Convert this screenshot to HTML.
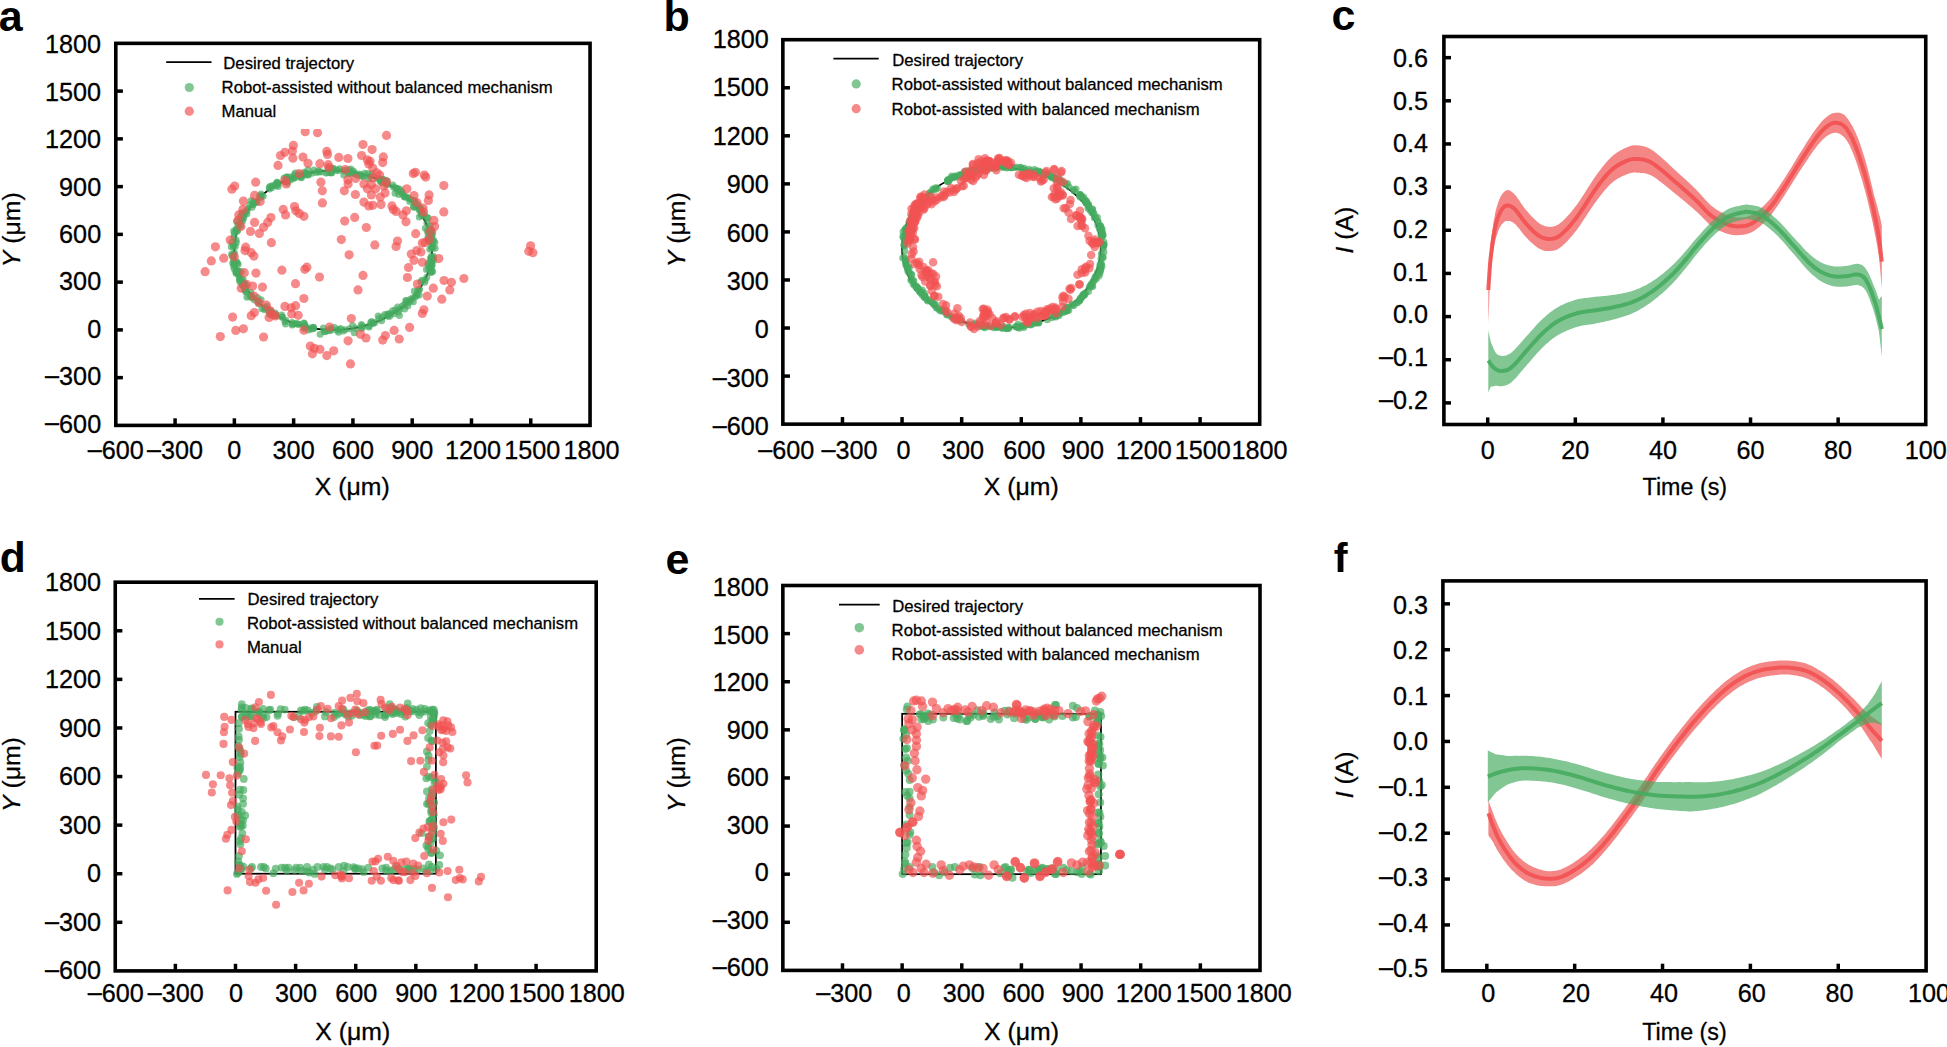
<!DOCTYPE html>
<html lang="en"><head><meta charset="utf-8"><title>Figure</title>
<style>html,body{margin:0;padding:0;background:#fff}svg{display:block}text{stroke:#000;stroke-width:0.3px;stroke-linejoin:round}text[font-weight=bold]{stroke:none}</style></head>
<body>
<svg width="1947" height="1047" viewBox="0 0 1947 1047" font-family='"Liberation Sans", sans-serif' fill="#000">
<rect width="1947" height="1047" fill="#fff"/>
<clipPath id="cpa"><rect x="115.8" y="129.0" width="474.24999999999994" height="296.4"/></clipPath>
<g clip-path="url(#cpa)">
<ellipse cx="333.16" cy="250.29" rx="98.80" ry="79.59" fill="none" stroke="#000" stroke-width="1.75"/>
<g fill="rgb(70,171,96)" fill-opacity="0.68">
<circle cx="400.1" cy="189.3" r="3.5"/><circle cx="330.1" cy="172.8" r="3.5"/><circle cx="240.7" cy="225.9" r="3.5"/><circle cx="413.5" cy="207.2" r="3.5"/><circle cx="431.6" cy="236.0" r="3.5"/><circle cx="340.7" cy="328.4" r="3.5"/><circle cx="429.7" cy="249.3" r="3.5"/><circle cx="346.5" cy="170.2" r="3.5"/><circle cx="426.8" cy="277.3" r="3.5"/><circle cx="430.8" cy="237.6" r="3.5"/><circle cx="235.9" cy="271.2" r="3.5"/><circle cx="353.7" cy="172.8" r="3.5"/><circle cx="244.6" cy="212.2" r="3.5"/><circle cx="241.3" cy="219.8" r="3.5"/><circle cx="343.7" cy="170.7" r="3.5"/><circle cx="236.1" cy="229.9" r="3.5"/><circle cx="307.9" cy="169.8" r="3.5"/><circle cx="239.8" cy="278.2" r="3.5"/><circle cx="269.8" cy="314.2" r="3.5"/><circle cx="399.4" cy="315.6" r="3.5"/><circle cx="404.0" cy="196.2" r="3.5"/><circle cx="308.7" cy="330.1" r="3.5"/><circle cx="421.9" cy="280.3" r="3.5"/><circle cx="284.9" cy="321.7" r="3.5"/><circle cx="301.5" cy="177.7" r="3.5"/><circle cx="388.4" cy="314.5" r="3.5"/><circle cx="234.5" cy="252.9" r="3.5"/><circle cx="337.7" cy="170.7" r="3.5"/><circle cx="362.0" cy="325.8" r="3.5"/><circle cx="238.2" cy="274.6" r="3.5"/><circle cx="304.6" cy="326.0" r="3.5"/><circle cx="242.6" cy="220.9" r="3.5"/><circle cx="233.8" cy="254.5" r="3.5"/><circle cx="257.1" cy="201.9" r="3.5"/><circle cx="233.8" cy="245.1" r="3.5"/><circle cx="304.5" cy="326.9" r="3.5"/><circle cx="430.3" cy="258.6" r="3.5"/><circle cx="380.3" cy="181.0" r="3.5"/><circle cx="431.9" cy="259.3" r="3.5"/><circle cx="395.1" cy="310.1" r="3.5"/><circle cx="343.8" cy="175.1" r="3.5"/><circle cx="246.0" cy="287.6" r="3.5"/><circle cx="237.6" cy="230.1" r="3.5"/><circle cx="430.7" cy="272.1" r="3.5"/><circle cx="432.9" cy="247.4" r="3.5"/><circle cx="405.7" cy="300.7" r="3.5"/><circle cx="327.2" cy="330.8" r="3.5"/><circle cx="243.1" cy="279.6" r="3.5"/><circle cx="241.7" cy="213.1" r="3.5"/><circle cx="242.4" cy="284.8" r="3.5"/><circle cx="363.3" cy="176.2" r="3.5"/><circle cx="271.6" cy="187.8" r="3.5"/><circle cx="278.2" cy="186.4" r="3.5"/><circle cx="258.2" cy="301.8" r="3.5"/><circle cx="236.3" cy="229.2" r="3.5"/><circle cx="377.0" cy="178.4" r="3.5"/><circle cx="246.0" cy="291.7" r="3.5"/><circle cx="361.4" cy="324.5" r="3.5"/><circle cx="373.3" cy="323.2" r="3.5"/><circle cx="285.6" cy="323.9" r="3.5"/><circle cx="419.3" cy="210.2" r="3.5"/><circle cx="336.6" cy="330.2" r="3.5"/><circle cx="333.4" cy="168.6" r="3.5"/><circle cx="276.9" cy="182.8" r="3.5"/><circle cx="424.0" cy="216.0" r="3.5"/><circle cx="382.8" cy="179.2" r="3.5"/><circle cx="319.0" cy="171.7" r="3.5"/><circle cx="290.6" cy="180.1" r="3.5"/><circle cx="233.8" cy="236.9" r="3.5"/><circle cx="245.8" cy="212.1" r="3.5"/><circle cx="371.9" cy="173.8" r="3.5"/><circle cx="232.0" cy="255.5" r="3.5"/><circle cx="357.7" cy="175.4" r="3.5"/><circle cx="429.5" cy="240.1" r="3.5"/><circle cx="433.3" cy="241.2" r="3.5"/><circle cx="387.3" cy="181.0" r="3.5"/><circle cx="305.5" cy="326.1" r="3.5"/><circle cx="351.0" cy="173.6" r="3.5"/><circle cx="431.7" cy="262.6" r="3.5"/><circle cx="349.4" cy="173.5" r="3.5"/><circle cx="275.2" cy="313.1" r="3.5"/><circle cx="289.7" cy="177.0" r="3.5"/><circle cx="264.8" cy="309.8" r="3.5"/><circle cx="430.8" cy="266.4" r="3.5"/><circle cx="402.6" cy="305.8" r="3.5"/><circle cx="295.3" cy="173.1" r="3.5"/><circle cx="425.1" cy="280.0" r="3.5"/><circle cx="331.7" cy="172.2" r="3.5"/><circle cx="432.5" cy="246.0" r="3.5"/><circle cx="374.9" cy="322.4" r="3.5"/><circle cx="428.6" cy="268.9" r="3.5"/><circle cx="399.7" cy="309.0" r="3.5"/><circle cx="430.4" cy="263.3" r="3.5"/><circle cx="263.2" cy="196.2" r="3.5"/><circle cx="276.1" cy="184.2" r="3.5"/><circle cx="240.5" cy="216.6" r="3.5"/><circle cx="367.9" cy="173.4" r="3.5"/><circle cx="304.4" cy="172.3" r="3.5"/><circle cx="286.8" cy="176.9" r="3.5"/><circle cx="429.0" cy="241.5" r="3.5"/><circle cx="362.6" cy="176.4" r="3.5"/><circle cx="354.3" cy="332.8" r="3.5"/><circle cx="355.6" cy="174.0" r="3.5"/><circle cx="420.8" cy="282.1" r="3.5"/><circle cx="277.0" cy="182.3" r="3.5"/><circle cx="236.3" cy="242.7" r="3.5"/><circle cx="432.1" cy="257.6" r="3.5"/><circle cx="420.9" cy="208.4" r="3.5"/><circle cx="381.6" cy="179.5" r="3.5"/><circle cx="338.8" cy="329.4" r="3.5"/><circle cx="252.4" cy="297.9" r="3.5"/><circle cx="308.1" cy="174.4" r="3.5"/><circle cx="397.6" cy="306.9" r="3.5"/><circle cx="406.5" cy="300.6" r="3.5"/><circle cx="398.0" cy="190.8" r="3.5"/><circle cx="429.0" cy="230.9" r="3.5"/><circle cx="423.8" cy="213.9" r="3.5"/><circle cx="379.0" cy="318.7" r="3.5"/><circle cx="258.7" cy="303.4" r="3.5"/><circle cx="245.2" cy="284.0" r="3.5"/><circle cx="349.6" cy="170.3" r="3.5"/><circle cx="410.3" cy="301.3" r="3.5"/><circle cx="240.5" cy="282.4" r="3.5"/><circle cx="316.5" cy="172.4" r="3.5"/><circle cx="356.0" cy="328.2" r="3.5"/><circle cx="285.8" cy="320.2" r="3.5"/><circle cx="418.5" cy="205.3" r="3.5"/><circle cx="431.4" cy="229.8" r="3.5"/><circle cx="339.7" cy="168.8" r="3.5"/><circle cx="407.2" cy="197.3" r="3.5"/><circle cx="382.4" cy="180.8" r="3.5"/><circle cx="414.5" cy="200.5" r="3.5"/><circle cx="414.3" cy="291.0" r="3.5"/><circle cx="419.2" cy="295.1" r="3.5"/><circle cx="306.1" cy="173.5" r="3.5"/><circle cx="414.9" cy="202.1" r="3.5"/><circle cx="275.8" cy="315.7" r="3.5"/><circle cx="431.7" cy="259.0" r="3.5"/><circle cx="305.6" cy="175.1" r="3.5"/><circle cx="295.2" cy="177.6" r="3.5"/><circle cx="428.2" cy="218.0" r="3.5"/><circle cx="428.2" cy="264.9" r="3.5"/><circle cx="409.4" cy="198.5" r="3.5"/><circle cx="433.8" cy="260.6" r="3.5"/><circle cx="238.6" cy="271.3" r="3.5"/><circle cx="327.6" cy="172.8" r="3.5"/><circle cx="237.9" cy="270.8" r="3.5"/><circle cx="420.6" cy="210.6" r="3.5"/><circle cx="313.8" cy="170.1" r="3.5"/><circle cx="276.0" cy="315.4" r="3.5"/><circle cx="270.7" cy="314.2" r="3.5"/><circle cx="298.8" cy="176.0" r="3.5"/><circle cx="287.6" cy="180.8" r="3.5"/><circle cx="413.3" cy="301.7" r="3.5"/><circle cx="301.2" cy="175.8" r="3.5"/><circle cx="244.4" cy="289.2" r="3.5"/><circle cx="251.5" cy="295.6" r="3.5"/><circle cx="337.1" cy="170.1" r="3.5"/><circle cx="421.7" cy="215.5" r="3.5"/><circle cx="421.2" cy="214.1" r="3.5"/><circle cx="268.3" cy="309.8" r="3.5"/><circle cx="231.2" cy="246.8" r="3.5"/><circle cx="398.3" cy="311.9" r="3.5"/><circle cx="361.3" cy="328.6" r="3.5"/><circle cx="421.7" cy="212.6" r="3.5"/><circle cx="349.4" cy="328.8" r="3.5"/><circle cx="432.5" cy="257.9" r="3.5"/><circle cx="409.7" cy="201.4" r="3.5"/><circle cx="233.2" cy="257.6" r="3.5"/><circle cx="410.5" cy="299.3" r="3.5"/><circle cx="395.8" cy="187.9" r="3.5"/><circle cx="293.3" cy="177.4" r="3.5"/><circle cx="415.5" cy="296.7" r="3.5"/><circle cx="384.8" cy="314.6" r="3.5"/><circle cx="330.8" cy="329.8" r="3.5"/><circle cx="243.7" cy="217.9" r="3.5"/><circle cx="387.1" cy="183.9" r="3.5"/><circle cx="331.6" cy="172.9" r="3.5"/><circle cx="427.0" cy="217.6" r="3.5"/><circle cx="239.4" cy="274.4" r="3.5"/><circle cx="236.3" cy="271.1" r="3.5"/><circle cx="255.8" cy="202.5" r="3.5"/><circle cx="328.1" cy="168.1" r="3.5"/><circle cx="247.0" cy="210.2" r="3.5"/><circle cx="242.3" cy="285.2" r="3.5"/><circle cx="397.5" cy="188.8" r="3.5"/><circle cx="403.1" cy="193.9" r="3.5"/><circle cx="251.2" cy="200.5" r="3.5"/><circle cx="253.4" cy="204.3" r="3.5"/><circle cx="431.4" cy="246.6" r="3.5"/><circle cx="238.1" cy="264.2" r="3.5"/><circle cx="241.4" cy="220.1" r="3.5"/><circle cx="294.7" cy="323.8" r="3.5"/><circle cx="236.2" cy="239.9" r="3.5"/><circle cx="348.3" cy="173.2" r="3.5"/><circle cx="416.8" cy="295.0" r="3.5"/><circle cx="419.0" cy="289.6" r="3.5"/><circle cx="430.1" cy="225.7" r="3.5"/><circle cx="419.3" cy="217.1" r="3.5"/><circle cx="386.4" cy="183.2" r="3.5"/><circle cx="343.2" cy="330.9" r="3.5"/><circle cx="298.5" cy="324.1" r="3.5"/><circle cx="389.8" cy="313.7" r="3.5"/><circle cx="324.6" cy="331.8" r="3.5"/><circle cx="249.2" cy="296.3" r="3.5"/><circle cx="426.4" cy="269.4" r="3.5"/><circle cx="243.3" cy="285.1" r="3.5"/><circle cx="353.4" cy="170.9" r="3.5"/><circle cx="243.3" cy="284.1" r="3.5"/><circle cx="292.1" cy="322.4" r="3.5"/><circle cx="313.1" cy="327.3" r="3.5"/><circle cx="384.6" cy="180.1" r="3.5"/><circle cx="320.1" cy="334.2" r="3.5"/><circle cx="368.9" cy="326.1" r="3.5"/><circle cx="264.9" cy="307.7" r="3.5"/><circle cx="432.7" cy="271.4" r="3.5"/><circle cx="397.1" cy="188.6" r="3.5"/><circle cx="281.6" cy="315.0" r="3.5"/><circle cx="303.9" cy="322.9" r="3.5"/><circle cx="431.9" cy="264.9" r="3.5"/><circle cx="259.5" cy="196.1" r="3.5"/><circle cx="382.9" cy="183.1" r="3.5"/><circle cx="286.7" cy="176.9" r="3.5"/><circle cx="431.6" cy="271.1" r="3.5"/><circle cx="404.7" cy="196.9" r="3.5"/><circle cx="405.5" cy="197.0" r="3.5"/><circle cx="305.2" cy="173.6" r="3.5"/><circle cx="435.1" cy="248.2" r="3.5"/><circle cx="369.6" cy="176.3" r="3.5"/><circle cx="264.1" cy="307.8" r="3.5"/><circle cx="254.6" cy="299.9" r="3.5"/><circle cx="311.9" cy="173.3" r="3.5"/><circle cx="237.9" cy="271.2" r="3.5"/><circle cx="332.6" cy="168.2" r="3.5"/><circle cx="292.6" cy="324.0" r="3.5"/><circle cx="428.0" cy="263.0" r="3.5"/><circle cx="241.3" cy="271.8" r="3.5"/><circle cx="345.0" cy="329.8" r="3.5"/><circle cx="244.6" cy="284.1" r="3.5"/><circle cx="411.0" cy="199.5" r="3.5"/><circle cx="369.0" cy="327.0" r="3.5"/><circle cx="236.2" cy="273.3" r="3.5"/><circle cx="430.2" cy="267.8" r="3.5"/><circle cx="395.0" cy="193.3" r="3.5"/><circle cx="244.9" cy="285.1" r="3.5"/><circle cx="270.4" cy="186.3" r="3.5"/><circle cx="233.8" cy="264.8" r="3.5"/><circle cx="239.0" cy="225.4" r="3.5"/><circle cx="300.5" cy="177.3" r="3.5"/><circle cx="292.2" cy="324.9" r="3.5"/><circle cx="235.2" cy="246.5" r="3.5"/><circle cx="361.1" cy="175.0" r="3.5"/><circle cx="431.8" cy="248.4" r="3.5"/><circle cx="407.8" cy="305.9" r="3.5"/><circle cx="378.2" cy="316.1" r="3.5"/><circle cx="237.3" cy="231.3" r="3.5"/><circle cx="382.2" cy="317.1" r="3.5"/><circle cx="433.5" cy="256.6" r="3.5"/><circle cx="299.0" cy="174.1" r="3.5"/><circle cx="233.9" cy="266.1" r="3.5"/><circle cx="269.2" cy="187.2" r="3.5"/><circle cx="244.6" cy="214.4" r="3.5"/><circle cx="249.9" cy="204.7" r="3.5"/><circle cx="323.3" cy="328.1" r="3.5"/><circle cx="412.6" cy="298.1" r="3.5"/><circle cx="330.6" cy="328.2" r="3.5"/><circle cx="271.1" cy="310.9" r="3.5"/><circle cx="252.1" cy="207.3" r="3.5"/><circle cx="266.8" cy="306.3" r="3.5"/><circle cx="352.6" cy="325.6" r="3.5"/><circle cx="389.7" cy="316.3" r="3.5"/><circle cx="257.5" cy="297.5" r="3.5"/><circle cx="275.3" cy="185.7" r="3.5"/><circle cx="404.6" cy="309.1" r="3.5"/><circle cx="236.1" cy="272.7" r="3.5"/><circle cx="231.9" cy="242.3" r="3.5"/><circle cx="234.3" cy="233.5" r="3.5"/><circle cx="329.9" cy="330.7" r="3.5"/><circle cx="246.9" cy="213.7" r="3.5"/><circle cx="433.5" cy="240.2" r="3.5"/><circle cx="231.7" cy="254.0" r="3.5"/><circle cx="253.0" cy="204.6" r="3.5"/><circle cx="296.4" cy="323.5" r="3.5"/><circle cx="359.0" cy="173.9" r="3.5"/><circle cx="407.9" cy="302.7" r="3.5"/><circle cx="381.6" cy="320.7" r="3.5"/><circle cx="236.5" cy="261.7" r="3.5"/><circle cx="324.8" cy="331.4" r="3.5"/><circle cx="380.9" cy="182.0" r="3.5"/><circle cx="371.6" cy="321.6" r="3.5"/><circle cx="321.0" cy="172.0" r="3.5"/><circle cx="242.0" cy="279.9" r="3.5"/><circle cx="380.0" cy="179.0" r="3.5"/><circle cx="287.2" cy="183.1" r="3.5"/><circle cx="350.8" cy="169.1" r="3.5"/><circle cx="387.9" cy="316.2" r="3.5"/><circle cx="432.3" cy="234.7" r="3.5"/><circle cx="293.5" cy="178.6" r="3.5"/><circle cx="242.8" cy="217.0" r="3.5"/><circle cx="368.6" cy="178.8" r="3.5"/><circle cx="261.9" cy="308.7" r="3.5"/><circle cx="236.5" cy="221.2" r="3.5"/><circle cx="417.6" cy="291.6" r="3.5"/><circle cx="325.9" cy="172.9" r="3.5"/><circle cx="234.9" cy="263.7" r="3.5"/><circle cx="311.9" cy="329.0" r="3.5"/><circle cx="269.5" cy="189.1" r="3.5"/><circle cx="313.7" cy="327.4" r="3.5"/><circle cx="313.7" cy="328.4" r="3.5"/><circle cx="253.5" cy="201.7" r="3.5"/><circle cx="233.3" cy="246.4" r="3.5"/><circle cx="426.9" cy="222.8" r="3.5"/><circle cx="251.3" cy="296.8" r="3.5"/><circle cx="429.2" cy="233.2" r="3.5"/><circle cx="304.4" cy="328.5" r="3.5"/><circle cx="261.1" cy="299.8" r="3.5"/><circle cx="278.5" cy="183.1" r="3.5"/><circle cx="298.5" cy="324.4" r="3.5"/><circle cx="413.7" cy="206.2" r="3.5"/><circle cx="261.0" cy="194.0" r="3.5"/><circle cx="381.8" cy="180.3" r="3.5"/><circle cx="233.7" cy="231.0" r="3.5"/><circle cx="245.7" cy="289.1" r="3.5"/><circle cx="284.1" cy="178.0" r="3.5"/><circle cx="246.9" cy="297.2" r="3.5"/><circle cx="425.3" cy="228.3" r="3.5"/><circle cx="362.5" cy="327.6" r="3.5"/><circle cx="260.5" cy="197.5" r="3.5"/><circle cx="245.1" cy="289.6" r="3.5"/><circle cx="404.8" cy="304.4" r="3.5"/><circle cx="338.6" cy="332.2" r="3.5"/><circle cx="434.9" cy="242.4" r="3.5"/><circle cx="393.6" cy="187.3" r="3.5"/><circle cx="261.5" cy="195.8" r="3.5"/><circle cx="398.8" cy="194.4" r="3.5"/><circle cx="416.1" cy="295.2" r="3.5"/><circle cx="432.8" cy="232.0" r="3.5"/><circle cx="429.9" cy="228.7" r="3.5"/><circle cx="318.4" cy="170.7" r="3.5"/><circle cx="431.3" cy="236.4" r="3.5"/><circle cx="268.9" cy="311.0" r="3.5"/><circle cx="387.7" cy="314.1" r="3.5"/><circle cx="282.6" cy="317.0" r="3.5"/><circle cx="432.0" cy="265.8" r="3.5"/><circle cx="270.8" cy="312.4" r="3.5"/><circle cx="424.7" cy="282.2" r="3.5"/><circle cx="250.8" cy="292.6" r="3.5"/><circle cx="239.3" cy="280.5" r="3.5"/><circle cx="233.6" cy="261.6" r="3.5"/><circle cx="248.1" cy="208.3" r="3.5"/><circle cx="364.6" cy="173.2" r="3.5"/><circle cx="282.0" cy="317.3" r="3.5"/><circle cx="310.7" cy="328.0" r="3.5"/><circle cx="334.5" cy="327.5" r="3.5"/><circle cx="332.2" cy="169.4" r="3.5"/><circle cx="419.5" cy="289.3" r="3.5"/><circle cx="393.9" cy="313.8" r="3.5"/><circle cx="416.1" cy="207.2" r="3.5"/><circle cx="370.8" cy="322.5" r="3.5"/><circle cx="432.1" cy="258.0" r="3.5"/><circle cx="427.4" cy="230.8" r="3.5"/><circle cx="401.6" cy="192.9" r="3.5"/><circle cx="255.5" cy="202.0" r="3.5"/><circle cx="427.7" cy="238.5" r="3.5"/><circle cx="232.7" cy="262.9" r="3.5"/><circle cx="419.6" cy="208.4" r="3.5"/><circle cx="428.0" cy="233.7" r="3.5"/><circle cx="294.1" cy="174.9" r="3.5"/><circle cx="401.6" cy="191.4" r="3.5"/><circle cx="392.5" cy="310.8" r="3.5"/><circle cx="300.7" cy="176.0" r="3.5"/><circle cx="239.8" cy="278.6" r="3.5"/><circle cx="286.1" cy="181.7" r="3.5"/><circle cx="431.0" cy="272.6" r="3.5"/><circle cx="245.9" cy="291.6" r="3.5"/><circle cx="237.8" cy="224.5" r="3.5"/><circle cx="431.4" cy="256.3" r="3.5"/><circle cx="304.3" cy="323.5" r="3.5"/><circle cx="234.0" cy="268.6" r="3.5"/><circle cx="308.2" cy="175.0" r="3.5"/><circle cx="387.0" cy="184.8" r="3.5"/><circle cx="415.5" cy="203.5" r="3.5"/><circle cx="277.5" cy="184.7" r="3.5"/><circle cx="372.4" cy="323.4" r="3.5"/><circle cx="275.8" cy="314.8" r="3.5"/><circle cx="272.8" cy="185.4" r="3.5"/><circle cx="288.0" cy="179.2" r="3.5"/><circle cx="237.4" cy="263.0" r="3.5"/><circle cx="392.8" cy="185.0" r="3.5"/><circle cx="287.1" cy="180.4" r="3.5"/>
</g>
<g fill="rgb(241,82,82)" fill-opacity="0.68">
<circle cx="305.2" cy="131.7" r="4.6"/><circle cx="317.5" cy="132.7" r="4.6"/><circle cx="293.4" cy="145.4" r="4.6"/><circle cx="292.4" cy="150.9" r="4.6"/><circle cx="284.9" cy="152.3" r="4.6"/><circle cx="280.5" cy="155.5" r="4.6"/><circle cx="292.9" cy="158.2" r="4.6"/><circle cx="303.0" cy="157.1" r="4.6"/><circle cx="308.0" cy="163.3" r="4.6"/><circle cx="278.0" cy="165.4" r="4.6"/><circle cx="326.8" cy="151.4" r="4.6"/><circle cx="327.5" cy="154.4" r="4.6"/><circle cx="319.9" cy="163.7" r="4.6"/><circle cx="328.2" cy="164.7" r="4.6"/><circle cx="328.9" cy="167.4" r="4.6"/><circle cx="338.8" cy="157.4" r="4.6"/><circle cx="347.9" cy="158.5" r="4.6"/><circle cx="363.0" cy="144.5" r="4.6"/><circle cx="361.6" cy="155.5" r="4.6"/><circle cx="367.4" cy="159.9" r="4.6"/><circle cx="368.8" cy="164.0" r="4.6"/><circle cx="299.3" cy="173.6" r="4.6"/><circle cx="284.9" cy="180.5" r="4.6"/><circle cx="286.3" cy="183.9" r="4.6"/><circle cx="255.7" cy="182.2" r="4.6"/><circle cx="234.7" cy="186.0" r="4.6"/><circle cx="231.9" cy="189.2" r="4.6"/><circle cx="254.6" cy="195.4" r="4.6"/><circle cx="243.4" cy="201.1" r="4.6"/><circle cx="260.1" cy="201.5" r="4.6"/><circle cx="242.9" cy="209.4" r="4.6"/><circle cx="238.8" cy="214.9" r="4.6"/><circle cx="238.1" cy="220.4" r="4.6"/><circle cx="240.9" cy="226.6" r="4.6"/><circle cx="320.9" cy="182.2" r="4.6"/><circle cx="322.3" cy="190.8" r="4.6"/><circle cx="322.4" cy="202.9" r="4.6"/><circle cx="345.4" cy="169.5" r="4.6"/><circle cx="347.9" cy="179.8" r="4.6"/><circle cx="348.1" cy="183.9" r="4.6"/><circle cx="355.7" cy="178.4" r="4.6"/><circle cx="344.3" cy="190.8" r="4.6"/><circle cx="355.4" cy="194.5" r="4.6"/><circle cx="363.9" cy="183.9" r="4.6"/><circle cx="367.4" cy="188.8" r="4.6"/><circle cx="363.9" cy="202.1" r="4.6"/><circle cx="368.8" cy="205.9" r="4.6"/><circle cx="283.2" cy="209.4" r="4.6"/><circle cx="294.5" cy="206.6" r="4.6"/><circle cx="285.6" cy="214.9" r="4.6"/><circle cx="295.9" cy="210.8" r="4.6"/><circle cx="299.3" cy="213.5" r="4.6"/><circle cx="303.9" cy="216.3" r="4.6"/><circle cx="270.9" cy="217.6" r="4.6"/><circle cx="254.6" cy="222.4" r="4.6"/><circle cx="267.7" cy="222.4" r="4.6"/><circle cx="263.6" cy="227.3" r="4.6"/><circle cx="250.5" cy="231.4" r="4.6"/><circle cx="259.4" cy="233.4" r="4.6"/><circle cx="354.7" cy="217.4" r="4.6"/><circle cx="344.7" cy="221.1" r="4.6"/><circle cx="366.3" cy="227.5" r="4.6"/><circle cx="230.2" cy="240.0" r="4.6"/><circle cx="215.4" cy="246.8" r="4.6"/><circle cx="271.4" cy="242.7" r="4.6"/><circle cx="341.3" cy="239.6" r="4.6"/><circle cx="349.1" cy="254.8" r="4.6"/><circle cx="245.7" cy="247.2" r="4.6"/><circle cx="245.0" cy="250.6" r="4.6"/><circle cx="251.2" cy="252.7" r="4.6"/><circle cx="253.9" cy="256.1" r="4.6"/><circle cx="223.7" cy="258.2" r="4.6"/><circle cx="211.3" cy="260.9" r="4.6"/><circle cx="234.3" cy="256.8" r="4.6"/><circle cx="386.5" cy="135.4" r="4.6"/><circle cx="372.1" cy="149.6" r="4.6"/><circle cx="383.3" cy="156.9" r="4.6"/><circle cx="382.7" cy="162.6" r="4.6"/><circle cx="370.0" cy="161.3" r="4.6"/><circle cx="372.8" cy="168.1" r="4.6"/><circle cx="376.9" cy="172.9" r="4.6"/><circle cx="379.6" cy="175.0" r="4.6"/><circle cx="372.8" cy="177.8" r="4.6"/><circle cx="371.4" cy="184.6" r="4.6"/><circle cx="375.5" cy="188.8" r="4.6"/><circle cx="383.8" cy="186.0" r="4.6"/><circle cx="386.5" cy="181.9" r="4.6"/><circle cx="385.1" cy="192.9" r="4.6"/><circle cx="371.4" cy="194.9" r="4.6"/><circle cx="380.3" cy="197.0" r="4.6"/><circle cx="372.8" cy="205.3" r="4.6"/><circle cx="381.0" cy="204.6" r="4.6"/><circle cx="413.3" cy="173.6" r="4.6"/><circle cx="415.4" cy="172.3" r="4.6"/><circle cx="424.3" cy="175.0" r="4.6"/><circle cx="425.7" cy="177.1" r="4.6"/><circle cx="443.8" cy="185.6" r="4.6"/><circle cx="429.1" cy="194.9" r="4.6"/><circle cx="428.4" cy="200.4" r="4.6"/><circle cx="406.9" cy="188.8" r="4.6"/><circle cx="414.0" cy="195.6" r="4.6"/><circle cx="416.8" cy="202.5" r="4.6"/><circle cx="422.9" cy="208.0" r="4.6"/><circle cx="423.6" cy="212.1" r="4.6"/><circle cx="443.8" cy="211.9" r="4.6"/><circle cx="392.0" cy="205.9" r="4.6"/><circle cx="393.4" cy="209.4" r="4.6"/><circle cx="396.1" cy="211.4" r="4.6"/><circle cx="406.4" cy="210.8" r="4.6"/><circle cx="403.0" cy="214.9" r="4.6"/><circle cx="406.0" cy="221.8" r="4.6"/><circle cx="433.9" cy="220.4" r="4.6"/><circle cx="434.6" cy="226.6" r="4.6"/><circle cx="430.5" cy="231.4" r="4.6"/><circle cx="415.7" cy="233.7" r="4.6"/><circle cx="429.1" cy="239.6" r="4.6"/><circle cx="397.5" cy="241.0" r="4.6"/><circle cx="396.1" cy="246.5" r="4.6"/><circle cx="374.8" cy="244.9" r="4.6"/><circle cx="422.3" cy="243.1" r="4.6"/><circle cx="425.0" cy="242.4" r="4.6"/><circle cx="416.8" cy="250.6" r="4.6"/><circle cx="411.3" cy="254.1" r="4.6"/><circle cx="420.9" cy="252.0" r="4.6"/><circle cx="414.0" cy="260.3" r="4.6"/><circle cx="422.3" cy="262.3" r="4.6"/><circle cx="438.8" cy="258.6" r="4.6"/><circle cx="530.6" cy="245.8" r="4.6"/><circle cx="528.8" cy="251.3" r="4.6"/><circle cx="532.9" cy="252.7" r="4.6"/><circle cx="205.1" cy="271.7" r="4.6"/><circle cx="244.3" cy="272.7" r="4.6"/><circle cx="256.0" cy="273.1" r="4.6"/><circle cx="281.9" cy="270.2" r="4.6"/><circle cx="306.9" cy="267.2" r="4.6"/><circle cx="304.8" cy="269.3" r="4.6"/><circle cx="319.5" cy="277.1" r="4.6"/><circle cx="363.0" cy="275.4" r="4.6"/><circle cx="358.0" cy="289.9" r="4.6"/><circle cx="295.5" cy="283.7" r="4.6"/><circle cx="303.9" cy="298.5" r="4.6"/><circle cx="241.2" cy="288.2" r="4.6"/><circle cx="246.4" cy="284.4" r="4.6"/><circle cx="252.6" cy="286.0" r="4.6"/><circle cx="262.5" cy="287.1" r="4.6"/><circle cx="253.9" cy="296.1" r="4.6"/><circle cx="258.8" cy="302.3" r="4.6"/><circle cx="266.3" cy="305.0" r="4.6"/><circle cx="269.8" cy="310.5" r="4.6"/><circle cx="272.5" cy="314.6" r="4.6"/><circle cx="269.1" cy="317.4" r="4.6"/><circle cx="275.3" cy="316.0" r="4.6"/><circle cx="284.9" cy="306.4" r="4.6"/><circle cx="291.1" cy="307.8" r="4.6"/><circle cx="295.6" cy="305.7" r="4.6"/><circle cx="291.8" cy="313.9" r="4.6"/><circle cx="298.2" cy="315.3" r="4.6"/><circle cx="232.6" cy="317.1" r="4.6"/><circle cx="251.2" cy="315.7" r="4.6"/><circle cx="254.4" cy="312.6" r="4.6"/><circle cx="235.8" cy="330.4" r="4.6"/><circle cx="243.4" cy="328.8" r="4.6"/><circle cx="220.3" cy="336.6" r="4.6"/><circle cx="263.6" cy="337.0" r="4.6"/><circle cx="303.9" cy="330.2" r="4.6"/><circle cx="329.6" cy="327.0" r="4.6"/><circle cx="351.3" cy="318.5" r="4.6"/><circle cx="348.1" cy="340.8" r="4.6"/><circle cx="360.5" cy="334.3" r="4.6"/><circle cx="366.0" cy="338.0" r="4.6"/><circle cx="310.3" cy="346.0" r="4.6"/><circle cx="314.4" cy="348.3" r="4.6"/><circle cx="319.9" cy="349.3" r="4.6"/><circle cx="312.4" cy="353.8" r="4.6"/><circle cx="326.8" cy="355.6" r="4.6"/><circle cx="333.7" cy="350.8" r="4.6"/><circle cx="350.5" cy="363.9" r="4.6"/><circle cx="408.5" cy="267.5" r="4.6"/><circle cx="407.4" cy="277.5" r="4.6"/><circle cx="417.4" cy="284.0" r="4.6"/><circle cx="444.0" cy="280.5" r="4.6"/><circle cx="451.4" cy="282.3" r="4.6"/><circle cx="463.9" cy="278.5" r="4.6"/><circle cx="433.3" cy="288.2" r="4.6"/><circle cx="449.8" cy="289.9" r="4.6"/><circle cx="427.3" cy="296.1" r="4.6"/><circle cx="441.8" cy="299.2" r="4.6"/><circle cx="423.9" cy="309.8" r="4.6"/><circle cx="422.3" cy="313.5" r="4.6"/><circle cx="409.6" cy="327.4" r="4.6"/><circle cx="394.1" cy="330.4" r="4.6"/><circle cx="385.4" cy="335.5" r="4.6"/><circle cx="382.7" cy="340.1" r="4.6"/><circle cx="399.2" cy="339.0" r="4.6"/>
</g>
</g>
<rect x="115.80" y="43.35" width="474.25" height="382.05" fill="none" stroke="#000" stroke-width="3.6"/>
<text x="115.80" y="458.70" font-size="25.2" text-anchor="middle"><tspan dy="-1.2">–</tspan><tspan dy="1.2">600</tspan></text>
<line x1="175.08" y1="425.40" x2="175.08" y2="418.30" stroke="#000" stroke-width="3.5"/>
<text x="175.08" y="458.70" font-size="25.2" text-anchor="middle"><tspan dy="-1.2">–</tspan><tspan dy="1.2">300</tspan></text>
<line x1="234.36" y1="425.40" x2="234.36" y2="418.30" stroke="#000" stroke-width="3.5"/>
<text x="234.36" y="458.70" font-size="25.2" text-anchor="middle">0</text>
<line x1="293.64" y1="425.40" x2="293.64" y2="418.30" stroke="#000" stroke-width="3.5"/>
<text x="293.64" y="458.70" font-size="25.2" text-anchor="middle">300</text>
<line x1="352.92" y1="425.40" x2="352.92" y2="418.30" stroke="#000" stroke-width="3.5"/>
<text x="352.92" y="458.70" font-size="25.2" text-anchor="middle">600</text>
<line x1="412.21" y1="425.40" x2="412.21" y2="418.30" stroke="#000" stroke-width="3.5"/>
<text x="412.21" y="458.70" font-size="25.2" text-anchor="middle">900</text>
<line x1="471.49" y1="425.40" x2="471.49" y2="418.30" stroke="#000" stroke-width="3.5"/>
<text x="472.99" y="458.70" font-size="25.2" text-anchor="middle">1200</text>
<line x1="530.77" y1="425.40" x2="530.77" y2="418.30" stroke="#000" stroke-width="3.5"/>
<text x="532.27" y="458.70" font-size="25.2" text-anchor="middle">1500</text>
<text x="591.45" y="458.70" font-size="25.2" text-anchor="middle">1800</text>
<text x="101.15" y="432.55" font-size="25.2" text-anchor="end"><tspan dy="-1.2">–</tspan><tspan dy="1.2">600</tspan></text>
<line x1="115.80" y1="377.64" x2="122.90" y2="377.64" stroke="#000" stroke-width="3.5"/>
<text x="101.15" y="385.15" font-size="25.2" text-anchor="end"><tspan dy="-1.2">–</tspan><tspan dy="1.2">300</tspan></text>
<line x1="115.80" y1="329.89" x2="122.90" y2="329.89" stroke="#000" stroke-width="3.5"/>
<text x="101.15" y="337.75" font-size="25.2" text-anchor="end">0</text>
<line x1="115.80" y1="282.13" x2="122.90" y2="282.13" stroke="#000" stroke-width="3.5"/>
<text x="101.15" y="290.36" font-size="25.2" text-anchor="end">300</text>
<line x1="115.80" y1="234.38" x2="122.90" y2="234.38" stroke="#000" stroke-width="3.5"/>
<text x="101.15" y="242.96" font-size="25.2" text-anchor="end">600</text>
<line x1="115.80" y1="186.62" x2="122.90" y2="186.62" stroke="#000" stroke-width="3.5"/>
<text x="101.15" y="195.56" font-size="25.2" text-anchor="end">900</text>
<line x1="115.80" y1="138.86" x2="122.90" y2="138.86" stroke="#000" stroke-width="3.5"/>
<text x="101.15" y="148.16" font-size="25.2" text-anchor="end">1200</text>
<line x1="115.80" y1="91.11" x2="122.90" y2="91.11" stroke="#000" stroke-width="3.5"/>
<text x="101.15" y="100.77" font-size="25.2" text-anchor="end">1500</text>
<text x="101.15" y="53.37" font-size="25.2" text-anchor="end">1800</text>
<text x="352.32" y="494.70" font-size="24.8" text-anchor="middle">X (μm)</text>
<text transform="translate(19.70,229.70) rotate(-90)" font-size="24.8" text-anchor="middle"><tspan font-style="italic">Y</tspan> (μm)</text>
<line x1="166.2" y1="62.2" x2="211.5" y2="62.2" stroke="#000" stroke-width="1.75"/>
<circle cx="189.3" cy="87.5" r="4.6" fill="rgb(70,171,96)" fill-opacity="0.68"/>
<circle cx="189.3" cy="111.2" r="4.6" fill="rgb(241,82,82)" fill-opacity="0.68"/>
<text x="223.30" y="68.7" font-size="16.7">Desired trajectory</text>
<text x="221.6" y="92.8" font-size="16.7">Robot-assisted without balanced mechanism</text>
<text x="221.6" y="116.8" font-size="16.7">Manual</text>
<text x="-1.3" y="30.9" font-size="43" font-weight="bold">a</text>
<clipPath id="cpb"><rect x="782.85" y="39.7" width="476.85" height="384.45"/></clipPath>
<g clip-path="url(#cpb)">
<ellipse cx="1001.41" cy="247.94" rx="99.34" ry="80.09" fill="none" stroke="#000" stroke-width="1.75"/>
<g fill="rgb(70,171,96)" fill-opacity="0.68">
<circle cx="1011.3" cy="167.8" r="3.5"/><circle cx="924.8" cy="295.8" r="3.5"/><circle cx="933.6" cy="304.3" r="3.5"/><circle cx="1055.9" cy="315.7" r="3.5"/><circle cx="997.9" cy="166.6" r="3.5"/><circle cx="903.0" cy="231.7" r="3.5"/><circle cx="1054.7" cy="314.9" r="3.5"/><circle cx="1062.2" cy="181.8" r="3.5"/><circle cx="937.4" cy="308.0" r="3.5"/><circle cx="998.4" cy="326.6" r="3.5"/><circle cx="955.9" cy="319.2" r="3.5"/><circle cx="919.5" cy="291.0" r="3.5"/><circle cx="971.7" cy="169.2" r="3.5"/><circle cx="905.3" cy="233.4" r="3.5"/><circle cx="984.2" cy="327.0" r="3.5"/><circle cx="1090.6" cy="284.9" r="3.5"/><circle cx="924.8" cy="197.7" r="3.5"/><circle cx="1094.5" cy="278.4" r="3.5"/><circle cx="1076.2" cy="302.9" r="3.5"/><circle cx="1024.4" cy="168.2" r="3.5"/><circle cx="1100.0" cy="264.2" r="3.5"/><circle cx="972.2" cy="170.4" r="3.5"/><circle cx="904.9" cy="250.8" r="3.5"/><circle cx="917.6" cy="288.4" r="3.5"/><circle cx="916.8" cy="288.3" r="3.5"/><circle cx="1093.0" cy="281.5" r="3.5"/><circle cx="1066.4" cy="311.3" r="3.5"/><circle cx="1055.5" cy="178.5" r="3.5"/><circle cx="1068.8" cy="310.3" r="3.5"/><circle cx="913.8" cy="280.8" r="3.5"/><circle cx="981.3" cy="325.9" r="3.5"/><circle cx="913.1" cy="283.7" r="3.5"/><circle cx="981.7" cy="167.1" r="3.5"/><circle cx="1103.9" cy="252.3" r="3.5"/><circle cx="1088.7" cy="204.5" r="3.5"/><circle cx="1061.5" cy="182.6" r="3.5"/><circle cx="976.6" cy="169.6" r="3.5"/><circle cx="1097.9" cy="225.6" r="3.5"/><circle cx="927.8" cy="301.0" r="3.5"/><circle cx="955.1" cy="176.6" r="3.5"/><circle cx="1077.6" cy="302.6" r="3.5"/><circle cx="1103.3" cy="247.9" r="3.5"/><circle cx="966.9" cy="171.3" r="3.5"/><circle cx="1102.1" cy="231.3" r="3.5"/><circle cx="1035.8" cy="172.1" r="3.5"/><circle cx="1059.6" cy="179.8" r="3.5"/><circle cx="1100.4" cy="225.8" r="3.5"/><circle cx="1099.5" cy="267.6" r="3.5"/><circle cx="1082.6" cy="295.3" r="3.5"/><circle cx="904.3" cy="257.3" r="3.5"/><circle cx="942.8" cy="309.6" r="3.5"/><circle cx="931.7" cy="301.8" r="3.5"/><circle cx="1095.7" cy="276.1" r="3.5"/><circle cx="985.3" cy="326.1" r="3.5"/><circle cx="1011.5" cy="167.8" r="3.5"/><circle cx="902.7" cy="258.1" r="3.5"/><circle cx="907.9" cy="271.5" r="3.5"/><circle cx="916.4" cy="285.9" r="3.5"/><circle cx="1101.7" cy="237.2" r="3.5"/><circle cx="1095.6" cy="217.8" r="3.5"/><circle cx="935.3" cy="303.9" r="3.5"/><circle cx="977.1" cy="324.9" r="3.5"/><circle cx="996.3" cy="327.6" r="3.5"/><circle cx="959.1" cy="319.0" r="3.5"/><circle cx="1100.8" cy="265.5" r="3.5"/><circle cx="919.8" cy="291.9" r="3.5"/><circle cx="961.6" cy="174.9" r="3.5"/><circle cx="935.6" cy="187.8" r="3.5"/><circle cx="921.8" cy="292.4" r="3.5"/><circle cx="1017.8" cy="327.6" r="3.5"/><circle cx="1100.7" cy="233.8" r="3.5"/><circle cx="967.3" cy="173.0" r="3.5"/><circle cx="1021.0" cy="167.7" r="3.5"/><circle cx="1041.8" cy="173.5" r="3.5"/><circle cx="912.4" cy="215.4" r="3.5"/><circle cx="960.4" cy="175.2" r="3.5"/><circle cx="953.5" cy="177.2" r="3.5"/><circle cx="1064.6" cy="309.8" r="3.5"/><circle cx="1051.9" cy="177.5" r="3.5"/><circle cx="1079.3" cy="301.1" r="3.5"/><circle cx="908.8" cy="222.8" r="3.5"/><circle cx="905.4" cy="262.1" r="3.5"/><circle cx="1040.2" cy="171.7" r="3.5"/><circle cx="1043.5" cy="175.1" r="3.5"/><circle cx="985.9" cy="167.6" r="3.5"/><circle cx="1037.9" cy="321.4" r="3.5"/><circle cx="947.4" cy="180.3" r="3.5"/><circle cx="1031.1" cy="325.0" r="3.5"/><circle cx="990.7" cy="168.0" r="3.5"/><circle cx="915.9" cy="207.9" r="3.5"/><circle cx="919.4" cy="203.6" r="3.5"/><circle cx="1103.2" cy="244.8" r="3.5"/><circle cx="1099.0" cy="275.9" r="3.5"/><circle cx="914.2" cy="215.6" r="3.5"/><circle cx="1099.1" cy="272.1" r="3.5"/><circle cx="1001.0" cy="327.2" r="3.5"/><circle cx="1055.1" cy="315.4" r="3.5"/><circle cx="979.8" cy="170.1" r="3.5"/><circle cx="949.8" cy="179.5" r="3.5"/><circle cx="918.9" cy="289.8" r="3.5"/><circle cx="980.8" cy="168.8" r="3.5"/><circle cx="1085.5" cy="292.8" r="3.5"/><circle cx="968.7" cy="324.2" r="3.5"/><circle cx="1083.6" cy="294.0" r="3.5"/><circle cx="914.3" cy="285.2" r="3.5"/><circle cx="1050.9" cy="176.1" r="3.5"/><circle cx="973.3" cy="171.2" r="3.5"/><circle cx="919.2" cy="206.2" r="3.5"/><circle cx="1095.6" cy="277.0" r="3.5"/><circle cx="1002.3" cy="167.3" r="3.5"/><circle cx="1067.1" cy="307.4" r="3.5"/><circle cx="1036.3" cy="170.9" r="3.5"/><circle cx="906.3" cy="264.6" r="3.5"/><circle cx="1029.5" cy="324.3" r="3.5"/><circle cx="1092.2" cy="285.4" r="3.5"/><circle cx="1101.8" cy="243.4" r="3.5"/><circle cx="934.8" cy="305.4" r="3.5"/><circle cx="990.5" cy="167.7" r="3.5"/><circle cx="992.3" cy="168.2" r="3.5"/><circle cx="905.8" cy="233.5" r="3.5"/><circle cx="1020.4" cy="326.7" r="3.5"/><circle cx="1073.4" cy="189.6" r="3.5"/><circle cx="1076.0" cy="188.9" r="3.5"/><circle cx="1065.2" cy="311.6" r="3.5"/><circle cx="1088.5" cy="206.1" r="3.5"/><circle cx="964.5" cy="173.3" r="3.5"/><circle cx="944.1" cy="310.7" r="3.5"/><circle cx="1039.7" cy="172.6" r="3.5"/><circle cx="956.1" cy="175.7" r="3.5"/><circle cx="982.5" cy="326.5" r="3.5"/><circle cx="930.7" cy="191.9" r="3.5"/><circle cx="933.9" cy="189.5" r="3.5"/><circle cx="924.7" cy="296.3" r="3.5"/><circle cx="1035.0" cy="322.6" r="3.5"/><circle cx="933.0" cy="302.7" r="3.5"/><circle cx="903.8" cy="245.2" r="3.5"/><circle cx="975.1" cy="322.9" r="3.5"/><circle cx="906.5" cy="227.4" r="3.5"/><circle cx="1006.8" cy="168.1" r="3.5"/><circle cx="1093.3" cy="212.3" r="3.5"/><circle cx="916.5" cy="211.3" r="3.5"/><circle cx="1096.4" cy="278.7" r="3.5"/><circle cx="932.8" cy="189.1" r="3.5"/><circle cx="996.3" cy="167.9" r="3.5"/><circle cx="905.5" cy="228.9" r="3.5"/><circle cx="951.0" cy="316.6" r="3.5"/><circle cx="1079.8" cy="299.6" r="3.5"/><circle cx="993.8" cy="325.8" r="3.5"/><circle cx="911.2" cy="278.9" r="3.5"/><circle cx="1104.1" cy="244.6" r="3.5"/><circle cx="1065.6" cy="184.0" r="3.5"/><circle cx="1087.1" cy="203.4" r="3.5"/><circle cx="1085.0" cy="199.9" r="3.5"/><circle cx="1102.0" cy="235.4" r="3.5"/><circle cx="1058.7" cy="315.7" r="3.5"/><circle cx="957.2" cy="319.5" r="3.5"/><circle cx="1055.7" cy="317.0" r="3.5"/><circle cx="1033.7" cy="323.5" r="3.5"/><circle cx="1101.0" cy="229.0" r="3.5"/><circle cx="982.4" cy="324.6" r="3.5"/><circle cx="1081.9" cy="197.2" r="3.5"/><circle cx="1094.2" cy="217.8" r="3.5"/><circle cx="959.7" cy="176.7" r="3.5"/><circle cx="1008.7" cy="167.5" r="3.5"/><circle cx="1046.4" cy="174.5" r="3.5"/><circle cx="1006.1" cy="328.8" r="3.5"/><circle cx="926.0" cy="197.7" r="3.5"/><circle cx="916.4" cy="207.3" r="3.5"/><circle cx="1088.0" cy="208.2" r="3.5"/><circle cx="918.7" cy="205.3" r="3.5"/><circle cx="1002.2" cy="328.3" r="3.5"/><circle cx="1007.7" cy="328.6" r="3.5"/><circle cx="958.4" cy="317.6" r="3.5"/><circle cx="941.8" cy="309.9" r="3.5"/><circle cx="1083.6" cy="295.6" r="3.5"/><circle cx="1002.6" cy="327.9" r="3.5"/><circle cx="1089.2" cy="286.9" r="3.5"/><circle cx="984.5" cy="325.9" r="3.5"/><circle cx="1042.7" cy="173.2" r="3.5"/><circle cx="917.7" cy="288.6" r="3.5"/><circle cx="964.3" cy="173.2" r="3.5"/><circle cx="1100.5" cy="270.7" r="3.5"/><circle cx="975.6" cy="170.3" r="3.5"/><circle cx="1063.7" cy="310.4" r="3.5"/><circle cx="918.0" cy="287.9" r="3.5"/><circle cx="1103.0" cy="235.4" r="3.5"/><circle cx="905.4" cy="236.9" r="3.5"/><circle cx="960.1" cy="174.5" r="3.5"/><circle cx="1019.2" cy="328.3" r="3.5"/><circle cx="902.8" cy="236.6" r="3.5"/><circle cx="924.2" cy="293.0" r="3.5"/><circle cx="1047.3" cy="319.8" r="3.5"/><circle cx="911.8" cy="274.9" r="3.5"/><circle cx="1065.8" cy="310.3" r="3.5"/><circle cx="923.3" cy="200.1" r="3.5"/><circle cx="908.5" cy="231.3" r="3.5"/><circle cx="1016.6" cy="167.3" r="3.5"/><circle cx="958.1" cy="320.1" r="3.5"/><circle cx="1100.5" cy="267.9" r="3.5"/><circle cx="1040.5" cy="173.0" r="3.5"/><circle cx="998.4" cy="166.3" r="3.5"/><circle cx="1067.5" cy="310.5" r="3.5"/><circle cx="1084.3" cy="294.5" r="3.5"/><circle cx="964.4" cy="171.4" r="3.5"/><circle cx="915.6" cy="209.9" r="3.5"/><circle cx="1086.7" cy="203.2" r="3.5"/><circle cx="1053.8" cy="316.4" r="3.5"/><circle cx="915.9" cy="286.4" r="3.5"/><circle cx="958.5" cy="319.6" r="3.5"/><circle cx="912.0" cy="215.8" r="3.5"/><circle cx="904.3" cy="240.0" r="3.5"/><circle cx="1100.7" cy="269.7" r="3.5"/><circle cx="927.0" cy="196.5" r="3.5"/><circle cx="988.4" cy="167.8" r="3.5"/><circle cx="952.6" cy="317.7" r="3.5"/><circle cx="1088.5" cy="291.4" r="3.5"/><circle cx="1086.2" cy="200.7" r="3.5"/><circle cx="1017.8" cy="326.4" r="3.5"/><circle cx="1008.4" cy="327.1" r="3.5"/><circle cx="946.6" cy="314.4" r="3.5"/><circle cx="1038.1" cy="322.5" r="3.5"/><circle cx="1102.0" cy="266.8" r="3.5"/><circle cx="957.6" cy="317.9" r="3.5"/><circle cx="904.3" cy="244.1" r="3.5"/><circle cx="984.1" cy="325.4" r="3.5"/><circle cx="1044.7" cy="174.9" r="3.5"/><circle cx="943.3" cy="310.6" r="3.5"/><circle cx="1080.2" cy="298.2" r="3.5"/><circle cx="947.2" cy="315.0" r="3.5"/><circle cx="1067.6" cy="183.6" r="3.5"/><circle cx="955.1" cy="177.3" r="3.5"/><circle cx="911.2" cy="273.9" r="3.5"/><circle cx="944.4" cy="310.8" r="3.5"/><circle cx="1048.4" cy="175.0" r="3.5"/><circle cx="1094.0" cy="213.7" r="3.5"/><circle cx="909.2" cy="268.3" r="3.5"/><circle cx="997.4" cy="326.9" r="3.5"/><circle cx="929.3" cy="193.0" r="3.5"/><circle cx="1073.9" cy="305.6" r="3.5"/><circle cx="1005.6" cy="166.5" r="3.5"/><circle cx="1015.6" cy="326.5" r="3.5"/><circle cx="921.5" cy="200.9" r="3.5"/><circle cx="907.4" cy="267.9" r="3.5"/><circle cx="1060.3" cy="312.4" r="3.5"/><circle cx="1079.7" cy="195.1" r="3.5"/><circle cx="1079.8" cy="194.6" r="3.5"/><circle cx="1021.8" cy="326.1" r="3.5"/><circle cx="1040.8" cy="173.1" r="3.5"/><circle cx="917.6" cy="207.0" r="3.5"/><circle cx="1003.0" cy="325.9" r="3.5"/><circle cx="919.9" cy="291.3" r="3.5"/><circle cx="1038.6" cy="171.1" r="3.5"/><circle cx="906.2" cy="260.9" r="3.5"/><circle cx="1003.7" cy="167.0" r="3.5"/><circle cx="1023.8" cy="327.5" r="3.5"/><circle cx="1081.3" cy="298.1" r="3.5"/><circle cx="1097.6" cy="272.0" r="3.5"/><circle cx="916.8" cy="287.6" r="3.5"/><circle cx="936.4" cy="308.0" r="3.5"/><circle cx="973.4" cy="170.8" r="3.5"/><circle cx="1066.6" cy="308.1" r="3.5"/><circle cx="989.3" cy="326.8" r="3.5"/><circle cx="1103.6" cy="245.9" r="3.5"/><circle cx="905.6" cy="243.1" r="3.5"/><circle cx="905.8" cy="259.0" r="3.5"/><circle cx="905.7" cy="262.0" r="3.5"/><circle cx="1099.5" cy="228.9" r="3.5"/><circle cx="910.2" cy="219.5" r="3.5"/><circle cx="910.9" cy="280.3" r="3.5"/><circle cx="1069.1" cy="187.0" r="3.5"/><circle cx="1030.0" cy="324.5" r="3.5"/><circle cx="1014.2" cy="167.4" r="3.5"/><circle cx="1090.0" cy="210.3" r="3.5"/><circle cx="959.8" cy="175.5" r="3.5"/><circle cx="1072.1" cy="305.5" r="3.5"/><circle cx="1066.2" cy="309.3" r="3.5"/><circle cx="922.6" cy="295.6" r="3.5"/><circle cx="997.4" cy="326.7" r="3.5"/><circle cx="948.1" cy="179.6" r="3.5"/><circle cx="1066.8" cy="307.1" r="3.5"/><circle cx="911.8" cy="216.1" r="3.5"/><circle cx="1080.1" cy="196.9" r="3.5"/><circle cx="1100.4" cy="225.7" r="3.5"/><circle cx="1056.9" cy="178.8" r="3.5"/><circle cx="904.5" cy="245.7" r="3.5"/><circle cx="916.8" cy="209.9" r="3.5"/><circle cx="945.1" cy="311.7" r="3.5"/><circle cx="1008.3" cy="328.4" r="3.5"/><circle cx="922.0" cy="200.0" r="3.5"/><circle cx="984.6" cy="327.8" r="3.5"/><circle cx="937.5" cy="188.1" r="3.5"/><circle cx="921.3" cy="293.4" r="3.5"/><circle cx="1020.2" cy="167.2" r="3.5"/><circle cx="1024.4" cy="325.8" r="3.5"/><circle cx="1065.3" cy="184.5" r="3.5"/><circle cx="1029.1" cy="169.2" r="3.5"/><circle cx="1051.2" cy="176.9" r="3.5"/><circle cx="1102.3" cy="233.3" r="3.5"/><circle cx="1081.0" cy="195.5" r="3.5"/><circle cx="1097.4" cy="217.3" r="3.5"/><circle cx="1101.6" cy="236.0" r="3.5"/><circle cx="975.0" cy="324.4" r="3.5"/><circle cx="1097.7" cy="222.0" r="3.5"/><circle cx="1102.6" cy="233.7" r="3.5"/><circle cx="1101.2" cy="264.4" r="3.5"/><circle cx="905.0" cy="234.3" r="3.5"/><circle cx="1054.4" cy="178.5" r="3.5"/><circle cx="1074.3" cy="191.1" r="3.5"/><circle cx="1098.1" cy="221.4" r="3.5"/><circle cx="1027.1" cy="324.6" r="3.5"/><circle cx="905.8" cy="229.7" r="3.5"/><circle cx="1003.8" cy="167.1" r="3.5"/><circle cx="993.9" cy="166.6" r="3.5"/><circle cx="948.6" cy="181.5" r="3.5"/><circle cx="1085.9" cy="203.0" r="3.5"/><circle cx="922.3" cy="290.0" r="3.5"/><circle cx="1103.8" cy="245.3" r="3.5"/><circle cx="1051.7" cy="176.5" r="3.5"/><circle cx="1102.0" cy="228.5" r="3.5"/><circle cx="1084.9" cy="294.5" r="3.5"/><circle cx="1034.5" cy="169.6" r="3.5"/><circle cx="1036.7" cy="322.9" r="3.5"/><circle cx="1090.5" cy="287.1" r="3.5"/><circle cx="970.2" cy="171.5" r="3.5"/><circle cx="925.5" cy="297.4" r="3.5"/><circle cx="977.0" cy="169.8" r="3.5"/><circle cx="1062.7" cy="312.8" r="3.5"/><circle cx="953.2" cy="177.2" r="3.5"/><circle cx="961.2" cy="320.4" r="3.5"/><circle cx="997.4" cy="327.1" r="3.5"/><circle cx="993.7" cy="327.7" r="3.5"/><circle cx="1091.3" cy="283.9" r="3.5"/><circle cx="918.0" cy="206.0" r="3.5"/><circle cx="903.4" cy="237.2" r="3.5"/><circle cx="991.6" cy="166.7" r="3.5"/><circle cx="924.4" cy="297.5" r="3.5"/><circle cx="979.6" cy="324.3" r="3.5"/><circle cx="1060.8" cy="180.4" r="3.5"/><circle cx="979.2" cy="326.1" r="3.5"/><circle cx="1009.1" cy="327.6" r="3.5"/><circle cx="959.6" cy="319.8" r="3.5"/><circle cx="1059.3" cy="314.3" r="3.5"/><circle cx="940.6" cy="310.9" r="3.5"/><circle cx="910.3" cy="222.6" r="3.5"/><circle cx="1083.2" cy="295.6" r="3.5"/><circle cx="936.1" cy="189.2" r="3.5"/><circle cx="1091.8" cy="212.8" r="3.5"/><circle cx="1083.6" cy="197.1" r="3.5"/><circle cx="913.1" cy="281.0" r="3.5"/><circle cx="944.7" cy="312.1" r="3.5"/><circle cx="1009.7" cy="166.4" r="3.5"/><circle cx="942.4" cy="310.7" r="3.5"/><circle cx="917.7" cy="288.6" r="3.5"/><circle cx="1101.4" cy="263.6" r="3.5"/><circle cx="1022.3" cy="169.0" r="3.5"/><circle cx="1023.1" cy="325.7" r="3.5"/><circle cx="924.6" cy="296.3" r="3.5"/><circle cx="1041.1" cy="173.7" r="3.5"/><circle cx="1048.2" cy="173.6" r="3.5"/><circle cx="1080.2" cy="194.4" r="3.5"/><circle cx="1102.9" cy="235.0" r="3.5"/><circle cx="1081.8" cy="297.0" r="3.5"/><circle cx="1088.8" cy="206.2" r="3.5"/><circle cx="1051.6" cy="317.8" r="3.5"/><circle cx="930.0" cy="299.8" r="3.5"/><circle cx="1072.0" cy="304.3" r="3.5"/><circle cx="947.7" cy="181.6" r="3.5"/><circle cx="1079.8" cy="195.9" r="3.5"/><circle cx="1054.0" cy="315.1" r="3.5"/><circle cx="1030.8" cy="170.7" r="3.5"/><circle cx="908.5" cy="266.4" r="3.5"/><circle cx="1092.2" cy="209.5" r="3.5"/><circle cx="947.4" cy="181.3" r="3.5"/><circle cx="909.5" cy="273.3" r="3.5"/><circle cx="994.7" cy="326.0" r="3.5"/><circle cx="924.9" cy="297.1" r="3.5"/><circle cx="1025.7" cy="170.5" r="3.5"/><circle cx="951.7" cy="175.9" r="3.5"/><circle cx="912.9" cy="213.1" r="3.5"/><circle cx="1054.5" cy="177.6" r="3.5"/><circle cx="1094.0" cy="280.8" r="3.5"/><circle cx="1101.3" cy="253.8" r="3.5"/><circle cx="927.1" cy="299.9" r="3.5"/><circle cx="917.3" cy="208.1" r="3.5"/><circle cx="1099.9" cy="273.5" r="3.5"/><circle cx="905.9" cy="239.3" r="3.5"/><circle cx="1018.1" cy="324.1" r="3.5"/><circle cx="1092.7" cy="286.6" r="3.5"/><circle cx="977.7" cy="169.0" r="3.5"/><circle cx="1085.7" cy="201.7" r="3.5"/><circle cx="986.6" cy="326.0" r="3.5"/><circle cx="939.3" cy="309.7" r="3.5"/><circle cx="1100.2" cy="226.9" r="3.5"/><circle cx="913.7" cy="214.3" r="3.5"/><circle cx="947.9" cy="180.7" r="3.5"/><circle cx="981.0" cy="170.4" r="3.5"/><circle cx="1082.9" cy="198.7" r="3.5"/><circle cx="1092.6" cy="209.1" r="3.5"/><circle cx="1060.8" cy="181.1" r="3.5"/><circle cx="1101.0" cy="258.8" r="3.5"/><circle cx="1103.3" cy="257.5" r="3.5"/><circle cx="1056.2" cy="179.4" r="3.5"/><circle cx="966.4" cy="173.8" r="3.5"/><circle cx="907.4" cy="268.2" r="3.5"/><circle cx="1063.6" cy="311.2" r="3.5"/><circle cx="1080.0" cy="300.3" r="3.5"/><circle cx="1038.7" cy="322.2" r="3.5"/><circle cx="1038.8" cy="323.1" r="3.5"/><circle cx="1104.0" cy="242.0" r="3.5"/><circle cx="905.9" cy="265.3" r="3.5"/><circle cx="1054.4" cy="177.3" r="3.5"/><circle cx="1016.3" cy="327.1" r="3.5"/><circle cx="904.9" cy="229.6" r="3.5"/><circle cx="1102.4" cy="257.6" r="3.5"/><circle cx="1101.1" cy="229.5" r="3.5"/><circle cx="912.9" cy="213.9" r="3.5"/><circle cx="950.8" cy="177.9" r="3.5"/><circle cx="1086.9" cy="202.3" r="3.5"/><circle cx="966.2" cy="172.7" r="3.5"/><circle cx="915.6" cy="206.8" r="3.5"/>
</g>
<g fill="rgb(241,82,82)" fill-opacity="0.68">
<circle cx="973.1" cy="165.1" r="4.25"/><circle cx="977.9" cy="163.1" r="4.25"/><circle cx="972.8" cy="164.1" r="4.25"/><circle cx="976.8" cy="166.7" r="4.25"/><circle cx="978.6" cy="159.3" r="4.25"/><circle cx="982.8" cy="163.2" r="4.25"/><circle cx="984.6" cy="164.4" r="4.25"/><circle cx="981.0" cy="161.6" r="4.25"/><circle cx="986.9" cy="161.6" r="4.25"/><circle cx="985.0" cy="158.3" r="4.25"/><circle cx="987.0" cy="161.1" r="4.25"/><circle cx="986.0" cy="160.7" r="4.25"/><circle cx="987.4" cy="162.3" r="4.25"/><circle cx="989.2" cy="161.3" r="4.25"/><circle cx="988.3" cy="163.0" r="4.25"/><circle cx="989.1" cy="161.1" r="4.25"/><circle cx="989.0" cy="161.5" r="4.25"/><circle cx="990.5" cy="162.0" r="4.25"/><circle cx="999.5" cy="161.4" r="4.25"/><circle cx="999.6" cy="157.9" r="4.25"/><circle cx="997.1" cy="162.3" r="4.25"/><circle cx="997.6" cy="161.6" r="4.25"/><circle cx="998.0" cy="158.6" r="4.25"/><circle cx="999.0" cy="159.0" r="4.25"/><circle cx="1007.4" cy="160.4" r="4.25"/><circle cx="1004.8" cy="161.5" r="4.25"/><circle cx="1005.4" cy="160.2" r="4.25"/><circle cx="1005.5" cy="161.2" r="4.25"/><circle cx="1006.0" cy="162.9" r="4.25"/><circle cx="1007.7" cy="161.8" r="4.25"/><circle cx="1009.1" cy="164.6" r="4.25"/><circle cx="1011.0" cy="162.7" r="4.25"/><circle cx="1008.6" cy="164.7" r="4.25"/><circle cx="995.6" cy="167.5" r="4.25"/><circle cx="995.4" cy="165.7" r="4.25"/><circle cx="992.8" cy="166.1" r="4.25"/><circle cx="996.3" cy="170.3" r="4.25"/><circle cx="986.2" cy="170.7" r="4.25"/><circle cx="985.7" cy="169.9" r="4.25"/><circle cx="984.4" cy="170.1" r="4.25"/><circle cx="987.9" cy="167.7" r="4.25"/><circle cx="977.0" cy="175.4" r="4.25"/><circle cx="979.0" cy="173.3" r="4.25"/><circle cx="980.4" cy="168.6" r="4.25"/><circle cx="983.9" cy="175.0" r="4.25"/><circle cx="970.6" cy="174.2" r="4.25"/><circle cx="970.5" cy="170.6" r="4.25"/><circle cx="970.0" cy="173.3" r="4.25"/><circle cx="972.7" cy="174.1" r="4.25"/><circle cx="973.1" cy="181.0" r="4.25"/><circle cx="971.3" cy="179.7" r="4.25"/><circle cx="975.5" cy="177.4" r="4.25"/><circle cx="969.1" cy="176.0" r="4.25"/><circle cx="966.7" cy="177.8" r="4.25"/><circle cx="969.5" cy="174.4" r="4.25"/><circle cx="966.1" cy="178.1" r="4.25"/><circle cx="965.8" cy="171.4" r="4.25"/><circle cx="963.8" cy="185.8" r="4.25"/><circle cx="964.2" cy="178.7" r="4.25"/><circle cx="961.1" cy="181.2" r="4.25"/><circle cx="962.0" cy="186.2" r="4.25"/><circle cx="956.8" cy="188.3" r="4.25"/><circle cx="956.3" cy="189.0" r="4.25"/><circle cx="950.9" cy="188.0" r="4.25"/><circle cx="954.0" cy="192.1" r="4.25"/><circle cx="953.8" cy="189.7" r="4.25"/><circle cx="944.2" cy="191.6" r="4.25"/><circle cx="946.9" cy="192.0" r="4.25"/><circle cx="949.5" cy="192.4" r="4.25"/><circle cx="944.5" cy="195.4" r="4.25"/><circle cx="942.0" cy="195.5" r="4.25"/><circle cx="943.7" cy="197.1" r="4.25"/><circle cx="936.2" cy="197.4" r="4.25"/><circle cx="934.3" cy="201.5" r="4.25"/><circle cx="940.4" cy="197.5" r="4.25"/><circle cx="930.7" cy="196.6" r="4.25"/><circle cx="932.1" cy="199.8" r="4.25"/><circle cx="936.6" cy="199.9" r="4.25"/><circle cx="924.5" cy="194.6" r="4.25"/><circle cx="929.4" cy="200.4" r="4.25"/><circle cx="922.7" cy="200.4" r="4.25"/><circle cx="922.7" cy="207.7" r="4.25"/><circle cx="923.2" cy="202.6" r="4.25"/><circle cx="920.4" cy="196.7" r="4.25"/><circle cx="920.5" cy="198.0" r="4.25"/><circle cx="922.1" cy="196.7" r="4.25"/><circle cx="918.8" cy="204.1" r="4.25"/><circle cx="924.4" cy="198.8" r="4.25"/><circle cx="913.9" cy="208.1" r="4.25"/><circle cx="919.2" cy="204.0" r="4.25"/><circle cx="915.8" cy="204.7" r="4.25"/><circle cx="914.7" cy="204.7" r="4.25"/><circle cx="920.1" cy="207.7" r="4.25"/><circle cx="921.8" cy="206.0" r="4.25"/><circle cx="917.0" cy="204.0" r="4.25"/><circle cx="917.0" cy="203.3" r="4.25"/><circle cx="911.3" cy="213.9" r="4.25"/><circle cx="918.4" cy="214.2" r="4.25"/><circle cx="918.2" cy="212.9" r="4.25"/><circle cx="913.7" cy="212.6" r="4.25"/><circle cx="914.4" cy="209.9" r="4.25"/><circle cx="911.5" cy="209.1" r="4.25"/><circle cx="915.2" cy="212.7" r="4.25"/><circle cx="914.2" cy="215.5" r="4.25"/><circle cx="915.0" cy="220.5" r="4.25"/><circle cx="917.2" cy="217.5" r="4.25"/><circle cx="910.2" cy="220.9" r="4.25"/><circle cx="913.0" cy="222.1" r="4.25"/><circle cx="915.3" cy="221.5" r="4.25"/><circle cx="916.2" cy="214.7" r="4.25"/><circle cx="916.1" cy="217.8" r="4.25"/><circle cx="910.8" cy="225.2" r="4.25"/><circle cx="914.2" cy="228.1" r="4.25"/><circle cx="914.7" cy="222.5" r="4.25"/><circle cx="911.2" cy="220.9" r="4.25"/><circle cx="912.3" cy="227.5" r="4.25"/><circle cx="910.8" cy="226.7" r="4.25"/><circle cx="913.0" cy="228.3" r="4.25"/><circle cx="908.6" cy="231.2" r="4.25"/><circle cx="908.8" cy="236.9" r="4.25"/><circle cx="912.8" cy="232.7" r="4.25"/><circle cx="910.9" cy="233.3" r="4.25"/><circle cx="910.9" cy="232.5" r="4.25"/><circle cx="909.7" cy="230.2" r="4.25"/><circle cx="907.7" cy="243.5" r="4.25"/><circle cx="910.2" cy="240.0" r="4.25"/><circle cx="908.6" cy="240.0" r="4.25"/><circle cx="909.8" cy="238.5" r="4.25"/><circle cx="909.5" cy="240.4" r="4.25"/><circle cx="915.0" cy="239.5" r="4.25"/><circle cx="914.4" cy="238.9" r="4.25"/><circle cx="926.8" cy="204.4" r="4.25"/><circle cx="924.3" cy="208.3" r="4.25"/><circle cx="923.5" cy="209.8" r="4.25"/><circle cx="931.5" cy="204.3" r="4.25"/><circle cx="928.7" cy="202.8" r="4.25"/><circle cx="913.6" cy="251.5" r="4.25"/><circle cx="913.0" cy="247.0" r="4.25"/><circle cx="911.8" cy="253.9" r="4.25"/><circle cx="911.5" cy="258.8" r="4.25"/><circle cx="916.7" cy="262.7" r="4.25"/><circle cx="919.2" cy="261.8" r="4.25"/><circle cx="919.7" cy="269.1" r="4.25"/><circle cx="914.6" cy="264.0" r="4.25"/><circle cx="921.5" cy="274.9" r="4.25"/><circle cx="926.4" cy="270.2" r="4.25"/><circle cx="925.8" cy="272.0" r="4.25"/><circle cx="928.1" cy="273.0" r="4.25"/><circle cx="928.3" cy="270.3" r="4.25"/><circle cx="926.8" cy="271.5" r="4.25"/><circle cx="930.1" cy="278.9" r="4.25"/><circle cx="933.1" cy="262.2" r="4.25"/><circle cx="935.0" cy="281.8" r="4.25"/><circle cx="925.2" cy="281.6" r="4.25"/><circle cx="931.7" cy="291.0" r="4.25"/><circle cx="935.1" cy="285.0" r="4.25"/><circle cx="1024.6" cy="177.1" r="4.25"/><circle cx="1018.9" cy="174.8" r="4.25"/><circle cx="1022.0" cy="176.0" r="4.25"/><circle cx="1022.8" cy="175.2" r="4.25"/><circle cx="1029.1" cy="173.3" r="4.25"/><circle cx="1026.7" cy="177.9" r="4.25"/><circle cx="1029.5" cy="175.5" r="4.25"/><circle cx="1025.2" cy="174.2" r="4.25"/><circle cx="1033.9" cy="174.5" r="4.25"/><circle cx="1034.6" cy="176.5" r="4.25"/><circle cx="1033.0" cy="177.0" r="4.25"/><circle cx="1042.2" cy="180.6" r="4.25"/><circle cx="1040.9" cy="181.4" r="4.25"/><circle cx="1045.9" cy="172.5" r="4.25"/><circle cx="1054.1" cy="169.8" r="4.25"/><circle cx="1061.0" cy="172.5" r="4.25"/><circle cx="1056.9" cy="182.1" r="4.25"/><circle cx="1053.8" cy="188.3" r="4.25"/><circle cx="1057.1" cy="188.0" r="4.25"/><circle cx="1055.4" cy="199.2" r="4.25"/><circle cx="1058.9" cy="193.3" r="4.25"/><circle cx="1062.4" cy="194.5" r="4.25"/><circle cx="1063.8" cy="208.3" r="4.25"/><circle cx="1039.6" cy="178.0" r="4.25"/><circle cx="1043.8" cy="179.4" r="4.25"/><circle cx="1046.5" cy="171.1" r="4.25"/><circle cx="1054.1" cy="169.1" r="4.25"/><circle cx="1061.6" cy="171.1" r="4.25"/><circle cx="1057.5" cy="176.6" r="4.25"/><circle cx="1063.0" cy="182.1" r="4.25"/><circle cx="1057.5" cy="186.3" r="4.25"/><circle cx="1057.2" cy="198.6" r="4.25"/><circle cx="1058.8" cy="194.0" r="4.25"/><circle cx="1054.8" cy="193.9" r="4.25"/><circle cx="1057.7" cy="195.6" r="4.25"/><circle cx="1059.8" cy="195.8" r="4.25"/><circle cx="1062.9" cy="195.6" r="4.25"/><circle cx="1059.8" cy="195.4" r="4.25"/><circle cx="1060.6" cy="192.1" r="4.25"/><circle cx="1053.8" cy="196.8" r="4.25"/><circle cx="1051.9" cy="197.0" r="4.25"/><circle cx="1070.6" cy="200.0" r="4.25"/><circle cx="1069.9" cy="204.1" r="4.25"/><circle cx="1065.8" cy="208.3" r="4.25"/><circle cx="1068.5" cy="212.4" r="4.25"/><circle cx="1076.1" cy="215.2" r="4.25"/><circle cx="1071.0" cy="219.0" r="4.25"/><circle cx="1079.8" cy="216.8" r="4.25"/><circle cx="1080.0" cy="210.8" r="4.25"/><circle cx="1076.2" cy="215.4" r="4.25"/><circle cx="1079.2" cy="218.0" r="4.25"/><circle cx="1082.2" cy="218.7" r="4.25"/><circle cx="1081.2" cy="218.8" r="4.25"/><circle cx="1081.7" cy="220.7" r="4.25"/><circle cx="1080.4" cy="217.5" r="4.25"/><circle cx="1077.6" cy="226.1" r="4.25"/><circle cx="1082.3" cy="225.8" r="4.25"/><circle cx="1081.4" cy="225.5" r="4.25"/><circle cx="1085.0" cy="228.2" r="4.25"/><circle cx="1088.4" cy="235.8" r="4.25"/><circle cx="1091.9" cy="242.7" r="4.25"/><circle cx="1089.6" cy="240.8" r="4.25"/><circle cx="1094.4" cy="241.5" r="4.25"/><circle cx="1094.7" cy="239.6" r="4.25"/><circle cx="1096.9" cy="242.9" r="4.25"/><circle cx="1095.6" cy="242.2" r="4.25"/><circle cx="1099.2" cy="241.8" r="4.25"/><circle cx="1098.4" cy="243.0" r="4.25"/><circle cx="1093.0" cy="244.1" r="4.25"/><circle cx="1094.8" cy="247.0" r="4.25"/><circle cx="1091.2" cy="255.0" r="4.25"/><circle cx="1081.7" cy="269.2" r="4.25"/><circle cx="1085.2" cy="272.4" r="4.25"/><circle cx="1090.0" cy="263.9" r="4.25"/><circle cx="1089.4" cy="268.2" r="4.25"/><circle cx="1084.9" cy="269.8" r="4.25"/><circle cx="1086.1" cy="266.8" r="4.25"/><circle cx="1085.3" cy="267.7" r="4.25"/><circle cx="1077.5" cy="274.8" r="4.25"/><circle cx="1081.7" cy="273.0" r="4.25"/><circle cx="1079.5" cy="284.6" r="4.25"/><circle cx="1071.3" cy="288.0" r="4.25"/><circle cx="933.9" cy="282.0" r="4.25"/><circle cx="936.9" cy="286.2" r="4.25"/><circle cx="934.2" cy="295.9" r="4.25"/><circle cx="934.6" cy="295.9" r="4.25"/><circle cx="938.3" cy="296.8" r="4.25"/><circle cx="946.0" cy="305.3" r="4.25"/><circle cx="943.0" cy="304.1" r="4.25"/><circle cx="945.8" cy="310.6" r="4.25"/><circle cx="947.5" cy="312.5" r="4.25"/><circle cx="957.4" cy="308.2" r="4.25"/><circle cx="954.6" cy="313.4" r="4.25"/><circle cx="958.8" cy="315.9" r="4.25"/><circle cx="954.2" cy="318.9" r="4.25"/><circle cx="956.7" cy="320.2" r="4.25"/><circle cx="955.6" cy="317.8" r="4.25"/><circle cx="961.7" cy="321.9" r="4.25"/><circle cx="960.7" cy="318.1" r="4.25"/><circle cx="971.3" cy="327.1" r="4.25"/><circle cx="970.1" cy="322.6" r="4.25"/><circle cx="970.7" cy="326.1" r="4.25"/><circle cx="974.0" cy="329.0" r="4.25"/><circle cx="977.5" cy="326.5" r="4.25"/><circle cx="980.0" cy="320.7" r="4.25"/><circle cx="979.7" cy="323.3" r="4.25"/><circle cx="984.6" cy="324.7" r="4.25"/><circle cx="990.7" cy="325.8" r="4.25"/><circle cx="983.8" cy="317.3" r="4.25"/><circle cx="983.9" cy="308.7" r="4.25"/><circle cx="984.9" cy="310.4" r="4.25"/><circle cx="987.6" cy="309.8" r="4.25"/><circle cx="982.7" cy="309.0" r="4.25"/><circle cx="987.7" cy="311.9" r="4.25"/><circle cx="987.3" cy="313.3" r="4.25"/><circle cx="986.1" cy="316.2" r="4.25"/><circle cx="989.5" cy="314.3" r="4.25"/><circle cx="985.5" cy="311.8" r="4.25"/><circle cx="986.0" cy="322.2" r="4.25"/><circle cx="984.4" cy="315.2" r="4.25"/><circle cx="983.8" cy="314.5" r="4.25"/><circle cx="983.2" cy="316.5" r="4.25"/><circle cx="992.3" cy="318.0" r="4.25"/><circle cx="1000.9" cy="324.9" r="4.25"/><circle cx="996.6" cy="321.3" r="4.25"/><circle cx="1003.3" cy="318.0" r="4.25"/><circle cx="1009.2" cy="319.3" r="4.25"/><circle cx="1006.1" cy="317.0" r="4.25"/><circle cx="1014.9" cy="316.6" r="4.25"/><circle cx="1022.4" cy="316.8" r="4.25"/><circle cx="1023.9" cy="315.0" r="4.25"/><circle cx="1027.3" cy="318.7" r="4.25"/><circle cx="1028.0" cy="322.8" r="4.25"/><circle cx="1025.5" cy="317.2" r="4.25"/><circle cx="1030.8" cy="317.4" r="4.25"/><circle cx="1036.6" cy="317.9" r="4.25"/><circle cx="1033.8" cy="317.2" r="4.25"/><circle cx="1037.3" cy="311.7" r="4.25"/><circle cx="1045.3" cy="315.3" r="4.25"/><circle cx="1041.7" cy="316.0" r="4.25"/><circle cx="1041.6" cy="316.1" r="4.25"/><circle cx="1043.9" cy="312.0" r="4.25"/><circle cx="1046.7" cy="311.7" r="4.25"/><circle cx="1047.1" cy="309.3" r="4.25"/><circle cx="1048.8" cy="311.1" r="4.25"/><circle cx="1055.3" cy="307.4" r="4.25"/><circle cx="1056.2" cy="313.2" r="4.25"/><circle cx="1062.4" cy="307.0" r="4.25"/><circle cx="1062.4" cy="297.4" r="4.25"/><circle cx="930.3" cy="285.4" r="4.25"/><circle cx="930.4" cy="285.7" r="4.25"/><circle cx="928.3" cy="277.1" r="4.25"/><circle cx="922.6" cy="277.0" r="4.25"/><circle cx="926.2" cy="273.3" r="4.25"/><circle cx="931.5" cy="273.6" r="4.25"/><circle cx="936.0" cy="276.4" r="4.25"/><circle cx="929.5" cy="275.4" r="4.25"/><circle cx="933.4" cy="274.0" r="4.25"/><circle cx="926.6" cy="273.5" r="4.25"/><circle cx="919.0" cy="265.0" r="4.25"/><circle cx="923.4" cy="266.9" r="4.25"/><circle cx="1079.5" cy="284.3" r="4.25"/><circle cx="1070.4" cy="289.8" r="4.25"/><circle cx="1069.5" cy="288.8" r="4.25"/><circle cx="1064.6" cy="296.7" r="4.25"/><circle cx="1063.3" cy="295.8" r="4.25"/><circle cx="1068.5" cy="298.8" r="4.25"/><circle cx="1063.0" cy="301.5" r="4.25"/><circle cx="1054.4" cy="309.5" r="4.25"/><circle cx="1055.9" cy="308.9" r="4.25"/><circle cx="1050.0" cy="308.6" r="4.25"/><circle cx="1052.5" cy="307.1" r="4.25"/><circle cx="1046.4" cy="312.4" r="4.25"/><circle cx="1040.8" cy="310.9" r="4.25"/><circle cx="1044.5" cy="315.6" r="4.25"/><circle cx="1047.2" cy="310.9" r="4.25"/><circle cx="1045.4" cy="315.2" r="4.25"/><circle cx="1034.4" cy="314.0" r="4.25"/><circle cx="1032.9" cy="314.9" r="4.25"/><circle cx="1025.9" cy="313.8" r="4.25"/><circle cx="1025.9" cy="321.4" r="4.25"/><circle cx="1029.8" cy="313.0" r="4.25"/><circle cx="1029.4" cy="318.2" r="4.25"/><circle cx="1028.3" cy="320.3" r="4.25"/><circle cx="1014.9" cy="316.6" r="4.25"/><circle cx="1009.4" cy="319.4" r="4.25"/><circle cx="1003.9" cy="318.0" r="4.25"/><circle cx="996.3" cy="322.8" r="4.25"/><circle cx="996.2" cy="323.3" r="4.25"/>
</g>
</g>
<rect x="782.85" y="39.70" width="476.85" height="384.45" fill="none" stroke="#000" stroke-width="3.6"/>
<text x="786.35" y="458.70" font-size="25.2" text-anchor="middle"><tspan dy="-1.2">–</tspan><tspan dy="1.2">600</tspan></text>
<line x1="842.46" y1="424.15" x2="842.46" y2="417.05" stroke="#000" stroke-width="3.5"/>
<text x="849.46" y="458.70" font-size="25.2" text-anchor="middle"><tspan dy="-1.2">–</tspan><tspan dy="1.2">300</tspan></text>
<line x1="902.06" y1="424.15" x2="902.06" y2="417.05" stroke="#000" stroke-width="3.5"/>
<text x="903.46" y="458.70" font-size="25.2" text-anchor="middle">0</text>
<line x1="961.67" y1="424.15" x2="961.67" y2="417.05" stroke="#000" stroke-width="3.5"/>
<text x="963.07" y="458.70" font-size="25.2" text-anchor="middle">300</text>
<line x1="1021.28" y1="424.15" x2="1021.28" y2="417.05" stroke="#000" stroke-width="3.5"/>
<text x="1024.28" y="458.70" font-size="25.2" text-anchor="middle">600</text>
<line x1="1080.88" y1="424.15" x2="1080.88" y2="417.05" stroke="#000" stroke-width="3.5"/>
<text x="1082.88" y="458.70" font-size="25.2" text-anchor="middle">900</text>
<line x1="1140.49" y1="424.15" x2="1140.49" y2="417.05" stroke="#000" stroke-width="3.5"/>
<text x="1143.79" y="458.70" font-size="25.2" text-anchor="middle">1200</text>
<line x1="1200.09" y1="424.15" x2="1200.09" y2="417.05" stroke="#000" stroke-width="3.5"/>
<text x="1202.69" y="458.70" font-size="25.2" text-anchor="middle">1500</text>
<text x="1259.50" y="458.70" font-size="25.2" text-anchor="middle">1800</text>
<text x="768.80" y="435.20" font-size="25.2" text-anchor="end"><tspan dy="-1.2">–</tspan><tspan dy="1.2">600</tspan></text>
<line x1="782.85" y1="376.09" x2="789.95" y2="376.09" stroke="#000" stroke-width="3.5"/>
<text x="768.80" y="386.81" font-size="25.2" text-anchor="end"><tspan dy="-1.2">–</tspan><tspan dy="1.2">300</tspan></text>
<line x1="782.85" y1="328.04" x2="789.95" y2="328.04" stroke="#000" stroke-width="3.5"/>
<text x="768.80" y="338.41" font-size="25.2" text-anchor="end">0</text>
<line x1="782.85" y1="279.98" x2="789.95" y2="279.98" stroke="#000" stroke-width="3.5"/>
<text x="768.80" y="290.02" font-size="25.2" text-anchor="end">300</text>
<line x1="782.85" y1="231.92" x2="789.95" y2="231.92" stroke="#000" stroke-width="3.5"/>
<text x="768.80" y="241.62" font-size="25.2" text-anchor="end">600</text>
<line x1="782.85" y1="183.87" x2="789.95" y2="183.87" stroke="#000" stroke-width="3.5"/>
<text x="768.80" y="193.23" font-size="25.2" text-anchor="end">900</text>
<line x1="782.85" y1="135.81" x2="789.95" y2="135.81" stroke="#000" stroke-width="3.5"/>
<text x="768.80" y="144.84" font-size="25.2" text-anchor="end">1200</text>
<line x1="782.85" y1="87.76" x2="789.95" y2="87.76" stroke="#000" stroke-width="3.5"/>
<text x="768.80" y="96.44" font-size="25.2" text-anchor="end">1500</text>
<text x="768.80" y="48.05" font-size="25.2" text-anchor="end">1800</text>
<text x="1021.28" y="494.70" font-size="24.8" text-anchor="middle">X (μm)</text>
<text transform="translate(685.30,229.70) rotate(-90)" font-size="24.8" text-anchor="middle"><tspan font-style="italic">Y</tspan> (μm)</text>
<line x1="833.4" y1="58.6" x2="878.7" y2="58.6" stroke="#000" stroke-width="1.75"/>
<circle cx="856.2" cy="83.9" r="4.6" fill="rgb(70,171,96)" fill-opacity="0.68"/>
<circle cx="856.2" cy="108.7" r="4.6" fill="rgb(241,82,82)" fill-opacity="0.68"/>
<text x="892.25" y="65.8" font-size="16.7">Desired trajectory</text>
<text x="891.6" y="89.9" font-size="16.7">Robot-assisted without balanced mechanism</text>
<text x="891.6" y="114.7" font-size="16.7">Robot-assisted with balanced mechanism</text>
<text x="663.6" y="30.85" font-size="43" font-weight="bold">b</text>
<clipPath id="cpd"><rect x="115.25" y="582.2" width="480.95000000000005" height="388.69999999999993"/></clipPath>
<g clip-path="url(#cpd)">
<rect x="235.49" y="711.77" width="200.40" height="161.96" fill="none" stroke="#000" stroke-width="1.75"/>
<g fill="rgb(70,171,96)" fill-opacity="0.68">
<circle cx="241.8" cy="704.1" r="3.9"/><circle cx="241.8" cy="707.5" r="3.9"/><circle cx="241.5" cy="709.6" r="3.9"/><circle cx="239.0" cy="728.8" r="3.9"/><circle cx="238.7" cy="736.4" r="3.9"/><circle cx="239.0" cy="739.8" r="3.9"/><circle cx="239.7" cy="748.8" r="3.9"/><circle cx="239.7" cy="757.0" r="3.9"/><circle cx="240.4" cy="762.5" r="3.9"/><circle cx="240.1" cy="769.4" r="3.9"/><circle cx="243.8" cy="779.0" r="3.9"/><circle cx="243.4" cy="790.0" r="3.9"/><circle cx="243.1" cy="798.3" r="3.9"/><circle cx="243.1" cy="803.8" r="3.9"/><circle cx="241.8" cy="812.0" r="3.9"/><circle cx="245.2" cy="815.4" r="3.9"/><circle cx="243.1" cy="820.3" r="3.9"/><circle cx="241.8" cy="716.4" r="3.9"/><circle cx="250.0" cy="716.0" r="3.9"/><circle cx="266.5" cy="717.1" r="3.9"/><circle cx="270.4" cy="709.6" r="3.9"/><circle cx="277.5" cy="715.8" r="3.9"/><circle cx="284.7" cy="709.6" r="3.9"/><circle cx="294.0" cy="717.1" r="3.9"/><circle cx="300.9" cy="710.3" r="3.9"/><circle cx="305.0" cy="709.6" r="3.9"/><circle cx="307.8" cy="710.5" r="3.9"/><circle cx="311.9" cy="713.0" r="3.9"/><circle cx="316.0" cy="710.9" r="3.9"/><circle cx="324.9" cy="716.4" r="3.9"/><circle cx="333.9" cy="717.1" r="3.9"/><circle cx="343.5" cy="709.6" r="3.9"/><circle cx="351.8" cy="715.8" r="3.9"/><circle cx="360.0" cy="715.1" r="3.9"/><circle cx="365.5" cy="716.0" r="3.9"/><circle cx="370.3" cy="716.0" r="3.9"/><circle cx="373.8" cy="710.9" r="3.9"/><circle cx="376.8" cy="709.6" r="3.9"/><circle cx="369.9" cy="716.4" r="3.9"/><circle cx="375.4" cy="714.4" r="3.9"/><circle cx="379.5" cy="715.1" r="3.9"/><circle cx="385.0" cy="717.1" r="3.9"/><circle cx="389.8" cy="704.1" r="3.9"/><circle cx="394.6" cy="708.9" r="3.9"/><circle cx="407.7" cy="703.4" r="3.9"/><circle cx="412.5" cy="708.9" r="3.9"/><circle cx="416.6" cy="709.6" r="3.9"/><circle cx="420.8" cy="708.2" r="3.9"/><circle cx="424.9" cy="708.9" r="3.9"/><circle cx="429.0" cy="710.3" r="3.9"/><circle cx="433.8" cy="709.6" r="3.9"/><circle cx="434.5" cy="713.0" r="3.9"/><circle cx="433.8" cy="717.1" r="3.9"/><circle cx="433.1" cy="720.6" r="3.9"/><circle cx="429.7" cy="730.9" r="3.9"/><circle cx="432.4" cy="741.2" r="3.9"/><circle cx="426.9" cy="751.5" r="3.9"/><circle cx="428.3" cy="759.8" r="3.9"/><circle cx="426.9" cy="766.6" r="3.9"/><circle cx="426.3" cy="778.3" r="3.9"/><circle cx="426.9" cy="791.4" r="3.9"/><circle cx="434.5" cy="782.4" r="3.9"/><circle cx="428.3" cy="803.8" r="3.9"/><circle cx="431.8" cy="818.9" r="3.9"/><circle cx="433.1" cy="823.0" r="3.9"/><circle cx="242.4" cy="833.3" r="3.9"/><circle cx="241.1" cy="838.1" r="3.9"/><circle cx="240.4" cy="844.3" r="3.9"/><circle cx="239.0" cy="856.0" r="3.9"/><circle cx="238.3" cy="861.5" r="3.9"/><circle cx="236.9" cy="873.9" r="3.9"/><circle cx="243.1" cy="866.3" r="3.9"/><circle cx="252.1" cy="867.0" r="3.9"/><circle cx="261.0" cy="867.0" r="3.9"/><circle cx="263.8" cy="867.0" r="3.9"/><circle cx="265.8" cy="868.4" r="3.9"/><circle cx="273.4" cy="873.2" r="3.9"/><circle cx="281.6" cy="867.7" r="3.9"/><circle cx="285.1" cy="867.7" r="3.9"/><circle cx="288.5" cy="867.7" r="3.9"/><circle cx="296.1" cy="867.7" r="3.9"/><circle cx="300.2" cy="867.7" r="3.9"/><circle cx="307.1" cy="867.0" r="3.9"/><circle cx="309.1" cy="872.5" r="3.9"/><circle cx="314.6" cy="873.9" r="3.9"/><circle cx="317.4" cy="867.0" r="3.9"/><circle cx="327.0" cy="867.0" r="3.9"/><circle cx="330.4" cy="868.4" r="3.9"/><circle cx="338.7" cy="867.0" r="3.9"/><circle cx="343.5" cy="871.1" r="3.9"/><circle cx="347.6" cy="867.0" r="3.9"/><circle cx="355.2" cy="869.1" r="3.9"/><circle cx="362.1" cy="869.1" r="3.9"/><circle cx="368.3" cy="867.7" r="3.9"/><circle cx="382.3" cy="868.4" r="3.9"/><circle cx="386.4" cy="870.4" r="3.9"/><circle cx="390.5" cy="871.1" r="3.9"/><circle cx="398.8" cy="869.1" r="3.9"/><circle cx="404.9" cy="869.1" r="3.9"/><circle cx="409.8" cy="869.8" r="3.9"/><circle cx="423.5" cy="868.4" r="3.9"/><circle cx="429.0" cy="864.3" r="3.9"/><circle cx="431.8" cy="867.0" r="3.9"/><circle cx="426.3" cy="871.1" r="3.9"/><circle cx="439.3" cy="864.9" r="3.9"/><circle cx="440.0" cy="855.3" r="3.9"/><circle cx="432.4" cy="819.6" r="3.9"/><circle cx="428.3" cy="846.4" r="3.9"/><circle cx="431.1" cy="852.6" r="3.9"/><circle cx="429.0" cy="798.3" r="3.9"/><circle cx="426.9" cy="803.8" r="3.9"/><circle cx="431.1" cy="810.6" r="3.9"/><circle cx="396.7" cy="711.4" r="3.9"/><circle cx="401.3" cy="714.0" r="3.9"/><circle cx="263.0" cy="709.0" r="3.9"/><circle cx="360.0" cy="712.8" r="3.9"/><circle cx="268.9" cy="710.2" r="3.9"/><circle cx="406.9" cy="710.1" r="3.9"/><circle cx="246.0" cy="713.8" r="3.9"/><circle cx="399.5" cy="711.9" r="3.9"/><circle cx="339.7" cy="713.1" r="3.9"/><circle cx="303.3" cy="710.9" r="3.9"/><circle cx="257.5" cy="712.9" r="3.9"/><circle cx="280.6" cy="709.1" r="3.9"/><circle cx="278.0" cy="713.8" r="3.9"/><circle cx="350.0" cy="713.1" r="3.9"/><circle cx="326.1" cy="712.0" r="3.9"/><circle cx="404.6" cy="711.3" r="3.9"/><circle cx="432.5" cy="712.0" r="3.9"/><circle cx="406.6" cy="708.0" r="3.9"/><circle cx="259.1" cy="711.3" r="3.9"/><circle cx="393.3" cy="712.6" r="3.9"/><circle cx="345.7" cy="714.5" r="3.9"/><circle cx="392.4" cy="714.0" r="3.9"/><circle cx="348.4" cy="716.7" r="3.9"/><circle cx="251.5" cy="716.5" r="3.9"/><circle cx="405.3" cy="716.6" r="3.9"/><circle cx="425.4" cy="711.6" r="3.9"/><circle cx="344.3" cy="712.9" r="3.9"/><circle cx="384.8" cy="715.2" r="3.9"/><circle cx="390.7" cy="707.6" r="3.9"/><circle cx="247.4" cy="716.5" r="3.9"/><circle cx="337.4" cy="714.7" r="3.9"/><circle cx="433.9" cy="712.9" r="3.9"/><circle cx="263.5" cy="717.9" r="3.9"/><circle cx="375.1" cy="711.8" r="3.9"/><circle cx="251.4" cy="708.4" r="3.9"/><circle cx="259.1" cy="713.0" r="3.9"/><circle cx="298.8" cy="716.5" r="3.9"/><circle cx="419.4" cy="715.0" r="3.9"/><circle cx="421.1" cy="712.3" r="3.9"/><circle cx="252.7" cy="708.9" r="3.9"/><circle cx="334.6" cy="712.6" r="3.9"/><circle cx="245.7" cy="707.9" r="3.9"/><circle cx="242.1" cy="717.3" r="3.9"/><circle cx="262.7" cy="715.4" r="3.9"/><circle cx="316.8" cy="707.0" r="3.9"/><circle cx="366.4" cy="711.4" r="3.9"/><circle cx="376.6" cy="710.9" r="3.9"/><circle cx="368.7" cy="710.0" r="3.9"/><circle cx="357.5" cy="712.2" r="3.9"/><circle cx="395.9" cy="710.4" r="3.9"/><circle cx="386.0" cy="713.9" r="3.9"/><circle cx="403.9" cy="710.4" r="3.9"/><circle cx="394.9" cy="710.4" r="3.9"/><circle cx="363.8" cy="714.6" r="3.9"/><circle cx="405.6" cy="710.4" r="3.9"/><circle cx="392.0" cy="712.3" r="3.9"/><circle cx="370.7" cy="710.2" r="3.9"/><circle cx="357.0" cy="710.4" r="3.9"/><circle cx="366.9" cy="714.3" r="3.9"/><circle cx="396.6" cy="713.0" r="3.9"/><circle cx="410.1" cy="711.0" r="3.9"/><circle cx="432.1" cy="709.6" r="3.9"/><circle cx="386.4" cy="708.6" r="3.9"/><circle cx="411.5" cy="711.4" r="3.9"/><circle cx="417.4" cy="712.1" r="3.9"/><circle cx="435.7" cy="781.1" r="3.9"/><circle cx="431.5" cy="853.0" r="3.9"/><circle cx="436.3" cy="850.7" r="3.9"/><circle cx="429.1" cy="837.4" r="3.9"/><circle cx="436.3" cy="868.9" r="3.9"/><circle cx="431.8" cy="789.2" r="3.9"/><circle cx="421.6" cy="833.1" r="3.9"/><circle cx="432.1" cy="793.5" r="3.9"/><circle cx="428.6" cy="776.6" r="3.9"/><circle cx="433.1" cy="832.7" r="3.9"/><circle cx="429.8" cy="802.8" r="3.9"/><circle cx="430.9" cy="724.6" r="3.9"/><circle cx="429.5" cy="821.1" r="3.9"/><circle cx="432.9" cy="838.3" r="3.9"/><circle cx="433.3" cy="719.7" r="3.9"/><circle cx="434.2" cy="802.6" r="3.9"/><circle cx="429.8" cy="821.4" r="3.9"/><circle cx="432.0" cy="828.5" r="3.9"/><circle cx="431.7" cy="806.8" r="3.9"/><circle cx="428.6" cy="755.7" r="3.9"/><circle cx="428.1" cy="737.9" r="3.9"/><circle cx="432.3" cy="795.3" r="3.9"/><circle cx="431.3" cy="812.8" r="3.9"/><circle cx="432.5" cy="825.5" r="3.9"/><circle cx="431.2" cy="724.6" r="3.9"/><circle cx="428.3" cy="849.2" r="3.9"/><circle cx="432.5" cy="719.4" r="3.9"/><circle cx="431.5" cy="777.3" r="3.9"/><circle cx="430.1" cy="870.7" r="3.9"/><circle cx="432.1" cy="712.5" r="3.9"/><circle cx="430.7" cy="716.9" r="3.9"/><circle cx="431.6" cy="838.9" r="3.9"/><circle cx="430.8" cy="842.5" r="3.9"/><circle cx="433.8" cy="814.3" r="3.9"/><circle cx="426.4" cy="845.4" r="3.9"/><circle cx="428.1" cy="723.1" r="3.9"/><circle cx="430.6" cy="800.9" r="3.9"/><circle cx="433.9" cy="827.5" r="3.9"/><circle cx="431.4" cy="740.7" r="3.9"/><circle cx="428.5" cy="836.4" r="3.9"/><circle cx="239.2" cy="770.8" r="3.9"/><circle cx="238.0" cy="809.5" r="3.9"/><circle cx="239.2" cy="864.6" r="3.9"/><circle cx="237.2" cy="806.4" r="3.9"/><circle cx="240.5" cy="751.5" r="3.9"/><circle cx="238.6" cy="815.0" r="3.9"/><circle cx="238.0" cy="872.8" r="3.9"/><circle cx="238.2" cy="773.4" r="3.9"/><circle cx="241.2" cy="819.7" r="3.9"/><circle cx="239.7" cy="841.0" r="3.9"/><circle cx="240.8" cy="754.2" r="3.9"/><circle cx="238.3" cy="745.8" r="3.9"/><circle cx="239.9" cy="823.6" r="3.9"/><circle cx="240.0" cy="789.7" r="3.9"/><circle cx="237.3" cy="767.7" r="3.9"/><circle cx="239.3" cy="794.7" r="3.9"/><circle cx="242.8" cy="825.4" r="3.9"/><circle cx="238.8" cy="723.2" r="3.9"/><circle cx="240.0" cy="766.7" r="3.9"/><circle cx="237.3" cy="815.5" r="3.9"/><circle cx="239.9" cy="826.8" r="3.9"/><circle cx="241.1" cy="826.2" r="3.9"/><circle cx="396.9" cy="866.9" r="3.9"/><circle cx="344.1" cy="865.6" r="3.9"/><circle cx="414.7" cy="869.2" r="3.9"/><circle cx="312.9" cy="869.7" r="3.9"/><circle cx="386.2" cy="867.6" r="3.9"/><circle cx="240.3" cy="865.9" r="3.9"/><circle cx="323.4" cy="866.8" r="3.9"/><circle cx="410.1" cy="868.6" r="3.9"/><circle cx="250.8" cy="868.4" r="3.9"/><circle cx="301.8" cy="870.7" r="3.9"/><circle cx="355.3" cy="868.3" r="3.9"/><circle cx="407.9" cy="868.2" r="3.9"/><circle cx="324.9" cy="869.3" r="3.9"/><circle cx="417.6" cy="869.5" r="3.9"/><circle cx="294.5" cy="870.1" r="3.9"/><circle cx="307.1" cy="871.3" r="3.9"/><circle cx="286.8" cy="870.4" r="3.9"/><circle cx="393.7" cy="869.4" r="3.9"/><circle cx="240.4" cy="870.0" r="3.9"/><circle cx="353.5" cy="867.2" r="3.9"/><circle cx="275.7" cy="868.6" r="3.9"/><circle cx="363.5" cy="871.9" r="3.9"/><circle cx="332.3" cy="869.4" r="3.9"/><circle cx="358.0" cy="868.4" r="3.9"/><circle cx="241.5" cy="868.8" r="3.9"/>
</g>
<g fill="rgb(241,82,82)" fill-opacity="0.68">
<circle cx="270.9" cy="694.9" r="4.05"/><circle cx="258.9" cy="702.0" r="4.05"/><circle cx="255.5" cy="707.2" r="4.05"/><circle cx="224.2" cy="716.9" r="4.05"/><circle cx="231.4" cy="719.9" r="4.05"/><circle cx="245.2" cy="719.9" r="4.05"/><circle cx="224.6" cy="726.8" r="4.05"/><circle cx="223.9" cy="732.3" r="4.05"/><circle cx="223.5" cy="743.9" r="4.05"/><circle cx="239.0" cy="747.4" r="4.05"/><circle cx="244.2" cy="753.6" r="4.05"/><circle cx="232.8" cy="762.1" r="4.05"/><circle cx="206.0" cy="774.9" r="4.05"/><circle cx="220.7" cy="775.2" r="4.05"/><circle cx="229.4" cy="778.3" r="4.05"/><circle cx="236.9" cy="775.6" r="4.05"/><circle cx="212.9" cy="784.2" r="4.05"/><circle cx="230.1" cy="785.2" r="4.05"/><circle cx="211.8" cy="792.5" r="4.05"/><circle cx="232.1" cy="792.8" r="4.05"/><circle cx="232.8" cy="801.0" r="4.05"/><circle cx="231.0" cy="805.1" r="4.05"/><circle cx="234.9" cy="816.8" r="4.05"/><circle cx="236.3" cy="821.6" r="4.05"/><circle cx="258.5" cy="719.2" r="4.05"/><circle cx="260.3" cy="721.9" r="4.05"/><circle cx="261.0" cy="724.0" r="4.05"/><circle cx="253.4" cy="728.1" r="4.05"/><circle cx="255.1" cy="740.9" r="4.05"/><circle cx="271.3" cy="727.4" r="4.05"/><circle cx="273.4" cy="726.1" r="4.05"/><circle cx="277.5" cy="732.3" r="4.05"/><circle cx="282.3" cy="736.4" r="4.05"/><circle cx="280.9" cy="740.5" r="4.05"/><circle cx="289.9" cy="729.5" r="4.05"/><circle cx="291.3" cy="715.8" r="4.05"/><circle cx="293.3" cy="717.1" r="4.05"/><circle cx="300.9" cy="719.2" r="4.05"/><circle cx="305.0" cy="719.9" r="4.05"/><circle cx="309.1" cy="717.1" r="4.05"/><circle cx="304.3" cy="722.6" r="4.05"/><circle cx="313.3" cy="716.4" r="4.05"/><circle cx="317.4" cy="709.6" r="4.05"/><circle cx="320.8" cy="706.1" r="4.05"/><circle cx="327.7" cy="708.9" r="4.05"/><circle cx="304.0" cy="732.0" r="4.05"/><circle cx="319.9" cy="727.7" r="4.05"/><circle cx="319.4" cy="736.1" r="4.05"/><circle cx="330.9" cy="736.4" r="4.05"/><circle cx="338.7" cy="736.7" r="4.05"/><circle cx="331.1" cy="718.2" r="4.05"/><circle cx="338.7" cy="706.1" r="4.05"/><circle cx="342.1" cy="700.6" r="4.05"/><circle cx="342.1" cy="708.9" r="4.05"/><circle cx="350.4" cy="697.9" r="4.05"/><circle cx="356.8" cy="693.8" r="4.05"/><circle cx="357.3" cy="701.3" r="4.05"/><circle cx="363.4" cy="703.1" r="4.05"/><circle cx="355.2" cy="709.6" r="4.05"/><circle cx="347.6" cy="714.4" r="4.05"/><circle cx="353.1" cy="713.0" r="4.05"/><circle cx="358.6" cy="714.4" r="4.05"/><circle cx="364.8" cy="712.3" r="4.05"/><circle cx="349.0" cy="722.6" r="4.05"/><circle cx="341.4" cy="725.4" r="4.05"/><circle cx="355.9" cy="752.2" r="4.05"/><circle cx="374.4" cy="745.7" r="4.05"/><circle cx="380.6" cy="699.9" r="4.05"/><circle cx="381.6" cy="704.1" r="4.05"/><circle cx="385.0" cy="707.5" r="4.05"/><circle cx="389.1" cy="710.3" r="4.05"/><circle cx="391.9" cy="706.8" r="4.05"/><circle cx="400.1" cy="707.5" r="4.05"/><circle cx="404.9" cy="708.9" r="4.05"/><circle cx="407.0" cy="710.9" r="4.05"/><circle cx="407.7" cy="715.1" r="4.05"/><circle cx="381.2" cy="735.7" r="4.05"/><circle cx="377.2" cy="745.6" r="4.05"/><circle cx="392.8" cy="733.9" r="4.05"/><circle cx="400.1" cy="729.8" r="4.05"/><circle cx="407.4" cy="740.9" r="4.05"/><circle cx="413.6" cy="735.4" r="4.05"/><circle cx="422.4" cy="730.2" r="4.05"/><circle cx="432.4" cy="726.1" r="4.05"/><circle cx="438.6" cy="726.8" r="4.05"/><circle cx="441.4" cy="725.4" r="4.05"/><circle cx="444.1" cy="728.1" r="4.05"/><circle cx="448.3" cy="725.4" r="4.05"/><circle cx="451.0" cy="727.4" r="4.05"/><circle cx="446.2" cy="730.9" r="4.05"/><circle cx="452.4" cy="732.0" r="4.05"/><circle cx="441.4" cy="730.2" r="4.05"/><circle cx="437.3" cy="740.5" r="4.05"/><circle cx="442.8" cy="742.6" r="4.05"/><circle cx="446.2" cy="741.2" r="4.05"/><circle cx="447.6" cy="747.4" r="4.05"/><circle cx="450.3" cy="748.5" r="4.05"/><circle cx="442.8" cy="748.8" r="4.05"/><circle cx="439.3" cy="752.2" r="4.05"/><circle cx="443.4" cy="755.6" r="4.05"/><circle cx="429.7" cy="747.4" r="4.05"/><circle cx="411.1" cy="761.1" r="4.05"/><circle cx="420.3" cy="760.7" r="4.05"/><circle cx="431.8" cy="760.7" r="4.05"/><circle cx="443.2" cy="762.2" r="4.05"/><circle cx="423.9" cy="771.9" r="4.05"/><circle cx="434.5" cy="774.9" r="4.05"/><circle cx="441.1" cy="779.0" r="4.05"/><circle cx="440.7" cy="786.6" r="4.05"/><circle cx="438.6" cy="790.0" r="4.05"/><circle cx="433.1" cy="790.0" r="4.05"/><circle cx="431.1" cy="796.9" r="4.05"/><circle cx="430.4" cy="801.0" r="4.05"/><circle cx="432.4" cy="806.5" r="4.05"/><circle cx="433.1" cy="812.0" r="4.05"/><circle cx="466.1" cy="775.2" r="4.05"/><circle cx="467.5" cy="782.4" r="4.05"/><circle cx="443.4" cy="822.3" r="4.05"/><circle cx="451.3" cy="819.6" r="4.05"/><circle cx="231.4" cy="829.9" r="4.05"/><circle cx="227.3" cy="834.7" r="4.05"/><circle cx="225.9" cy="838.8" r="4.05"/><circle cx="245.9" cy="839.2" r="4.05"/><circle cx="241.8" cy="851.2" r="4.05"/><circle cx="239.0" cy="868.4" r="4.05"/><circle cx="249.3" cy="869.8" r="4.05"/><circle cx="248.6" cy="875.9" r="4.05"/><circle cx="250.0" cy="882.1" r="4.05"/><circle cx="255.5" cy="882.8" r="4.05"/><circle cx="258.3" cy="879.4" r="4.05"/><circle cx="263.1" cy="878.0" r="4.05"/><circle cx="227.6" cy="890.4" r="4.05"/><circle cx="266.1" cy="890.8" r="4.05"/><circle cx="276.1" cy="904.8" r="4.05"/><circle cx="292.4" cy="892.0" r="4.05"/><circle cx="299.1" cy="882.8" r="4.05"/><circle cx="303.6" cy="890.4" r="4.05"/><circle cx="308.9" cy="883.8" r="4.05"/><circle cx="321.5" cy="876.6" r="4.05"/><circle cx="335.3" cy="875.3" r="4.05"/><circle cx="349.0" cy="878.3" r="4.05"/><circle cx="372.4" cy="861.5" r="4.05"/><circle cx="373.8" cy="871.1" r="4.05"/><circle cx="371.7" cy="880.8" r="4.05"/><circle cx="415.3" cy="838.1" r="4.05"/><circle cx="419.4" cy="832.6" r="4.05"/><circle cx="423.5" cy="828.5" r="4.05"/><circle cx="427.6" cy="827.1" r="4.05"/><circle cx="433.1" cy="825.8" r="4.05"/><circle cx="431.8" cy="831.3" r="4.05"/><circle cx="429.0" cy="836.8" r="4.05"/><circle cx="428.3" cy="840.9" r="4.05"/><circle cx="440.7" cy="833.7" r="4.05"/><circle cx="442.8" cy="840.9" r="4.05"/><circle cx="433.1" cy="849.8" r="4.05"/><circle cx="424.2" cy="856.0" r="4.05"/><circle cx="378.1" cy="858.8" r="4.05"/><circle cx="375.4" cy="861.5" r="4.05"/><circle cx="387.8" cy="856.7" r="4.05"/><circle cx="393.3" cy="860.8" r="4.05"/><circle cx="401.5" cy="862.2" r="4.05"/><circle cx="406.3" cy="861.5" r="4.05"/><circle cx="413.2" cy="863.6" r="4.05"/><circle cx="418.0" cy="865.6" r="4.05"/><circle cx="398.8" cy="869.1" r="4.05"/><circle cx="412.5" cy="872.5" r="4.05"/><circle cx="415.3" cy="875.9" r="4.05"/><circle cx="410.4" cy="880.1" r="4.05"/><circle cx="398.8" cy="880.8" r="4.05"/><circle cx="393.3" cy="880.1" r="4.05"/><circle cx="391.2" cy="878.0" r="4.05"/><circle cx="380.9" cy="880.8" r="4.05"/><circle cx="376.8" cy="876.6" r="4.05"/><circle cx="426.9" cy="873.2" r="4.05"/><circle cx="439.3" cy="872.5" r="4.05"/><circle cx="447.6" cy="871.1" r="4.05"/><circle cx="459.3" cy="869.8" r="4.05"/><circle cx="455.8" cy="880.1" r="4.05"/><circle cx="459.9" cy="878.0" r="4.05"/><circle cx="462.7" cy="879.4" r="4.05"/><circle cx="481.0" cy="876.9" r="4.05"/><circle cx="478.8" cy="881.4" r="4.05"/><circle cx="432.0" cy="887.9" r="4.05"/><circle cx="448.0" cy="897.3" r="4.05"/><circle cx="443.3" cy="720.2" r="4.05"/><circle cx="443.1" cy="729.7" r="4.05"/><circle cx="447.3" cy="721.3" r="4.05"/><circle cx="438.7" cy="724.2" r="4.05"/><circle cx="440.7" cy="789.3" r="4.05"/><circle cx="437.3" cy="785.5" r="4.05"/><circle cx="439.5" cy="787.7" r="4.05"/><circle cx="443.4" cy="783.7" r="4.05"/><circle cx="398.3" cy="880.3" r="4.05"/><circle cx="404.8" cy="872.3" r="4.05"/><circle cx="402.2" cy="872.0" r="4.05"/><circle cx="396.0" cy="865.9" r="4.05"/><circle cx="342.0" cy="876.1" r="4.05"/><circle cx="340.8" cy="874.5" r="4.05"/><circle cx="341.9" cy="878.4" r="4.05"/><circle cx="341.3" cy="876.6" r="4.05"/><circle cx="253.4" cy="723.3" r="4.05"/><circle cx="248.5" cy="726.9" r="4.05"/><circle cx="256.4" cy="718.2" r="4.05"/><circle cx="247.8" cy="724.0" r="4.05"/>
</g>
</g>
<rect x="115.25" y="582.20" width="480.95" height="388.70" fill="none" stroke="#000" stroke-width="3.6"/>
<text x="115.70" y="1001.80" font-size="25.2" text-anchor="middle"><tspan dy="-1.2">–</tspan><tspan dy="1.2">600</tspan></text>
<line x1="175.37" y1="970.90" x2="175.37" y2="963.80" stroke="#000" stroke-width="3.5"/>
<text x="175.82" y="1001.80" font-size="25.2" text-anchor="middle"><tspan dy="-1.2">–</tspan><tspan dy="1.2">300</tspan></text>
<line x1="235.49" y1="970.90" x2="235.49" y2="963.80" stroke="#000" stroke-width="3.5"/>
<text x="235.94" y="1001.80" font-size="25.2" text-anchor="middle">0</text>
<line x1="295.61" y1="970.90" x2="295.61" y2="963.80" stroke="#000" stroke-width="3.5"/>
<text x="296.06" y="1001.80" font-size="25.2" text-anchor="middle">300</text>
<line x1="355.73" y1="970.90" x2="355.73" y2="963.80" stroke="#000" stroke-width="3.5"/>
<text x="356.18" y="1001.80" font-size="25.2" text-anchor="middle">600</text>
<line x1="415.84" y1="970.90" x2="415.84" y2="963.80" stroke="#000" stroke-width="3.5"/>
<text x="416.29" y="1001.80" font-size="25.2" text-anchor="middle">900</text>
<line x1="475.96" y1="970.90" x2="475.96" y2="963.80" stroke="#000" stroke-width="3.5"/>
<text x="476.41" y="1001.80" font-size="25.2" text-anchor="middle">1200</text>
<line x1="536.08" y1="970.90" x2="536.08" y2="963.80" stroke="#000" stroke-width="3.5"/>
<text x="536.53" y="1001.80" font-size="25.2" text-anchor="middle">1500</text>
<text x="596.65" y="1001.80" font-size="25.2" text-anchor="middle">1800</text>
<text x="101.10" y="979.45" font-size="25.2" text-anchor="end"><tspan dy="-1.2">–</tspan><tspan dy="1.2">600</tspan></text>
<line x1="115.25" y1="922.31" x2="122.35" y2="922.31" stroke="#000" stroke-width="3.5"/>
<text x="101.10" y="930.91" font-size="25.2" text-anchor="end"><tspan dy="-1.2">–</tspan><tspan dy="1.2">300</tspan></text>
<line x1="115.25" y1="873.73" x2="122.35" y2="873.73" stroke="#000" stroke-width="3.5"/>
<text x="101.10" y="882.37" font-size="25.2" text-anchor="end">0</text>
<line x1="115.25" y1="825.14" x2="122.35" y2="825.14" stroke="#000" stroke-width="3.5"/>
<text x="101.10" y="833.83" font-size="25.2" text-anchor="end">300</text>
<line x1="115.25" y1="776.55" x2="122.35" y2="776.55" stroke="#000" stroke-width="3.5"/>
<text x="101.10" y="785.29" font-size="25.2" text-anchor="end">600</text>
<line x1="115.25" y1="727.96" x2="122.35" y2="727.96" stroke="#000" stroke-width="3.5"/>
<text x="101.10" y="736.74" font-size="25.2" text-anchor="end">900</text>
<line x1="115.25" y1="679.38" x2="122.35" y2="679.38" stroke="#000" stroke-width="3.5"/>
<text x="101.10" y="688.20" font-size="25.2" text-anchor="end">1200</text>
<line x1="115.25" y1="630.79" x2="122.35" y2="630.79" stroke="#000" stroke-width="3.5"/>
<text x="101.10" y="639.66" font-size="25.2" text-anchor="end">1500</text>
<text x="101.10" y="591.12" font-size="25.2" text-anchor="end">1800</text>
<text x="352.82" y="1040.30" font-size="24.8" text-anchor="middle">X (μm)</text>
<text transform="translate(19.70,774.60) rotate(-90)" font-size="24.8" text-anchor="middle"><tspan font-style="italic">Y</tspan> (μm)</text>
<line x1="199.0" y1="598.9" x2="234.6" y2="598.9" stroke="#000" stroke-width="1.75"/>
<circle cx="219.5" cy="621.8" r="4.05" fill="rgb(70,171,96)" fill-opacity="0.68"/>
<circle cx="219.5" cy="644.4" r="4.05" fill="rgb(241,82,82)" fill-opacity="0.68"/>
<text x="247.55" y="605.0" font-size="16.7">Desired trajectory</text>
<text x="246.9" y="628.7" font-size="16.7">Robot-assisted without balanced mechanism</text>
<text x="246.9" y="652.8" font-size="16.7">Manual</text>
<text x="-0.35" y="571.8" font-size="42.5" font-weight="bold">d</text>
<clipPath id="cpe"><rect x="782.85" y="585.5" width="477.15" height="384.9"/></clipPath>
<g clip-path="url(#cpe)">
<rect x="902.14" y="713.80" width="198.81" height="160.38" fill="none" stroke="#000" stroke-width="1.75"/>
<g fill="rgb(70,171,96)" fill-opacity="0.68">
<circle cx="907.5" cy="706.5" r="4.0"/><circle cx="906.8" cy="709.3" r="4.0"/><circle cx="921.3" cy="719.6" r="4.0"/><circle cx="928.1" cy="720.9" r="4.0"/><circle cx="932.9" cy="719.6" r="4.0"/><circle cx="943.3" cy="717.5" r="4.0"/><circle cx="959.8" cy="719.6" r="4.0"/><circle cx="967.3" cy="720.9" r="4.0"/><circle cx="973.5" cy="714.8" r="4.0"/><circle cx="979.0" cy="716.8" r="4.0"/><circle cx="983.1" cy="716.1" r="4.0"/><circle cx="990.7" cy="718.9" r="4.0"/><circle cx="998.9" cy="719.6" r="4.0"/><circle cx="1008.6" cy="710.6" r="4.0"/><circle cx="1014.1" cy="718.2" r="4.0"/><circle cx="1024.4" cy="718.9" r="4.0"/><circle cx="1028.5" cy="717.5" r="4.0"/><circle cx="1035.4" cy="718.9" r="4.0"/><circle cx="1042.9" cy="717.5" r="4.0"/><circle cx="1049.1" cy="719.6" r="4.0"/><circle cx="1054.6" cy="714.8" r="4.0"/><circle cx="1056.0" cy="705.1" r="4.0"/><circle cx="904.1" cy="730.6" r="4.0"/><circle cx="903.4" cy="738.8" r="4.0"/><circle cx="905.4" cy="749.1" r="4.0"/><circle cx="906.1" cy="757.4" r="4.0"/><circle cx="906.1" cy="770.4" r="4.0"/><circle cx="909.6" cy="780.1" r="4.0"/><circle cx="909.6" cy="791.8" r="4.0"/><circle cx="909.6" cy="798.6" r="4.0"/><circle cx="909.6" cy="806.9" r="4.0"/><circle cx="909.6" cy="815.1" r="4.0"/><circle cx="910.3" cy="832.3" r="4.0"/><circle cx="909.6" cy="834.7" r="4.0"/><circle cx="907.5" cy="842.3" r="4.0"/><circle cx="906.8" cy="847.8" r="4.0"/><circle cx="905.4" cy="854.6" r="4.0"/><circle cx="904.8" cy="861.5" r="4.0"/><circle cx="902.7" cy="873.9" r="4.0"/><circle cx="909.6" cy="867.0" r="4.0"/><circle cx="932.3" cy="867.0" r="4.0"/><circle cx="939.1" cy="875.3" r="4.0"/><circle cx="950.1" cy="867.7" r="4.0"/><circle cx="954.9" cy="867.0" r="4.0"/><circle cx="974.9" cy="874.6" r="4.0"/><circle cx="980.4" cy="875.3" r="4.0"/><circle cx="1004.4" cy="867.7" r="4.0"/><circle cx="1010.6" cy="869.8" r="4.0"/><circle cx="1029.2" cy="869.8" r="4.0"/><circle cx="1035.4" cy="869.8" r="4.0"/><circle cx="1042.3" cy="867.7" r="4.0"/><circle cx="1047.1" cy="869.1" r="4.0"/><circle cx="1056.0" cy="873.9" r="4.0"/><circle cx="1005.5" cy="867.0" r="4.0"/><circle cx="1011.0" cy="869.8" r="4.0"/><circle cx="1028.9" cy="869.8" r="4.0"/><circle cx="1041.3" cy="868.4" r="4.0"/><circle cx="1055.0" cy="873.9" r="4.0"/><circle cx="1063.3" cy="867.7" r="4.0"/><circle cx="1071.5" cy="871.1" r="4.0"/><circle cx="1079.8" cy="871.1" r="4.0"/><circle cx="1090.8" cy="874.6" r="4.0"/><circle cx="1099.0" cy="871.1" r="4.0"/><circle cx="1105.2" cy="856.0" r="4.0"/><circle cx="1105.2" cy="865.6" r="4.0"/><circle cx="1055.0" cy="705.1" r="4.0"/><circle cx="1072.9" cy="705.8" r="4.0"/><circle cx="1077.0" cy="707.9" r="4.0"/><circle cx="1094.9" cy="710.6" r="4.0"/><circle cx="1100.4" cy="712.0" r="4.0"/><circle cx="1101.1" cy="716.1" r="4.0"/><circle cx="1102.4" cy="757.4" r="4.0"/><circle cx="1101.8" cy="784.9" r="4.0"/><circle cx="1099.0" cy="780.8" r="4.0"/><circle cx="1072.8" cy="717.4" r="4.0"/><circle cx="1054.5" cy="716.4" r="4.0"/><circle cx="997.4" cy="716.0" r="4.0"/><circle cx="923.8" cy="716.4" r="4.0"/><circle cx="1042.9" cy="714.8" r="4.0"/><circle cx="958.6" cy="715.6" r="4.0"/><circle cx="919.8" cy="714.3" r="4.0"/><circle cx="983.6" cy="714.4" r="4.0"/><circle cx="966.4" cy="721.1" r="4.0"/><circle cx="1004.6" cy="710.7" r="4.0"/><circle cx="930.2" cy="714.5" r="4.0"/><circle cx="1022.7" cy="712.4" r="4.0"/><circle cx="1090.0" cy="716.1" r="4.0"/><circle cx="969.1" cy="715.4" r="4.0"/><circle cx="1015.2" cy="713.5" r="4.0"/><circle cx="923.8" cy="718.9" r="4.0"/><circle cx="977.4" cy="710.3" r="4.0"/><circle cx="970.6" cy="717.4" r="4.0"/><circle cx="926.1" cy="716.3" r="4.0"/><circle cx="925.6" cy="717.9" r="4.0"/><circle cx="994.5" cy="712.6" r="4.0"/><circle cx="1026.4" cy="719.7" r="4.0"/><circle cx="993.5" cy="716.7" r="4.0"/><circle cx="1007.3" cy="714.4" r="4.0"/><circle cx="953.6" cy="717.9" r="4.0"/><circle cx="921.1" cy="714.6" r="4.0"/><circle cx="1041.6" cy="717.0" r="4.0"/><circle cx="1062.4" cy="715.9" r="4.0"/><circle cx="955.6" cy="713.7" r="4.0"/><circle cx="983.0" cy="712.9" r="4.0"/><circle cx="1089.2" cy="716.6" r="4.0"/><circle cx="927.8" cy="713.5" r="4.0"/><circle cx="1044.0" cy="716.7" r="4.0"/><circle cx="1075.9" cy="716.9" r="4.0"/><circle cx="1051.6" cy="713.0" r="4.0"/><circle cx="1035.0" cy="718.7" r="4.0"/><circle cx="1037.7" cy="713.4" r="4.0"/><circle cx="957.2" cy="718.4" r="4.0"/><circle cx="1098.2" cy="812.4" r="4.0"/><circle cx="1103.7" cy="846.1" r="4.0"/><circle cx="1097.9" cy="714.8" r="4.0"/><circle cx="1098.4" cy="763.9" r="4.0"/><circle cx="1100.5" cy="737.1" r="4.0"/><circle cx="1100.2" cy="802.5" r="4.0"/><circle cx="1099.7" cy="865.1" r="4.0"/><circle cx="1098.3" cy="832.9" r="4.0"/><circle cx="1099.2" cy="867.1" r="4.0"/><circle cx="1099.4" cy="826.7" r="4.0"/><circle cx="1100.4" cy="816.7" r="4.0"/><circle cx="1098.7" cy="823.1" r="4.0"/><circle cx="1102.9" cy="765.5" r="4.0"/><circle cx="1099.5" cy="754.6" r="4.0"/><circle cx="1098.2" cy="823.1" r="4.0"/><circle cx="1097.9" cy="745.9" r="4.0"/><circle cx="1098.3" cy="774.6" r="4.0"/><circle cx="1097.3" cy="864.7" r="4.0"/><circle cx="1099.4" cy="812.8" r="4.0"/><circle cx="1099.7" cy="758.8" r="4.0"/><circle cx="1100.4" cy="757.5" r="4.0"/><circle cx="1099.4" cy="744.0" r="4.0"/><circle cx="1098.9" cy="843.8" r="4.0"/><circle cx="1098.9" cy="863.7" r="4.0"/><circle cx="1098.7" cy="794.2" r="4.0"/><circle cx="1097.1" cy="720.1" r="4.0"/><circle cx="1097.4" cy="752.3" r="4.0"/><circle cx="1098.3" cy="715.0" r="4.0"/><circle cx="1098.8" cy="763.4" r="4.0"/><circle cx="1100.2" cy="786.6" r="4.0"/><circle cx="1098.1" cy="735.4" r="4.0"/><circle cx="1099.9" cy="840.8" r="4.0"/><circle cx="1097.2" cy="721.7" r="4.0"/><circle cx="1097.3" cy="743.9" r="4.0"/><circle cx="1100.2" cy="749.9" r="4.0"/><circle cx="1101.0" cy="842.5" r="4.0"/><circle cx="1096.0" cy="855.5" r="4.0"/><circle cx="1098.4" cy="716.6" r="4.0"/><circle cx="1098.7" cy="858.1" r="4.0"/><circle cx="1099.1" cy="833.6" r="4.0"/><circle cx="1098.0" cy="723.4" r="4.0"/><circle cx="1097.3" cy="844.6" r="4.0"/><circle cx="905.5" cy="792.0" r="4.0"/><circle cx="906.4" cy="843.1" r="4.0"/><circle cx="908.3" cy="773.7" r="4.0"/><circle cx="904.5" cy="765.1" r="4.0"/><circle cx="904.4" cy="729.8" r="4.0"/><circle cx="904.4" cy="729.3" r="4.0"/><circle cx="906.9" cy="748.3" r="4.0"/><circle cx="907.6" cy="760.7" r="4.0"/><circle cx="907.3" cy="795.7" r="4.0"/><circle cx="906.5" cy="824.6" r="4.0"/><circle cx="906.2" cy="735.0" r="4.0"/><circle cx="905.3" cy="863.5" r="4.0"/><circle cx="1039.5" cy="869.7" r="4.0"/><circle cx="1046.9" cy="869.3" r="4.0"/><circle cx="1066.6" cy="870.1" r="4.0"/><circle cx="944.6" cy="872.2" r="4.0"/><circle cx="1008.0" cy="870.7" r="4.0"/><circle cx="1027.1" cy="871.8" r="4.0"/><circle cx="1000.3" cy="873.3" r="4.0"/><circle cx="934.3" cy="872.6" r="4.0"/><circle cx="1082.4" cy="867.0" r="4.0"/><circle cx="1037.2" cy="871.0" r="4.0"/><circle cx="1081.7" cy="873.9" r="4.0"/><circle cx="1008.2" cy="875.1" r="4.0"/><circle cx="979.7" cy="867.0" r="4.0"/><circle cx="1089.4" cy="873.8" r="4.0"/><circle cx="904.3" cy="868.7" r="4.0"/><circle cx="972.1" cy="867.9" r="4.0"/><circle cx="1052.4" cy="868.2" r="4.0"/><circle cx="1030.8" cy="872.9" r="4.0"/><circle cx="1008.8" cy="874.5" r="4.0"/><circle cx="1077.5" cy="872.3" r="4.0"/><circle cx="1012.5" cy="877.7" r="4.0"/><circle cx="1056.4" cy="869.9" r="4.0"/>
</g>
<g fill="rgb(241,82,82)" fill-opacity="0.68">
<circle cx="913.7" cy="701.0" r="4.7"/><circle cx="916.4" cy="700.3" r="4.7"/><circle cx="921.3" cy="701.0" r="4.7"/><circle cx="922.6" cy="706.5" r="4.7"/><circle cx="932.5" cy="702.1" r="4.7"/><circle cx="910.9" cy="710.6" r="4.7"/><circle cx="936.4" cy="708.6" r="4.7"/><circle cx="948.1" cy="708.6" r="4.7"/><circle cx="951.5" cy="710.6" r="4.7"/><circle cx="943.3" cy="712.7" r="4.7"/><circle cx="957.7" cy="707.2" r="4.7"/><circle cx="965.3" cy="709.9" r="4.7"/><circle cx="972.1" cy="706.5" r="4.7"/><circle cx="968.0" cy="712.0" r="4.7"/><circle cx="981.8" cy="710.6" r="4.7"/><circle cx="986.6" cy="705.8" r="4.7"/><circle cx="993.4" cy="707.2" r="4.7"/><circle cx="1001.0" cy="712.7" r="4.7"/><circle cx="1009.3" cy="712.0" r="4.7"/><circle cx="1016.8" cy="705.1" r="4.7"/><circle cx="1018.9" cy="710.6" r="4.7"/><circle cx="1025.8" cy="709.9" r="4.7"/><circle cx="1029.9" cy="710.6" r="4.7"/><circle cx="1023.0" cy="712.7" r="4.7"/><circle cx="1039.5" cy="711.3" r="4.7"/><circle cx="1043.6" cy="710.6" r="4.7"/><circle cx="1050.5" cy="709.3" r="4.7"/><circle cx="1054.6" cy="710.6" r="4.7"/><circle cx="1058.8" cy="710.6" r="4.7"/><circle cx="908.2" cy="718.9" r="4.7"/><circle cx="912.3" cy="719.6" r="4.7"/><circle cx="908.9" cy="723.7" r="4.7"/><circle cx="917.1" cy="727.1" r="4.7"/><circle cx="912.3" cy="729.9" r="4.7"/><circle cx="916.4" cy="734.0" r="4.7"/><circle cx="906.8" cy="739.5" r="4.7"/><circle cx="916.4" cy="740.2" r="4.7"/><circle cx="916.4" cy="746.4" r="4.7"/><circle cx="914.4" cy="753.3" r="4.7"/><circle cx="915.1" cy="760.8" r="4.7"/><circle cx="904.8" cy="765.6" r="4.7"/><circle cx="916.9" cy="769.8" r="4.7"/><circle cx="912.3" cy="778.0" r="4.7"/><circle cx="925.7" cy="779.1" r="4.7"/><circle cx="917.8" cy="787.6" r="4.7"/><circle cx="922.6" cy="790.4" r="4.7"/><circle cx="921.3" cy="795.9" r="4.7"/><circle cx="910.9" cy="802.8" r="4.7"/><circle cx="908.9" cy="809.6" r="4.7"/><circle cx="919.9" cy="811.0" r="4.7"/><circle cx="918.5" cy="816.5" r="4.7"/><circle cx="912.3" cy="822.0" r="4.7"/><circle cx="906.8" cy="827.5" r="4.7"/><circle cx="899.9" cy="832.3" r="4.7"/><circle cx="913.0" cy="822.3" r="4.7"/><circle cx="907.5" cy="827.1" r="4.7"/><circle cx="899.9" cy="832.6" r="4.7"/><circle cx="904.8" cy="835.4" r="4.7"/><circle cx="916.4" cy="840.2" r="4.7"/><circle cx="917.1" cy="846.4" r="4.7"/><circle cx="920.6" cy="851.2" r="4.7"/><circle cx="917.8" cy="857.4" r="4.7"/><circle cx="916.4" cy="862.2" r="4.7"/><circle cx="926.1" cy="864.3" r="4.7"/><circle cx="921.3" cy="868.4" r="4.7"/><circle cx="908.9" cy="869.8" r="4.7"/><circle cx="913.0" cy="872.5" r="4.7"/><circle cx="924.0" cy="872.5" r="4.7"/><circle cx="932.9" cy="873.2" r="4.7"/><circle cx="941.2" cy="864.9" r="4.7"/><circle cx="943.3" cy="870.4" r="4.7"/><circle cx="949.4" cy="875.3" r="4.7"/><circle cx="959.8" cy="869.8" r="4.7"/><circle cx="963.2" cy="866.3" r="4.7"/><circle cx="969.4" cy="864.9" r="4.7"/><circle cx="973.5" cy="867.0" r="4.7"/><circle cx="977.6" cy="867.7" r="4.7"/><circle cx="983.1" cy="868.4" r="4.7"/><circle cx="988.6" cy="875.3" r="4.7"/><circle cx="994.1" cy="864.9" r="4.7"/><circle cx="998.3" cy="869.8" r="4.7"/><circle cx="1006.5" cy="875.9" r="4.7"/><circle cx="1015.4" cy="862.2" r="4.7"/><circle cx="1020.3" cy="867.7" r="4.7"/><circle cx="1024.4" cy="878.0" r="4.7"/><circle cx="1034.7" cy="863.6" r="4.7"/><circle cx="1040.2" cy="875.9" r="4.7"/><circle cx="1046.4" cy="871.8" r="4.7"/><circle cx="1051.9" cy="869.1" r="4.7"/><circle cx="1057.4" cy="862.2" r="4.7"/><circle cx="1015.1" cy="861.5" r="4.7"/><circle cx="1020.6" cy="867.7" r="4.7"/><circle cx="1006.9" cy="876.6" r="4.7"/><circle cx="1024.1" cy="878.0" r="4.7"/><circle cx="1034.4" cy="862.9" r="4.7"/><circle cx="1039.9" cy="876.6" r="4.7"/><circle cx="1045.4" cy="872.5" r="4.7"/><circle cx="1052.3" cy="869.1" r="4.7"/><circle cx="1057.8" cy="861.5" r="4.7"/><circle cx="1063.3" cy="872.5" r="4.7"/><circle cx="1071.5" cy="862.9" r="4.7"/><circle cx="1077.0" cy="864.9" r="4.7"/><circle cx="1082.5" cy="862.2" r="4.7"/><circle cx="1088.0" cy="871.1" r="4.7"/><circle cx="1093.5" cy="864.9" r="4.7"/><circle cx="1099.0" cy="865.6" r="4.7"/><circle cx="1120.0" cy="854.4" r="4.7"/><circle cx="1120.0" cy="854.4" r="4.7"/><circle cx="1120.0" cy="854.4" r="4.7"/><circle cx="1016.5" cy="704.4" r="4.7"/><circle cx="1097.6" cy="698.9" r="4.7"/><circle cx="1101.8" cy="696.2" r="4.7"/><circle cx="1099.7" cy="698.3" r="4.7"/><circle cx="1096.3" cy="701.0" r="4.7"/><circle cx="1093.5" cy="714.8" r="4.7"/><circle cx="1088.0" cy="721.6" r="4.7"/><circle cx="1096.3" cy="726.4" r="4.7"/><circle cx="1015.2" cy="710.8" r="4.7"/><circle cx="1044.1" cy="709.2" r="4.7"/><circle cx="1019.9" cy="712.8" r="4.7"/><circle cx="1047.1" cy="708.3" r="4.7"/><circle cx="1046.5" cy="711.8" r="4.7"/><circle cx="1034.1" cy="712.0" r="4.7"/><circle cx="1053.9" cy="715.0" r="4.7"/><circle cx="1021.4" cy="713.3" r="4.7"/><circle cx="1021.4" cy="718.5" r="4.7"/><circle cx="1068.0" cy="713.6" r="4.7"/><circle cx="1080.5" cy="711.4" r="4.7"/><circle cx="1030.3" cy="711.4" r="4.7"/><circle cx="1045.8" cy="715.5" r="4.7"/><circle cx="1033.9" cy="715.1" r="4.7"/><circle cx="1014.2" cy="712.2" r="4.7"/><circle cx="1085.4" cy="710.9" r="4.7"/><circle cx="954.7" cy="709.4" r="4.7"/><circle cx="957.3" cy="710.7" r="4.7"/><circle cx="932.6" cy="715.6" r="4.7"/><circle cx="1091.8" cy="757.7" r="4.7"/><circle cx="1092.2" cy="836.5" r="4.7"/><circle cx="1095.3" cy="852.9" r="4.7"/><circle cx="1091.2" cy="832.8" r="4.7"/><circle cx="1088.8" cy="829.2" r="4.7"/><circle cx="1087.9" cy="741.5" r="4.7"/><circle cx="1091.5" cy="752.8" r="4.7"/><circle cx="1092.3" cy="857.1" r="4.7"/><circle cx="1089.9" cy="776.5" r="4.7"/><circle cx="1086.8" cy="789.0" r="4.7"/><circle cx="1094.6" cy="779.6" r="4.7"/><circle cx="1093.3" cy="727.7" r="4.7"/><circle cx="1092.5" cy="867.2" r="4.7"/><circle cx="1088.9" cy="795.4" r="4.7"/><circle cx="1091.1" cy="831.8" r="4.7"/><circle cx="1089.3" cy="755.9" r="4.7"/><circle cx="1089.6" cy="813.7" r="4.7"/><circle cx="1091.8" cy="749.9" r="4.7"/><circle cx="1092.4" cy="857.7" r="4.7"/><circle cx="1089.8" cy="773.9" r="4.7"/><circle cx="1090.2" cy="738.7" r="4.7"/><circle cx="1092.1" cy="733.3" r="4.7"/><circle cx="1088.3" cy="777.9" r="4.7"/><circle cx="1089.4" cy="822.5" r="4.7"/><circle cx="1087.7" cy="862.2" r="4.7"/><circle cx="1095.3" cy="782.6" r="4.7"/><circle cx="1090.7" cy="809.1" r="4.7"/><circle cx="1089.4" cy="851.3" r="4.7"/><circle cx="1091.1" cy="759.5" r="4.7"/><circle cx="1091.3" cy="850.3" r="4.7"/><circle cx="1091.5" cy="840.1" r="4.7"/><circle cx="1087.8" cy="835.6" r="4.7"/><circle cx="1091.3" cy="731.3" r="4.7"/><circle cx="1090.6" cy="761.1" r="4.7"/><circle cx="1092.7" cy="748.4" r="4.7"/><circle cx="1089.1" cy="733.8" r="4.7"/><circle cx="1094.1" cy="865.8" r="4.7"/><circle cx="1089.7" cy="831.5" r="4.7"/><circle cx="1091.2" cy="862.3" r="4.7"/><circle cx="1090.9" cy="799.7" r="4.7"/><circle cx="1090.6" cy="754.4" r="4.7"/><circle cx="1092.0" cy="844.8" r="4.7"/><circle cx="1087.6" cy="810.6" r="4.7"/><circle cx="1088.1" cy="785.3" r="4.7"/><circle cx="1089.4" cy="768.3" r="4.7"/><circle cx="1090.5" cy="801.0" r="4.7"/><circle cx="1093.9" cy="725.3" r="4.7"/><circle cx="1091.4" cy="822.8" r="4.7"/><circle cx="1090.9" cy="809.5" r="4.7"/><circle cx="1092.3" cy="816.8" r="4.7"/><circle cx="1089.2" cy="760.9" r="4.7"/><circle cx="1094.6" cy="782.4" r="4.7"/><circle cx="1090.1" cy="743.1" r="4.7"/><circle cx="1091.3" cy="737.5" r="4.7"/><circle cx="1091.2" cy="788.3" r="4.7"/><circle cx="1092.7" cy="744.1" r="4.7"/><circle cx="1089.2" cy="742.1" r="4.7"/><circle cx="1090.1" cy="801.6" r="4.7"/><circle cx="1092.8" cy="755.5" r="4.7"/><circle cx="1091.7" cy="747.8" r="4.7"/><circle cx="1092.5" cy="826.3" r="4.7"/><circle cx="1093.6" cy="803.2" r="4.7"/>
</g>
</g>
<rect x="782.85" y="585.50" width="477.15" height="384.90" fill="none" stroke="#000" stroke-width="3.6"/>
<line x1="842.49" y1="970.40" x2="842.49" y2="963.30" stroke="#000" stroke-width="3.5"/>
<text x="844.29" y="1001.80" font-size="25.2" text-anchor="middle"><tspan dy="-1.2">–</tspan><tspan dy="1.2">300</tspan></text>
<line x1="902.14" y1="970.40" x2="902.14" y2="963.30" stroke="#000" stroke-width="3.5"/>
<text x="903.84" y="1001.80" font-size="25.2" text-anchor="middle">0</text>
<line x1="961.78" y1="970.40" x2="961.78" y2="963.30" stroke="#000" stroke-width="3.5"/>
<text x="963.68" y="1001.80" font-size="25.2" text-anchor="middle">300</text>
<line x1="1021.42" y1="970.40" x2="1021.42" y2="963.30" stroke="#000" stroke-width="3.5"/>
<text x="1023.42" y="1001.80" font-size="25.2" text-anchor="middle">600</text>
<line x1="1081.07" y1="970.40" x2="1081.07" y2="963.30" stroke="#000" stroke-width="3.5"/>
<text x="1082.77" y="1001.80" font-size="25.2" text-anchor="middle">900</text>
<line x1="1140.71" y1="970.40" x2="1140.71" y2="963.30" stroke="#000" stroke-width="3.5"/>
<text x="1143.81" y="1001.80" font-size="25.2" text-anchor="middle">1200</text>
<line x1="1200.36" y1="970.40" x2="1200.36" y2="963.30" stroke="#000" stroke-width="3.5"/>
<text x="1203.66" y="1001.80" font-size="25.2" text-anchor="middle">1500</text>
<text x="1263.70" y="1001.80" font-size="25.2" text-anchor="middle">1800</text>
<text x="768.80" y="976.38" font-size="25.2" text-anchor="end"><tspan dy="-1.2">–</tspan><tspan dy="1.2">600</tspan></text>
<line x1="782.85" y1="922.29" x2="789.95" y2="922.29" stroke="#000" stroke-width="3.5"/>
<text x="768.80" y="928.85" font-size="25.2" text-anchor="end"><tspan dy="-1.2">–</tspan><tspan dy="1.2">300</tspan></text>
<line x1="782.85" y1="874.17" x2="789.95" y2="874.17" stroke="#000" stroke-width="3.5"/>
<text x="768.80" y="881.32" font-size="25.2" text-anchor="end">0</text>
<line x1="782.85" y1="826.06" x2="789.95" y2="826.06" stroke="#000" stroke-width="3.5"/>
<text x="768.80" y="833.78" font-size="25.2" text-anchor="end">300</text>
<line x1="782.85" y1="777.95" x2="789.95" y2="777.95" stroke="#000" stroke-width="3.5"/>
<text x="768.80" y="786.25" font-size="25.2" text-anchor="end">600</text>
<line x1="782.85" y1="729.84" x2="789.95" y2="729.84" stroke="#000" stroke-width="3.5"/>
<text x="768.80" y="738.72" font-size="25.2" text-anchor="end">900</text>
<line x1="782.85" y1="681.73" x2="789.95" y2="681.73" stroke="#000" stroke-width="3.5"/>
<text x="768.80" y="691.18" font-size="25.2" text-anchor="end">1200</text>
<line x1="782.85" y1="633.61" x2="789.95" y2="633.61" stroke="#000" stroke-width="3.5"/>
<text x="768.80" y="643.65" font-size="25.2" text-anchor="end">1500</text>
<text x="768.80" y="596.12" font-size="25.2" text-anchor="end">1800</text>
<text x="1021.52" y="1040.30" font-size="24.8" text-anchor="middle">X (μm)</text>
<text transform="translate(685.30,774.60) rotate(-90)" font-size="24.8" text-anchor="middle"><tspan font-style="italic">Y</tspan> (μm)</text>
<line x1="839.0" y1="604.6" x2="879.7" y2="604.6" stroke="#000" stroke-width="1.75"/>
<circle cx="859.3" cy="627.7" r="4.8" fill="rgb(70,171,96)" fill-opacity="0.68"/>
<circle cx="859.3" cy="649.9" r="4.8" fill="rgb(241,82,82)" fill-opacity="0.68"/>
<text x="892.25" y="611.8" font-size="16.7">Desired trajectory</text>
<text x="891.6" y="635.9" font-size="16.7">Robot-assisted without balanced mechanism</text>
<text x="891.6" y="659.7" font-size="16.7">Robot-assisted with balanced mechanism</text>
<text x="665.4" y="573.9" font-size="43" font-weight="bold">e</text>
<path d="M1488.3,281.0L1488.4,278.9L1488.6,276.1L1488.8,272.8L1489.0,269.2L1489.2,265.2L1489.4,261.1L1489.7,256.9L1489.9,252.8L1490.2,249.3L1490.5,246.2L1490.8,243.3L1491.1,240.4L1491.4,237.6L1491.8,234.7L1492.1,232.0L1492.5,229.3L1492.9,226.6L1493.2,224.1L1493.6,221.7L1494.0,219.5L1494.4,217.4L1494.8,215.4L1495.1,213.5L1495.5,211.8L1495.9,210.1L1496.3,208.5L1496.7,207.1L1497.2,205.6L1497.6,204.3L1498.0,203.0L1498.4,201.7L1498.9,200.5L1499.3,199.5L1499.8,198.4L1500.2,197.5L1500.7,196.6L1501.1,195.8L1501.6,195.0L1502.1,194.3L1502.6,193.6L1503.1,193.0L1503.6,192.4L1504.1,191.9L1504.6,191.4L1505.1,191.0L1505.6,190.7L1506.1,190.4L1506.7,190.2L1507.3,190.1L1507.9,190.0L1508.5,190.1L1509.2,190.4L1509.8,190.6L1510.5,191.0L1511.2,191.4L1511.9,191.9L1512.7,192.5L1513.5,193.2L1514.3,194.0L1515.2,195.0L1516.1,196.1L1517.1,197.5L1518.2,199.0L1519.3,200.6L1520.4,202.2L1521.5,203.9L1522.7,205.6L1523.8,207.2L1525.0,208.8L1526.2,210.2L1527.4,211.6L1528.6,213.0L1529.9,214.5L1531.2,215.9L1532.5,217.3L1533.8,218.6L1535.1,219.8L1536.4,221.0L1537.6,222.0L1538.8,223.0L1540.0,223.7L1541.1,224.4L1542.2,225.0L1543.4,225.5L1544.4,225.9L1545.5,226.3L1546.6,226.5L1547.7,226.7L1548.8,226.8L1549.9,226.9L1551.0,226.8L1552.0,226.7L1553.1,226.6L1554.1,226.3L1555.1,226.0L1556.2,225.6L1557.3,225.1L1558.4,224.4L1559.6,223.6L1560.9,222.6L1562.3,221.4L1563.7,220.1L1565.2,218.6L1566.7,217.0L1568.3,215.2L1569.9,213.4L1571.6,211.4L1573.3,209.3L1575.0,207.1L1576.7,204.9L1578.5,202.4L1580.3,199.7L1582.2,196.8L1584.2,193.7L1586.2,190.6L1588.1,187.5L1590.1,184.4L1592.0,181.5L1593.8,178.7L1595.6,176.2L1597.3,173.8L1599.0,171.6L1600.6,169.4L1602.1,167.3L1603.7,165.4L1605.2,163.5L1606.8,161.7L1608.3,160.0L1609.8,158.4L1611.4,156.9L1613.0,155.5L1614.6,154.2L1616.3,153.0L1617.9,151.9L1619.5,151.0L1621.2,150.0L1622.7,149.2L1624.3,148.5L1625.7,147.8L1627.1,147.2L1628.4,146.7L1629.6,146.2L1630.7,145.9L1631.7,145.6L1632.7,145.5L1633.8,145.3L1634.8,145.3L1635.9,145.3L1637.0,145.3L1638.2,145.4L1639.5,145.6L1640.7,145.8L1642.0,146.0L1643.3,146.2L1644.6,146.6L1646.0,147.0L1647.5,147.6L1649.0,148.3L1650.7,149.2L1652.4,150.3L1654.3,151.6L1656.3,153.2L1658.4,154.9L1660.7,156.8L1663.0,158.9L1665.3,161.0L1667.6,163.1L1669.9,165.3L1672.2,167.4L1674.4,169.4L1676.6,171.4L1678.8,173.4L1681.0,175.5L1683.3,177.5L1685.5,179.5L1687.7,181.6L1689.8,183.6L1691.9,185.6L1693.9,187.5L1695.8,189.3L1697.6,191.2L1699.3,193.0L1700.9,194.8L1702.5,196.5L1704.0,198.3L1705.5,199.9L1707.0,201.6L1708.4,203.1L1710.0,204.5L1711.5,205.9L1713.1,207.1L1714.7,208.3L1716.3,209.4L1718.0,210.4L1719.6,211.4L1721.2,212.2L1722.8,213.1L1724.3,213.8L1725.8,214.5L1727.3,215.1L1728.7,215.7L1730.0,216.1L1731.3,216.5L1732.6,216.8L1733.8,217.1L1735.0,217.3L1736.2,217.4L1737.4,217.5L1738.7,217.6L1739.9,217.6L1741.1,217.5L1742.4,217.5L1743.6,217.4L1744.8,217.2L1746.0,217.0L1747.2,216.7L1748.5,216.3L1749.8,215.8L1751.1,215.2L1752.5,214.5L1754.0,213.6L1755.5,212.6L1757.0,211.4L1758.6,210.2L1760.2,208.9L1761.8,207.5L1763.5,206.0L1765.1,204.4L1766.7,202.8L1768.3,201.0L1769.9,199.2L1771.5,197.2L1773.0,195.1L1774.6,193.0L1776.2,190.7L1777.8,188.4L1779.4,186.1L1780.9,183.7L1782.5,181.3L1784.1,179.0L1785.7,176.6L1787.2,174.1L1788.8,171.6L1790.4,169.1L1792.0,166.4L1793.5,163.8L1795.1,161.2L1796.7,158.6L1798.2,156.0L1799.8,153.5L1801.4,150.9L1803.0,148.4L1804.7,145.7L1806.3,143.1L1808.0,140.5L1809.6,138.0L1811.2,135.6L1812.7,133.3L1814.2,131.2L1815.6,129.3L1816.9,127.5L1818.1,125.9L1819.3,124.4L1820.4,123.1L1821.5,121.8L1822.5,120.7L1823.6,119.6L1824.6,118.7L1825.6,117.8L1826.6,116.9L1827.6,116.1L1828.6,115.4L1829.6,114.8L1830.5,114.3L1831.4,113.8L1832.4,113.4L1833.3,113.1L1834.2,112.9L1835.2,112.8L1836.1,112.8L1837.1,112.7L1838.0,112.7L1839.0,112.8L1839.9,112.9L1840.9,113.2L1841.8,113.5L1842.8,114.0L1843.7,114.6L1844.7,115.3L1845.6,116.2L1846.5,117.3L1847.5,118.4L1848.4,119.7L1849.4,121.2L1850.3,122.7L1851.2,124.2L1852.2,125.8L1853.1,127.6L1854.1,129.4L1855.0,131.4L1856.0,133.5L1856.9,135.7L1857.9,138.1L1858.9,140.7L1859.8,143.3L1860.8,146.1L1861.8,149.0L1862.7,151.9L1863.6,154.8L1864.5,157.7L1865.4,160.6L1866.2,163.5L1867.0,166.5L1867.9,169.6L1868.6,172.6L1869.4,175.7L1870.2,178.8L1870.9,181.9L1871.7,185.0L1872.4,188.0L1873.1,191.1L1873.8,194.2L1874.5,196.8L1875.2,199.1L1875.9,201.4L1876.5,203.7L1877.1,206.1L1877.7,208.3L1878.2,210.6L1878.7,212.8L1879.2,214.6L1879.6,215.8L1880.0,217.1L1880.3,218.5L1880.6,219.9L1880.9,221.3L1881.2,222.7L1881.4,223.9L1881.6,224.9L1881.8,225.6L1881.8,288.6L1881.6,286.6L1881.4,284.2L1881.2,281.4L1880.9,278.2L1880.6,274.7L1880.3,270.9L1880.0,267.0L1879.6,262.9L1879.2,258.7L1878.7,255.3L1878.2,252.2L1877.7,249.0L1877.1,245.6L1876.5,242.2L1875.9,238.7L1875.2,235.2L1874.5,231.7L1873.8,228.2L1873.1,224.9L1872.4,221.6L1871.7,218.3L1870.9,215.0L1870.2,211.7L1869.4,208.4L1868.6,205.1L1867.9,201.8L1867.0,198.5L1866.2,195.3L1865.4,192.1L1864.5,188.9L1863.6,185.8L1862.7,182.6L1861.8,179.5L1860.8,176.3L1859.8,173.2L1858.9,170.0L1857.9,166.9L1856.9,163.9L1856.0,161.1L1855.0,158.4L1854.1,155.9L1853.1,153.5L1852.2,151.2L1851.2,149.0L1850.3,146.9L1849.4,145.0L1848.4,143.3L1847.5,141.7L1846.5,140.3L1845.6,139.0L1844.7,137.8L1843.7,136.8L1842.8,135.9L1841.8,135.2L1840.9,134.6L1839.9,134.1L1839.0,133.6L1838.0,133.3L1837.1,133.0L1836.1,132.8L1835.2,132.8L1834.2,132.8L1833.3,133.0L1832.4,133.2L1831.4,133.5L1830.5,133.9L1829.6,134.4L1828.6,134.9L1827.6,135.6L1826.6,136.3L1825.6,137.1L1824.6,137.9L1823.6,138.8L1822.5,139.8L1821.5,140.9L1820.4,142.1L1819.3,143.3L1818.1,144.7L1816.9,146.3L1815.6,147.9L1814.2,149.8L1812.7,151.8L1811.2,154.0L1809.6,156.3L1808.0,158.7L1806.3,161.2L1804.7,163.7L1803.0,166.2L1801.4,168.7L1799.8,171.1L1798.2,173.5L1796.7,176.0L1795.1,178.5L1793.5,181.0L1792.0,183.6L1790.4,186.1L1788.8,188.6L1787.2,191.1L1785.7,193.6L1784.1,196.0L1782.5,198.4L1780.9,200.8L1779.4,203.2L1777.8,205.5L1776.2,207.8L1774.6,210.1L1773.0,212.3L1771.5,214.4L1769.9,216.3L1768.3,218.2L1766.7,219.9L1765.1,221.6L1763.5,223.2L1761.8,224.7L1760.2,226.2L1758.6,227.5L1757.0,228.7L1755.5,229.8L1754.0,230.9L1752.5,231.8L1751.1,232.5L1749.8,233.1L1748.5,233.6L1747.2,234.0L1746.0,234.3L1744.8,234.6L1743.6,234.7L1742.4,234.8L1741.1,234.9L1739.9,235.0L1738.7,235.1L1737.4,235.2L1736.2,235.2L1735.0,235.2L1733.8,235.1L1732.6,234.9L1731.3,234.7L1730.0,234.4L1728.7,234.1L1727.3,233.7L1725.8,233.2L1724.3,232.7L1722.8,232.1L1721.2,231.4L1719.6,230.7L1718.0,229.9L1716.3,229.0L1714.7,228.1L1713.1,227.0L1711.5,225.9L1710.0,224.7L1708.4,223.4L1707.0,222.0L1705.5,220.6L1704.0,219.0L1702.5,217.4L1700.9,215.8L1699.3,214.2L1697.6,212.5L1695.8,210.9L1693.9,209.2L1691.9,207.4L1689.8,205.7L1687.7,203.9L1685.5,202.0L1683.3,200.2L1681.0,198.4L1678.8,196.5L1676.6,194.7L1674.4,193.0L1672.2,191.2L1669.9,189.3L1667.6,187.4L1665.3,185.5L1663.0,183.7L1660.7,181.9L1658.4,180.2L1656.3,178.6L1654.3,177.3L1652.4,176.1L1650.7,175.2L1649.0,174.5L1647.5,174.0L1646.0,173.6L1644.6,173.3L1643.3,173.1L1642.0,173.0L1640.7,172.9L1639.5,172.8L1638.2,172.8L1637.0,172.7L1635.9,172.6L1634.8,172.6L1633.8,172.6L1632.7,172.7L1631.7,172.8L1630.7,173.0L1629.6,173.3L1628.4,173.7L1627.1,174.2L1625.7,174.8L1624.3,175.4L1622.7,176.1L1621.2,176.8L1619.5,177.7L1617.9,178.6L1616.3,179.6L1614.6,180.8L1613.0,182.0L1611.4,183.3L1609.8,184.8L1608.3,186.3L1606.8,187.9L1605.2,189.7L1603.7,191.5L1602.1,193.4L1600.6,195.4L1599.0,197.5L1597.3,199.7L1595.6,202.0L1593.8,204.5L1592.0,207.2L1590.1,210.1L1588.1,213.0L1586.2,216.1L1584.2,219.1L1582.2,222.1L1580.3,224.9L1578.5,227.5L1576.7,229.9L1575.0,232.1L1573.3,234.3L1571.6,236.3L1569.9,238.2L1568.3,240.0L1566.7,241.7L1565.2,243.2L1563.7,244.6L1562.3,245.9L1560.9,247.0L1559.6,248.0L1558.4,248.8L1557.3,249.4L1556.2,249.9L1555.1,250.2L1554.1,250.5L1553.1,250.7L1552.0,250.8L1551.0,250.9L1549.9,250.9L1548.8,251.0L1547.7,251.0L1546.6,251.0L1545.5,250.9L1544.4,250.7L1543.4,250.4L1542.2,250.0L1541.1,249.6L1540.0,249.1L1538.8,248.4L1537.6,247.7L1536.4,246.8L1535.1,245.8L1533.8,244.8L1532.5,243.6L1531.2,242.4L1529.9,241.2L1528.6,239.9L1527.4,238.6L1526.2,237.4L1525.0,236.1L1523.8,234.7L1522.7,233.2L1521.5,231.7L1520.4,230.2L1519.3,228.8L1518.2,227.4L1517.1,226.2L1516.1,225.1L1515.2,224.2L1514.3,223.5L1513.5,222.8L1512.7,222.3L1511.9,221.9L1511.2,221.6L1510.5,221.3L1509.8,221.2L1509.2,221.1L1508.5,221.0L1507.9,221.0L1507.3,220.9L1506.7,220.9L1506.1,221.0L1505.6,221.1L1505.1,221.4L1504.6,221.6L1504.1,222.0L1503.6,222.4L1503.1,222.9L1502.6,223.4L1502.1,223.9L1501.6,224.5L1501.1,225.2L1500.7,225.9L1500.2,226.7L1499.8,227.5L1499.3,228.4L1498.9,229.4L1498.4,230.5L1498.0,231.6L1497.6,232.9L1497.2,234.1L1496.7,235.5L1496.3,236.9L1495.9,238.3L1495.5,239.9L1495.1,241.6L1494.8,243.4L1494.4,245.5L1494.0,247.7L1493.6,250.0L1493.2,252.5L1492.9,255.1L1492.5,257.8L1492.1,260.5L1491.8,263.4L1491.4,266.3L1491.1,269.2L1490.8,272.1L1490.5,275.1L1490.2,278.2L1489.9,282.2L1489.7,288.6L1489.4,294.8L1489.2,300.9L1489.0,306.7L1488.8,312.1L1488.6,316.8L1488.4,320.8L1488.3,324.0Z" fill="rgb(241,82,82)" fill-opacity="0.7"/>
<path d="M1488.3,290.0L1488.5,286.6L1488.8,281.9L1489.2,276.3L1489.6,270.3L1490.0,264.5L1490.5,259.3L1491.0,254.6L1491.6,249.9L1492.1,245.4L1492.7,241.1L1493.4,237.0L1494.0,233.3L1494.6,230.0L1495.3,227.0L1495.9,224.2L1496.6,221.7L1497.3,219.4L1498.0,217.3L1498.7,215.3L1499.5,213.6L1500.2,212.1L1501.0,210.7L1501.8,209.5L1502.6,208.5L1503.4,207.6L1504.2,206.8L1505.1,206.2L1506.0,205.8L1506.9,205.5L1507.9,205.5L1509.0,205.7L1510.0,206.0L1511.2,206.5L1512.4,207.2L1513.7,208.3L1515.2,209.6L1516.8,211.4L1518.5,213.7L1520.4,216.2L1522.3,218.9L1524.2,221.4L1526.2,223.8L1528.2,226.0L1530.3,228.3L1532.5,230.4L1534.7,232.5L1536.8,234.2L1538.8,235.7L1540.7,236.8L1542.6,237.7L1544.4,238.3L1546.3,238.7L1548.1,238.9L1549.9,238.9L1551.7,238.8L1553.4,238.6L1555.1,238.1L1556.9,237.4L1558.8,236.3L1560.9,234.8L1563.2,232.8L1565.7,230.4L1568.3,227.6L1571.0,224.5L1573.8,221.1L1576.7,217.4L1579.7,213.2L1582.9,208.4L1586.2,203.4L1589.4,198.2L1592.6,193.4L1595.6,189.1L1598.4,185.3L1601.1,181.7L1603.7,178.4L1606.3,175.4L1608.8,172.6L1611.4,170.1L1614.1,167.9L1616.8,166.0L1619.5,164.3L1622.2,162.9L1624.8,161.7L1627.1,160.7L1629.2,159.9L1631.0,159.4L1632.7,159.1L1634.4,158.9L1636.2,158.9L1638.2,159.1L1640.3,159.3L1642.4,159.5L1644.6,159.9L1647.0,160.6L1649.5,161.6L1652.4,163.2L1655.6,165.4L1659.2,168.1L1663.0,171.3L1666.8,174.6L1670.7,178.0L1674.4,181.2L1678.1,184.3L1681.8,187.5L1685.5,190.8L1689.1,194.0L1692.6,197.1L1695.8,200.1L1698.7,203.0L1701.5,205.9L1704.0,208.7L1706.5,211.3L1708.9,213.7L1711.5,215.9L1714.2,217.8L1716.9,219.5L1719.6,221.0L1722.3,222.3L1724.9,223.4L1727.3,224.4L1729.6,225.2L1731.7,225.7L1733.8,226.1L1735.8,226.3L1737.8,226.4L1739.9,226.3L1742.0,226.2L1744.0,226.0L1746.0,225.7L1748.1,225.1L1750.2,224.3L1752.5,223.1L1754.9,221.5L1757.5,219.7L1760.2,217.5L1762.9,215.1L1765.6,212.5L1768.3,209.6L1770.9,206.5L1773.6,203.0L1776.2,199.3L1778.8,195.4L1781.5,191.5L1784.1,187.5L1786.7,183.5L1789.3,179.3L1792.0,175.0L1794.6,170.7L1797.2,166.4L1799.8,162.3L1802.5,158.1L1805.2,153.9L1808.0,149.6L1810.7,145.6L1813.2,141.9L1815.6,138.6L1817.7,135.8L1819.7,133.4L1821.5,131.4L1823.2,129.6L1824.9,128.0L1826.6,126.6L1828.3,125.4L1829.9,124.4L1831.4,123.6L1833.0,123.1L1834.5,122.8L1836.1,122.8L1837.7,123.0L1839.3,123.3L1840.9,123.9L1842.4,124.8L1844.0,126.0L1845.6,127.6L1847.2,129.6L1848.7,132.0L1850.3,134.8L1851.9,137.8L1853.4,141.2L1855.0,144.9L1856.6,149.0L1858.2,153.4L1859.8,158.2L1861.4,163.2L1863.0,168.3L1864.5,173.3L1865.9,178.4L1867.3,183.6L1868.6,188.8L1869.9,194.2L1871.2,199.5L1872.4,204.8L1873.6,210.1L1874.7,215.6L1875.9,221.0L1876.9,226.3L1877.9,231.5L1878.7,236.4L1879.4,241.3L1880.1,246.2L1880.6,251.0L1881.1,255.3L1881.5,258.9L1881.8,261.6" fill="none" stroke="rgb(241,82,82)" stroke-opacity="0.92" stroke-width="4.0" stroke-linecap="butt" stroke-linejoin="round"/>
<path d="M1488.3,330.6L1488.7,332.2L1489.1,334.3L1489.7,336.7L1490.3,339.5L1491.0,342.4L1491.7,344.2L1492.5,346.0L1493.2,347.8L1494.0,349.5L1494.7,350.9L1495.4,352.3L1496.2,353.5L1496.9,354.0L1497.7,354.5L1498.5,354.9L1499.3,355.2L1500.1,355.5L1500.9,355.8L1501.7,355.9L1502.6,356.0L1503.5,355.9L1504.3,355.8L1505.2,355.7L1506.0,355.5L1506.9,355.2L1507.8,354.8L1508.8,354.3L1509.8,353.7L1510.9,353.0L1512.0,352.1L1513.2,351.0L1514.5,349.7L1515.9,348.3L1517.3,346.8L1518.7,345.2L1520.2,343.5L1521.7,341.7L1523.2,340.0L1524.7,338.3L1526.2,336.6L1527.7,335.0L1529.3,333.2L1530.8,331.5L1532.4,329.7L1534.0,327.9L1535.6,326.1L1537.2,324.3L1538.8,322.6L1540.4,321.0L1542.0,319.5L1543.6,318.1L1545.1,316.7L1546.6,315.3L1548.2,314.0L1549.7,312.7L1551.3,311.5L1552.8,310.4L1554.4,309.3L1556.1,308.2L1557.8,307.2L1559.6,306.2L1561.4,305.3L1563.2,304.4L1565.1,303.6L1567.1,302.8L1569.0,302.0L1570.9,301.4L1572.9,300.7L1574.8,300.1L1576.7,299.6L1578.6,299.1L1580.5,298.7L1582.4,298.4L1584.3,298.1L1586.2,297.9L1588.0,297.7L1589.9,297.5L1591.8,297.3L1593.7,297.1L1595.6,296.8L1597.5,296.6L1599.4,296.5L1601.3,296.3L1603.2,296.1L1605.0,295.9L1606.9,295.7L1608.8,295.5L1610.7,295.3L1612.6,295.1L1614.5,294.8L1616.4,294.5L1618.3,294.1L1620.2,293.8L1622.1,293.5L1623.9,293.1L1625.8,292.7L1627.7,292.3L1629.6,291.8L1631.5,291.2L1633.4,290.6L1635.3,289.9L1637.2,289.1L1639.1,288.4L1641.0,287.5L1642.9,286.6L1644.8,285.7L1646.7,284.7L1648.6,283.6L1650.5,282.5L1652.4,281.3L1654.3,280.0L1656.2,278.7L1658.2,277.3L1660.1,275.8L1662.1,274.3L1664.0,272.7L1665.9,271.1L1667.7,269.5L1669.5,267.9L1671.3,266.3L1673.0,264.7L1674.8,263.0L1676.5,261.2L1678.1,259.4L1679.8,257.7L1681.4,255.9L1682.9,254.2L1684.4,252.5L1685.7,251.0L1687.0,249.6L1688.1,248.3L1689.1,247.1L1689.9,246.1L1690.7,245.2L1691.4,244.2L1692.1,243.3L1692.9,242.4L1693.7,241.3L1694.7,240.2L1695.8,238.9L1697.1,237.5L1698.5,235.9L1700.0,234.2L1701.6,232.4L1703.2,230.6L1704.9,228.8L1706.6,227.0L1708.2,225.2L1709.9,223.5L1711.5,222.0L1713.1,220.5L1714.7,219.1L1716.2,217.7L1717.8,216.3L1719.4,215.0L1721.0,213.7L1722.6,212.5L1724.1,211.4L1725.7,210.4L1727.3,209.5L1728.9,208.8L1730.6,208.1L1732.3,207.5L1734.0,207.0L1735.7,206.6L1737.4,206.2L1739.0,205.9L1740.5,205.6L1741.8,205.3L1743.0,205.1L1744.0,204.9L1744.8,204.7L1745.4,204.6L1745.9,204.5L1746.4,204.5L1746.8,204.5L1747.3,204.5L1747.9,204.6L1748.6,204.7L1749.4,204.9L1750.4,205.0L1751.5,205.1L1752.6,205.3L1753.8,205.5L1755.1,205.7L1756.4,206.0L1757.8,206.3L1759.2,206.8L1760.6,207.4L1762.0,208.1L1763.5,208.9L1765.0,209.9L1766.5,210.9L1768.1,212.1L1769.7,213.3L1771.3,214.6L1773.0,216.0L1774.6,217.4L1776.2,218.8L1777.8,220.3L1779.4,221.8L1780.9,223.3L1782.5,225.0L1784.1,226.7L1785.7,228.4L1787.2,230.2L1788.8,231.9L1790.4,233.7L1791.9,235.5L1793.5,237.2L1795.1,238.9L1796.7,240.7L1798.3,242.5L1800.0,244.3L1801.6,246.1L1803.2,247.9L1804.8,249.6L1806.3,251.2L1807.8,252.6L1809.3,254.0L1810.7,255.2L1812.0,256.3L1813.3,257.4L1814.6,258.3L1815.8,259.2L1817.0,260.1L1818.2,260.8L1819.4,261.5L1820.7,262.2L1821.9,262.8L1823.2,263.4L1824.4,264.0L1825.7,264.4L1826.9,264.8L1828.2,265.2L1829.5,265.5L1830.7,265.8L1832.0,266.0L1833.2,266.2L1834.5,266.4L1835.8,266.5L1837.0,266.6L1838.3,266.6L1839.6,266.5L1840.9,266.4L1842.2,266.3L1843.4,266.2L1844.7,266.0L1845.9,265.9L1847.1,265.8L1848.3,265.6L1849.5,265.4L1850.6,265.1L1851.8,264.8L1852.9,264.5L1854.1,264.2L1855.2,264.0L1856.2,263.8L1857.2,263.8L1858.2,263.9L1859.1,264.1L1860.0,264.3L1860.8,264.5L1861.6,264.8L1862.4,265.3L1863.1,265.8L1863.8,266.4L1864.6,267.2L1865.3,268.1L1866.1,269.2L1866.9,270.4L1867.7,271.8L1868.6,273.4L1869.4,275.1L1870.2,276.9L1871.0,278.8L1871.8,280.8L1872.6,282.7L1873.3,284.6L1874.0,286.4L1874.6,287.8L1875.3,289.2L1875.9,290.7L1876.4,292.3L1877.0,293.8L1877.5,295.4L1878.0,296.8L1878.5,298.3L1878.9,299.6L1879.3,299.4L1879.7,298.7L1880.0,298.2L1880.3,297.7L1880.6,297.3L1880.9,297.0L1881.1,296.8L1881.3,296.6L1881.5,296.4L1881.7,296.3L1881.8,296.1L1881.8,357.1L1881.7,355.8L1881.5,354.4L1881.3,352.6L1881.1,350.7L1880.9,348.5L1880.6,346.1L1880.3,343.5L1880.0,340.7L1879.7,337.7L1879.3,334.5L1878.9,331.5L1878.5,329.6L1878.0,327.5L1877.5,325.4L1877.0,323.2L1876.4,320.9L1875.9,318.6L1875.3,316.3L1874.6,314.0L1874.0,311.8L1873.3,309.7L1872.6,307.5L1871.8,305.2L1871.0,303.0L1870.2,300.7L1869.4,298.5L1868.6,296.4L1867.7,294.5L1866.9,292.7L1866.1,291.2L1865.3,290.0L1864.6,289.0L1863.8,288.2L1863.1,287.5L1862.4,286.9L1861.6,286.4L1860.8,286.0L1860.0,285.7L1859.1,285.4L1858.2,285.1L1857.2,285.0L1856.2,284.9L1855.2,285.0L1854.1,285.2L1852.9,285.4L1851.8,285.6L1850.6,285.9L1849.5,286.1L1848.3,286.3L1847.1,286.4L1845.9,286.5L1844.7,286.6L1843.4,286.7L1842.2,286.7L1840.9,286.8L1839.6,286.8L1838.3,286.8L1837.0,286.7L1835.8,286.6L1834.5,286.4L1833.2,286.2L1832.0,285.9L1830.7,285.5L1829.5,285.1L1828.2,284.7L1826.9,284.2L1825.7,283.7L1824.4,283.1L1823.2,282.5L1821.9,281.8L1820.7,281.0L1819.4,280.2L1818.2,279.4L1817.0,278.6L1815.8,277.6L1814.6,276.6L1813.3,275.6L1812.0,274.4L1810.7,273.2L1809.3,271.8L1807.8,270.3L1806.3,268.7L1804.8,267.0L1803.2,265.2L1801.6,263.3L1800.0,261.3L1798.3,259.4L1796.7,257.5L1795.1,255.6L1793.5,253.8L1791.9,252.0L1790.4,250.2L1788.8,248.4L1787.2,246.5L1785.7,244.7L1784.1,242.9L1782.5,241.1L1780.9,239.4L1779.4,237.7L1777.8,236.1L1776.2,234.6L1774.6,233.1L1773.0,231.6L1771.3,230.2L1769.7,228.8L1768.1,227.4L1766.5,226.2L1765.0,225.1L1763.5,224.0L1762.0,223.1L1760.6,222.4L1759.2,221.7L1757.8,221.2L1756.4,220.8L1755.1,220.4L1753.8,220.1L1752.6,219.9L1751.5,219.7L1750.4,219.5L1749.4,219.3L1748.6,219.2L1747.9,219.1L1747.3,219.0L1746.8,219.0L1746.4,219.0L1745.9,219.0L1745.4,219.1L1744.8,219.3L1744.0,219.5L1743.0,219.7L1741.8,220.0L1740.5,220.3L1739.0,220.6L1737.4,221.0L1735.7,221.4L1734.0,221.9L1732.3,222.4L1730.6,223.1L1728.9,223.8L1727.3,224.7L1725.7,225.6L1724.1,226.7L1722.6,227.8L1721.0,229.0L1719.4,230.3L1717.8,231.7L1716.2,233.1L1714.7,234.6L1713.1,236.1L1711.5,237.6L1709.9,239.2L1708.2,240.9L1706.6,242.7L1704.9,244.6L1703.2,246.5L1701.6,248.4L1700.0,250.2L1698.5,252.0L1697.1,253.7L1695.8,255.3L1694.7,256.6L1693.7,257.9L1692.9,259.0L1692.1,260.0L1691.4,261.0L1690.7,261.9L1689.9,262.9L1689.1,264.0L1688.1,265.3L1687.0,266.6L1685.7,268.2L1684.4,269.8L1682.9,271.6L1681.4,273.5L1679.8,275.3L1678.1,277.3L1676.5,279.2L1674.8,281.1L1673.0,282.9L1671.3,284.7L1669.5,286.4L1667.7,288.2L1665.9,289.9L1664.0,291.7L1662.1,293.4L1660.1,295.1L1658.2,296.7L1656.2,298.3L1654.3,299.8L1652.4,301.3L1650.5,302.7L1648.6,304.0L1646.7,305.3L1644.8,306.5L1642.9,307.7L1641.0,308.8L1639.1,309.9L1637.2,310.9L1635.3,311.9L1633.4,312.8L1631.5,313.7L1629.6,314.5L1627.7,315.2L1625.8,315.8L1623.9,316.5L1622.1,317.1L1620.2,317.6L1618.3,318.2L1616.4,318.7L1614.5,319.2L1612.6,319.8L1610.7,320.2L1608.8,320.7L1606.9,321.1L1605.0,321.5L1603.2,321.9L1601.3,322.3L1599.4,322.7L1597.5,323.1L1595.6,323.6L1593.7,323.9L1591.8,324.2L1589.9,324.5L1588.0,324.7L1586.2,325.0L1584.3,325.3L1582.4,325.6L1580.5,326.0L1578.6,326.5L1576.7,327.0L1574.8,327.6L1572.9,328.3L1570.9,329.0L1569.0,329.7L1567.1,330.5L1565.1,331.4L1563.2,332.3L1561.4,333.2L1559.6,334.2L1557.8,335.2L1556.1,336.3L1554.4,337.4L1552.8,338.6L1551.3,339.8L1549.7,341.1L1548.2,342.4L1546.6,343.7L1545.1,345.1L1543.6,346.6L1542.0,348.1L1540.4,349.7L1538.8,351.4L1537.2,353.1L1535.6,354.9L1534.0,356.7L1532.4,358.6L1530.8,360.4L1529.3,362.3L1527.7,364.0L1526.2,365.8L1524.7,367.5L1523.2,369.3L1521.7,371.1L1520.2,372.8L1518.7,374.6L1517.3,376.3L1515.9,377.9L1514.5,379.3L1513.2,380.6L1512.0,381.7L1510.9,382.7L1509.8,383.4L1508.8,384.1L1507.8,384.6L1506.9,385.0L1506.0,385.3L1505.2,385.6L1504.3,385.8L1503.5,385.9L1502.6,386.0L1501.7,386.2L1500.9,386.3L1500.1,386.3L1499.3,386.2L1498.5,386.1L1497.7,386.0L1496.9,385.7L1496.2,385.4L1495.4,385.7L1494.7,386.1L1494.0,386.3L1493.2,386.5L1492.5,386.5L1491.7,386.5L1491.0,386.4L1490.3,387.8L1489.7,389.2L1489.1,390.4L1488.7,391.4L1488.3,392.2Z" fill="rgb(70,171,96)" fill-opacity="0.68"/>
<path d="M1488.3,360.6L1489.0,361.5L1489.9,362.8L1491.0,364.4L1492.2,366.0L1493.5,367.4L1494.7,368.5L1495.9,369.3L1497.2,370.0L1498.5,370.5L1499.8,370.9L1501.2,371.0L1502.6,371.0L1504.0,370.8L1505.4,370.6L1506.9,370.1L1508.5,369.4L1510.1,368.3L1512.0,366.9L1514.1,365.0L1516.3,362.6L1518.7,359.9L1521.2,357.0L1523.7,354.0L1526.2,351.2L1528.7,348.3L1531.3,345.3L1534.0,342.3L1536.7,339.3L1539.3,336.4L1542.0,333.8L1544.6,331.4L1547.2,329.1L1549.7,326.9L1552.3,324.9L1555.0,323.0L1557.8,321.2L1560.8,319.6L1563.9,318.0L1567.1,316.7L1570.3,315.4L1573.5,314.3L1576.7,313.3L1579.9,312.5L1583.0,311.9L1586.2,311.5L1589.3,311.1L1592.5,310.7L1595.6,310.2L1598.8,309.7L1601.9,309.2L1605.0,308.7L1608.2,308.2L1611.3,307.7L1614.5,307.0L1617.6,306.3L1620.8,305.6L1623.9,304.8L1627.1,303.9L1630.2,302.9L1633.4,301.7L1636.6,300.3L1639.7,298.8L1642.9,297.2L1646.1,295.4L1649.2,293.4L1652.4,291.3L1655.6,289.0L1658.8,286.5L1662.1,283.8L1665.2,281.1L1668.3,278.3L1671.3,275.5L1674.2,272.6L1677.0,269.6L1679.8,266.5L1682.4,263.5L1684.8,260.6L1687.0,258.1L1688.8,256.0L1690.2,254.2L1691.4,252.6L1692.6,251.0L1694.0,249.2L1695.8,247.1L1698.0,244.5L1700.5,241.6L1703.2,238.6L1706.0,235.5L1708.8,232.5L1711.5,229.8L1714.1,227.3L1716.8,224.9L1719.4,222.7L1722.0,220.6L1724.7,218.7L1727.3,217.1L1730.0,215.8L1732.9,214.8L1735.7,214.0L1738.5,213.3L1740.9,212.8L1743.0,212.4L1744.5,212.1L1745.6,211.8L1746.4,211.7L1747.2,211.8L1748.1,211.9L1749.4,212.1L1751.1,212.4L1753.0,212.6L1755.1,213.0L1757.3,213.6L1759.6,214.4L1762.0,215.6L1764.4,217.1L1767.0,219.0L1769.7,221.0L1772.4,223.3L1775.1,225.7L1777.8,228.2L1780.4,230.8L1783.0,233.6L1785.7,236.5L1788.3,239.6L1790.9,242.6L1793.5,245.5L1796.2,248.5L1798.9,251.6L1801.6,254.7L1804.3,257.7L1806.9,260.5L1809.3,262.9L1811.6,265.0L1813.7,266.8L1815.8,268.4L1817.8,269.9L1819.8,271.1L1821.9,272.3L1824.0,273.3L1826.1,274.2L1828.2,275.0L1830.3,275.6L1832.4,276.0L1834.5,276.4L1836.6,276.6L1838.8,276.7L1840.9,276.6L1843.0,276.5L1845.1,276.3L1847.1,276.1L1849.1,275.8L1851.0,275.4L1852.9,274.9L1854.8,274.5L1856.6,274.4L1858.2,274.5L1859.7,274.9L1861.1,275.4L1862.4,276.1L1863.6,277.1L1864.8,278.4L1866.1,280.2L1867.4,282.6L1868.8,285.5L1870.2,288.8L1871.6,292.3L1872.8,295.8L1874.0,299.1L1875.1,302.4L1876.1,305.7L1877.0,309.1L1877.8,312.4L1878.6,315.4L1879.3,318.1L1879.9,320.5L1880.4,322.8L1880.9,324.8L1881.3,326.5L1881.6,328.0L1881.8,329.1" fill="none" stroke="rgb(70,171,96)" stroke-opacity="0.92" stroke-width="4.0" stroke-linecap="butt" stroke-linejoin="round"/>
<rect x="1443.90" y="36.50" width="481.85" height="388.00" fill="none" stroke="#000" stroke-width="3.6"/>
<line x1="1487.70" y1="424.50" x2="1487.70" y2="417.40" stroke="#000" stroke-width="3.5"/>
<text x="1487.70" y="458.70" font-size="25.2" text-anchor="middle">0</text>
<line x1="1575.31" y1="424.50" x2="1575.31" y2="417.40" stroke="#000" stroke-width="3.5"/>
<text x="1575.31" y="458.70" font-size="25.2" text-anchor="middle">20</text>
<line x1="1662.92" y1="424.50" x2="1662.92" y2="417.40" stroke="#000" stroke-width="3.5"/>
<text x="1662.92" y="458.70" font-size="25.2" text-anchor="middle">40</text>
<line x1="1750.53" y1="424.50" x2="1750.53" y2="417.40" stroke="#000" stroke-width="3.5"/>
<text x="1750.53" y="458.70" font-size="25.2" text-anchor="middle">60</text>
<line x1="1838.14" y1="424.50" x2="1838.14" y2="417.40" stroke="#000" stroke-width="3.5"/>
<text x="1838.14" y="458.70" font-size="25.2" text-anchor="middle">80</text>
<text x="1925.75" y="458.70" font-size="25.2" text-anchor="middle">100</text>
<line x1="1443.90" y1="57.65" x2="1451.00" y2="57.65" stroke="#000" stroke-width="3.5"/>
<text x="1428.10" y="67.00" font-size="25.2" text-anchor="end">0.6</text>
<line x1="1443.90" y1="100.81" x2="1451.00" y2="100.81" stroke="#000" stroke-width="3.5"/>
<text x="1428.10" y="109.72" font-size="25.2" text-anchor="end">0.5</text>
<line x1="1443.90" y1="143.96" x2="1451.00" y2="143.96" stroke="#000" stroke-width="3.5"/>
<text x="1428.10" y="152.44" font-size="25.2" text-anchor="end">0.4</text>
<line x1="1443.90" y1="187.12" x2="1451.00" y2="187.12" stroke="#000" stroke-width="3.5"/>
<text x="1428.10" y="195.16" font-size="25.2" text-anchor="end">0.3</text>
<line x1="1443.90" y1="230.27" x2="1451.00" y2="230.27" stroke="#000" stroke-width="3.5"/>
<text x="1428.10" y="237.87" font-size="25.2" text-anchor="end">0.2</text>
<line x1="1443.90" y1="273.43" x2="1451.00" y2="273.43" stroke="#000" stroke-width="3.5"/>
<text x="1428.10" y="280.59" font-size="25.2" text-anchor="end">0.1</text>
<line x1="1443.90" y1="316.59" x2="1451.00" y2="316.59" stroke="#000" stroke-width="3.5"/>
<text x="1428.10" y="323.31" font-size="25.2" text-anchor="end">0.0</text>
<line x1="1443.90" y1="359.74" x2="1451.00" y2="359.74" stroke="#000" stroke-width="3.5"/>
<text x="1428.10" y="366.03" font-size="25.2" text-anchor="end"><tspan dy="-1.2">–</tspan><tspan dy="1.2">0.1</tspan></text>
<line x1="1443.90" y1="402.90" x2="1451.00" y2="402.90" stroke="#000" stroke-width="3.5"/>
<text x="1428.10" y="408.75" font-size="25.2" text-anchor="end"><tspan dy="-1.2">–</tspan><tspan dy="1.2">0.2</tspan></text>
<text x="1684.83" y="494.70" font-size="24.8" text-anchor="middle" textLength="84.5" lengthAdjust="spacingAndGlyphs">Time (s)</text>
<text transform="translate(1352.90,230.10) rotate(-90)" font-size="24.8" text-anchor="middle"><tspan font-style="italic">I</tspan> (A)</text>
<text x="1331.6" y="29.9" font-size="43" font-weight="bold">c</text>
<path d="M1488.4,800.4L1488.9,801.8L1489.6,803.7L1490.4,805.9L1491.3,808.3L1492.3,811.0L1493.4,813.8L1494.4,816.7L1495.6,819.6L1496.7,822.3L1497.8,824.8L1498.9,827.2L1500.1,829.5L1501.4,831.9L1502.6,834.3L1503.9,836.6L1505.3,838.8L1506.6,841.0L1507.9,843.1L1509.2,845.1L1510.5,847.0L1511.8,848.8L1513.0,850.5L1514.3,852.1L1515.5,853.6L1516.8,854.9L1518.1,856.2L1519.3,857.5L1520.6,858.6L1521.8,859.7L1523.1,860.8L1524.4,861.8L1525.6,862.7L1526.9,863.6L1528.1,864.4L1529.4,865.1L1530.7,865.8L1531.9,866.4L1533.2,867.0L1534.4,867.5L1535.7,868.1L1537.0,868.6L1538.2,869.0L1539.5,869.4L1540.7,869.8L1542.0,870.1L1543.3,870.4L1544.5,870.7L1545.8,870.9L1547.0,871.1L1548.3,871.2L1549.5,871.2L1550.8,871.2L1552.0,871.1L1553.2,871.1L1554.4,871.0L1555.6,870.8L1556.9,870.5L1558.2,870.2L1559.5,869.8L1560.9,869.4L1562.4,868.8L1563.9,868.1L1565.4,867.4L1567.0,866.5L1568.6,865.7L1570.2,864.7L1571.9,863.7L1573.5,862.7L1575.1,861.6L1576.7,860.6L1578.3,859.5L1579.9,858.3L1581.4,857.1L1583.0,855.9L1584.6,854.7L1586.2,853.4L1587.8,852.0L1589.3,850.6L1590.9,849.2L1592.5,847.6L1594.1,846.1L1595.6,844.5L1597.2,842.8L1598.8,841.1L1600.4,839.3L1601.9,837.6L1603.5,835.7L1605.1,833.9L1606.6,832.0L1608.2,830.1L1609.8,828.2L1611.4,826.2L1612.9,824.2L1614.5,822.1L1616.1,820.0L1617.7,817.9L1619.3,815.8L1620.8,813.7L1622.4,811.5L1624.0,809.4L1625.6,807.2L1627.2,805.1L1628.7,802.9L1630.3,800.7L1631.9,798.4L1633.5,796.2L1635.1,794.0L1636.6,791.7L1638.2,789.4L1639.8,787.1L1641.4,784.8L1642.9,782.5L1644.5,780.1L1646.1,777.7L1647.7,775.4L1649.2,773.0L1650.8,770.6L1652.4,768.3L1653.9,765.9L1655.5,763.6L1657.1,761.4L1658.7,759.1L1660.2,756.9L1661.8,754.7L1663.4,752.5L1665.0,750.3L1666.6,748.1L1668.1,745.9L1669.7,743.8L1671.3,741.7L1672.9,739.5L1674.6,737.3L1676.3,735.1L1678.0,732.9L1679.6,730.7L1681.3,728.6L1682.9,726.6L1684.4,724.7L1685.8,722.9L1687.1,721.3L1688.2,719.9L1689.2,718.7L1690.0,717.7L1690.8,716.8L1691.5,715.9L1692.2,715.1L1692.9,714.2L1693.7,713.3L1694.7,712.2L1695.8,711.0L1697.1,709.5L1698.5,708.0L1700.0,706.3L1701.6,704.6L1703.2,702.8L1704.9,701.0L1706.6,699.2L1708.2,697.5L1709.9,695.8L1711.5,694.2L1713.1,692.7L1714.7,691.1L1716.2,689.6L1717.8,688.2L1719.4,686.7L1721.0,685.3L1722.6,684.0L1724.1,682.6L1725.7,681.3L1727.3,680.1L1728.9,678.9L1730.5,677.7L1732.0,676.6L1733.6,675.5L1735.2,674.4L1736.8,673.4L1738.4,672.4L1739.9,671.5L1741.5,670.6L1743.1,669.7L1744.7,668.9L1746.2,668.1L1747.8,667.4L1749.4,666.7L1751.0,666.1L1752.5,665.5L1754.1,665.0L1755.7,664.4L1757.2,663.9L1758.8,663.5L1760.4,663.1L1762.0,662.7L1763.6,662.4L1765.2,662.1L1766.8,661.9L1768.4,661.6L1770.0,661.4L1771.5,661.3L1773.1,661.1L1774.6,661.0L1776.1,660.8L1777.5,660.7L1778.9,660.6L1780.2,660.5L1781.6,660.4L1783.0,660.4L1784.4,660.4L1785.8,660.4L1787.3,660.5L1788.8,660.6L1790.4,660.7L1792.1,660.9L1793.8,661.1L1795.6,661.3L1797.3,661.6L1799.1,661.9L1800.9,662.2L1802.7,662.6L1804.4,663.1L1806.1,663.6L1807.7,664.2L1809.4,664.9L1811.0,665.6L1812.5,666.3L1814.1,667.2L1815.7,668.0L1817.2,668.9L1818.8,669.9L1820.3,670.8L1821.9,671.8L1823.5,672.8L1825.1,673.9L1826.6,675.0L1828.2,676.2L1829.8,677.4L1831.4,678.6L1833.0,679.8L1834.5,681.1L1836.1,682.4L1837.7,683.8L1839.3,685.2L1840.8,686.6L1842.4,688.0L1844.0,689.5L1845.6,691.0L1847.1,692.4L1848.7,693.9L1850.3,695.4L1851.8,697.0L1853.4,698.6L1855.0,700.2L1856.6,701.9L1858.2,703.7L1859.9,705.6L1861.5,707.4L1863.1,709.0L1864.7,710.5L1866.2,711.9L1867.7,713.3L1869.2,714.5L1870.6,715.8L1872.1,717.0L1873.6,718.1L1875.1,719.1L1876.5,720.1L1877.8,721.1L1879.0,722.0L1880.1,722.7L1881.1,723.4L1881.8,723.9L1881.8,758.9L1881.1,757.7L1880.1,756.2L1879.0,754.4L1877.8,752.4L1876.5,750.3L1875.1,748.0L1873.6,745.6L1872.1,743.1L1870.6,741.0L1869.2,738.9L1867.7,736.7L1866.2,734.4L1864.7,732.1L1863.1,729.7L1861.5,727.3L1859.9,725.2L1858.2,723.1L1856.6,721.0L1855.0,719.0L1853.4,717.0L1851.8,715.2L1850.3,713.4L1848.7,711.6L1847.1,709.8L1845.6,708.1L1844.0,706.4L1842.4,704.8L1840.8,703.2L1839.3,701.7L1837.7,700.2L1836.1,698.7L1834.5,697.3L1833.0,695.9L1831.4,694.5L1829.8,693.1L1828.2,691.8L1826.6,690.5L1825.1,689.3L1823.5,688.1L1821.9,687.0L1820.3,685.9L1818.8,684.8L1817.2,683.8L1815.7,682.9L1814.1,682.0L1812.5,681.1L1811.0,680.3L1809.4,679.5L1807.7,678.8L1806.1,678.2L1804.4,677.6L1802.7,677.1L1800.9,676.6L1799.1,676.2L1797.3,675.8L1795.6,675.5L1793.8,675.2L1792.1,675.0L1790.4,674.8L1788.8,674.6L1787.3,674.5L1785.8,674.5L1784.4,674.4L1783.0,674.5L1781.6,674.6L1780.2,674.6L1778.9,674.8L1777.5,674.9L1776.1,675.1L1774.6,675.2L1773.1,675.4L1771.5,675.6L1770.0,675.8L1768.4,676.1L1766.8,676.3L1765.2,676.6L1763.6,676.9L1762.0,677.3L1760.4,677.7L1758.8,678.1L1757.2,678.6L1755.7,679.1L1754.1,679.7L1752.5,680.3L1751.0,680.9L1749.4,681.6L1747.8,682.3L1746.2,683.0L1744.7,683.8L1743.1,684.7L1741.5,685.6L1739.9,686.5L1738.4,687.5L1736.8,688.6L1735.2,689.7L1733.6,690.8L1732.0,692.0L1730.5,693.2L1728.9,694.4L1727.3,695.7L1725.7,697.0L1724.1,698.4L1722.6,699.8L1721.0,701.3L1719.4,702.8L1717.8,704.3L1716.2,705.8L1714.7,707.4L1713.1,709.0L1711.5,710.6L1709.9,712.3L1708.2,714.1L1706.6,715.9L1704.9,717.8L1703.2,719.6L1701.6,721.5L1700.0,723.3L1698.5,725.0L1697.1,726.6L1695.8,728.0L1694.7,729.3L1693.7,730.4L1692.9,731.4L1692.2,732.2L1691.5,733.1L1690.8,733.9L1690.0,734.8L1689.2,735.9L1688.2,737.1L1687.1,738.5L1685.8,740.2L1684.4,742.0L1682.9,743.9L1681.3,746.0L1679.6,748.1L1678.0,750.3L1676.3,752.5L1674.6,754.7L1672.9,757.0L1671.3,759.1L1669.7,761.3L1668.1,763.5L1666.6,765.6L1665.0,767.8L1663.4,770.1L1661.8,772.3L1660.2,774.5L1658.7,776.8L1657.1,779.1L1655.5,781.4L1653.9,783.7L1652.4,786.0L1650.8,788.4L1649.2,790.8L1647.7,793.2L1646.1,795.6L1644.5,798.0L1642.9,800.4L1641.4,802.8L1639.8,805.1L1638.2,807.4L1636.6,809.6L1635.1,811.8L1633.5,814.0L1631.9,816.2L1630.3,818.4L1628.7,820.6L1627.2,822.7L1625.6,824.9L1624.0,827.0L1622.4,829.1L1620.8,831.2L1619.3,833.3L1617.7,835.4L1616.1,837.5L1614.5,839.5L1612.9,841.5L1611.4,843.5L1609.8,845.4L1608.2,847.3L1606.6,849.2L1605.1,851.0L1603.5,852.8L1601.9,854.6L1600.4,856.3L1598.8,858.0L1597.2,859.7L1595.6,861.3L1594.1,862.9L1592.5,864.4L1590.9,865.8L1589.3,867.2L1587.8,868.5L1586.2,869.8L1584.6,871.0L1583.0,872.2L1581.4,873.4L1579.9,874.5L1578.3,875.6L1576.7,876.6L1575.1,877.6L1573.5,878.6L1571.9,879.6L1570.2,880.5L1568.6,881.4L1567.0,882.2L1565.4,883.0L1563.9,883.7L1562.4,884.3L1560.9,884.8L1559.5,885.3L1558.2,885.6L1556.9,885.9L1555.6,886.1L1554.4,886.2L1553.2,886.3L1552.0,886.3L1550.8,886.3L1549.5,886.3L1548.3,886.2L1547.0,886.2L1545.8,886.2L1544.5,886.2L1543.3,886.1L1542.0,886.0L1540.7,885.9L1539.5,885.7L1538.2,885.5L1537.0,885.2L1535.7,884.9L1534.4,884.6L1533.2,884.2L1531.9,883.8L1530.7,883.4L1529.4,882.9L1528.1,882.4L1526.9,881.8L1525.6,881.1L1524.4,880.4L1523.1,879.6L1521.8,878.7L1520.6,877.8L1519.3,876.8L1518.1,875.8L1516.8,874.7L1515.5,873.5L1514.3,872.3L1513.0,871.1L1511.8,869.9L1510.5,868.5L1509.2,867.0L1507.9,865.5L1506.6,863.8L1505.3,862.1L1503.9,860.3L1502.6,858.4L1501.4,856.5L1500.1,854.5L1498.9,852.8L1497.8,851.0L1496.7,849.2L1495.6,847.1L1494.4,844.9L1493.4,842.6L1492.3,840.9L1491.3,839.5L1490.4,838.2L1489.6,837.1L1488.9,836.1L1488.4,835.4Z" fill="rgb(241,82,82)" fill-opacity="0.7"/>
<path d="M1488.4,813.4L1489.4,816.0L1490.7,819.7L1492.3,824.0L1494.1,828.6L1495.9,833.1L1497.8,837.1L1499.7,840.8L1501.8,844.5L1503.9,848.0L1506.2,851.5L1508.4,854.7L1510.5,857.6L1512.6,860.2L1514.7,862.6L1516.8,864.8L1518.9,866.8L1521.0,868.6L1523.1,870.2L1525.2,871.7L1527.3,872.9L1529.4,874.0L1531.5,874.9L1533.6,875.8L1535.7,876.5L1537.8,877.1L1539.9,877.7L1542.0,878.1L1544.1,878.4L1546.2,878.6L1548.3,878.7L1550.4,878.7L1552.4,878.7L1554.4,878.6L1556.5,878.3L1558.6,877.8L1560.9,877.1L1563.3,876.1L1565.9,874.9L1568.6,873.5L1571.3,872.0L1574.0,870.3L1576.7,868.6L1579.3,866.8L1582.0,864.9L1584.6,862.9L1587.2,860.7L1589.9,858.4L1592.5,856.0L1595.1,853.4L1597.7,850.7L1600.4,847.8L1603.0,844.9L1605.6,841.8L1608.2,838.7L1610.8,835.5L1613.5,832.2L1616.1,828.8L1618.7,825.3L1621.4,821.7L1624.0,818.2L1626.6,814.6L1629.3,811.0L1631.9,807.3L1634.5,803.6L1637.2,799.9L1639.8,796.1L1642.4,792.2L1645.0,788.3L1647.7,784.3L1650.3,780.3L1652.9,776.4L1655.5,772.5L1658.1,768.7L1660.8,765.0L1663.4,761.3L1666.0,757.6L1668.7,754.0L1671.3,750.4L1674.0,746.8L1676.8,743.1L1679.6,739.4L1682.4,735.9L1684.9,732.7L1687.1,729.9L1688.9,727.7L1690.3,725.9L1691.5,724.5L1692.6,723.1L1694.0,721.5L1695.8,719.5L1698.0,717.0L1700.5,714.2L1703.2,711.2L1706.0,708.2L1708.8,705.2L1711.5,702.4L1714.1,699.8L1716.8,697.2L1719.4,694.8L1722.0,692.4L1724.7,690.1L1727.3,687.9L1729.9,685.8L1732.6,683.9L1735.2,682.0L1737.8,680.3L1740.5,678.7L1743.1,677.2L1745.7,675.8L1748.3,674.6L1751.0,673.5L1753.6,672.5L1756.2,671.6L1758.8,670.8L1761.4,670.1L1764.1,669.5L1766.8,669.1L1769.4,668.7L1772.1,668.4L1774.6,668.1L1777.0,667.8L1779.3,667.6L1781.6,667.5L1783.9,667.4L1786.3,667.4L1788.8,667.6L1791.5,667.9L1794.4,668.2L1797.3,668.7L1800.3,669.3L1803.3,670.0L1806.1,670.9L1808.8,672.0L1811.5,673.2L1814.1,674.6L1816.7,676.1L1819.3,677.7L1821.9,679.4L1824.5,681.2L1827.2,683.2L1829.8,685.2L1832.4,687.4L1835.1,689.7L1837.7,692.0L1840.3,694.4L1842.9,696.9L1845.6,699.5L1848.2,702.2L1850.8,705.0L1853.4,707.8L1856.1,710.8L1858.8,714.0L1861.5,717.3L1864.2,720.6L1866.8,723.8L1869.2,726.7L1871.6,729.5L1874.1,732.3L1876.5,735.0L1878.7,737.4L1880.5,739.4L1881.8,740.9" fill="none" stroke="rgb(241,82,82)" stroke-opacity="0.92" stroke-width="4.0" stroke-linecap="butt" stroke-linejoin="round"/>
<path d="M1487.8,750.5L1488.6,750.9L1489.6,751.3L1490.7,751.9L1492.0,752.5L1493.4,753.1L1494.9,753.9L1496.4,754.4L1498.0,754.5L1499.5,754.7L1501.0,754.9L1502.5,755.1L1504.0,755.4L1505.6,755.6L1507.1,756.0L1508.7,756.1L1510.4,756.0L1512.0,755.9L1513.6,755.8L1515.2,755.8L1516.8,755.8L1518.3,755.8L1519.8,755.9L1521.3,755.8L1522.8,755.8L1524.3,755.8L1525.8,755.8L1527.3,755.8L1529.0,755.9L1530.7,756.0L1532.5,756.1L1534.4,756.2L1536.5,756.4L1538.6,756.6L1540.7,756.8L1543.0,757.1L1545.2,757.4L1547.5,757.7L1549.9,758.0L1552.2,758.4L1554.6,758.9L1557.0,759.4L1559.4,759.9L1561.9,760.4L1564.5,761.0L1567.0,761.6L1569.6,762.3L1572.1,762.9L1574.7,763.6L1577.3,764.3L1579.8,765.0L1582.3,765.7L1584.9,766.5L1587.4,767.2L1589.9,768.0L1592.4,768.9L1595.0,769.7L1597.5,770.5L1600.0,771.2L1602.6,772.0L1605.1,772.7L1607.6,773.4L1610.1,774.1L1612.7,774.7L1615.2,775.4L1617.7,776.0L1620.2,776.6L1622.7,777.2L1625.3,777.8L1627.8,778.3L1630.3,778.8L1632.8,779.2L1635.4,779.6L1637.9,779.9L1640.4,780.3L1642.9,780.6L1645.5,780.8L1648.0,781.1L1650.5,781.3L1653.0,781.5L1655.5,781.7L1658.0,781.9L1660.6,782.0L1663.2,782.0L1665.8,782.1L1668.3,782.1L1670.9,782.1L1673.3,782.2L1675.7,782.2L1677.9,782.1L1680.0,782.1L1681.9,782.2L1683.7,782.2L1685.4,782.1L1687.0,782.1L1688.4,782.1L1689.9,782.1L1691.3,782.1L1692.8,782.2L1694.3,782.3L1695.8,782.3L1697.4,782.3L1698.9,782.3L1700.5,782.3L1702.1,782.3L1703.7,782.3L1705.2,782.2L1706.8,782.2L1708.4,782.1L1709.9,782.0L1711.5,781.9L1713.1,781.8L1714.7,781.6L1716.2,781.5L1717.8,781.3L1719.4,781.2L1721.0,781.0L1722.6,780.8L1724.1,780.6L1725.7,780.3L1727.3,780.1L1728.9,779.8L1730.5,779.6L1732.0,779.3L1733.6,778.9L1735.2,778.6L1736.8,778.3L1738.4,777.9L1739.9,777.6L1741.5,777.2L1743.1,776.8L1744.7,776.4L1746.2,776.1L1747.8,775.7L1749.4,775.3L1751.0,774.9L1752.5,774.5L1754.1,774.0L1755.7,773.6L1757.2,773.1L1758.8,772.6L1760.4,772.0L1762.0,771.5L1763.5,770.9L1765.1,770.3L1766.7,769.7L1768.3,769.0L1769.9,768.4L1771.4,767.7L1773.0,767.0L1774.6,766.3L1776.2,765.6L1777.8,764.9L1779.3,764.2L1780.9,763.5L1782.5,762.7L1784.1,762.0L1785.7,761.2L1787.2,760.4L1788.8,759.6L1790.4,758.8L1792.0,758.0L1793.5,757.2L1795.1,756.3L1796.7,755.5L1798.2,754.7L1799.8,753.8L1801.4,753.0L1803.0,752.1L1804.5,751.2L1806.1,750.3L1807.7,749.4L1809.3,748.5L1810.8,747.6L1812.4,746.7L1814.0,745.7L1815.6,744.8L1817.2,743.8L1818.7,742.8L1820.3,741.8L1821.9,740.8L1823.5,739.8L1825.1,738.8L1826.6,737.7L1828.2,736.6L1829.8,735.5L1831.4,734.4L1833.0,733.3L1834.5,732.2L1836.1,731.1L1837.7,730.1L1839.3,729.0L1840.8,727.8L1842.4,726.6L1844.0,725.4L1845.6,724.2L1847.1,723.0L1848.7,721.8L1850.3,720.6L1851.8,719.4L1853.4,718.1L1855.0,716.9L1856.6,715.6L1858.2,714.3L1859.9,712.5L1861.5,710.8L1863.1,709.1L1864.7,707.4L1866.2,705.8L1867.7,704.2L1869.2,702.1L1870.6,700.0L1872.1,697.9L1873.6,695.7L1875.1,693.5L1876.5,690.9L1877.8,688.4L1879.0,686.2L1880.1,684.2L1881.1,682.5L1881.8,681.1L1881.8,725.1L1881.1,724.8L1880.1,724.5L1879.0,724.1L1877.8,723.7L1876.5,723.2L1875.1,722.7L1873.6,722.7L1872.1,722.8L1870.6,722.8L1869.2,722.9L1867.7,723.0L1866.2,723.7L1864.7,724.4L1863.1,725.2L1861.5,725.9L1859.9,726.7L1858.2,727.4L1856.6,728.5L1855.0,729.7L1853.4,730.9L1851.8,732.0L1850.3,733.1L1848.7,734.3L1847.1,735.4L1845.6,736.5L1844.0,737.6L1842.4,738.8L1840.8,739.9L1839.3,741.1L1837.7,742.3L1836.1,743.6L1834.5,744.9L1833.0,746.2L1831.4,747.4L1829.8,748.7L1828.2,750.0L1826.6,751.3L1825.1,752.5L1823.5,753.8L1821.9,755.0L1820.3,756.2L1818.7,757.3L1817.2,758.5L1815.6,759.6L1814.0,760.8L1812.4,761.9L1810.8,763.0L1809.3,764.1L1807.7,765.2L1806.1,766.3L1804.5,767.4L1803.0,768.4L1801.4,769.5L1799.8,770.5L1798.2,771.6L1796.7,772.6L1795.1,773.6L1793.5,774.6L1792.0,775.6L1790.4,776.6L1788.8,777.6L1787.2,778.6L1785.7,779.5L1784.1,780.5L1782.5,781.4L1780.9,782.4L1779.3,783.3L1777.8,784.2L1776.2,785.2L1774.6,786.1L1773.0,787.0L1771.4,787.8L1769.9,788.7L1768.3,789.6L1766.7,790.4L1765.1,791.3L1763.5,792.1L1762.0,792.9L1760.4,793.7L1758.8,794.4L1757.2,795.2L1755.7,795.9L1754.1,796.5L1752.5,797.2L1751.0,797.8L1749.4,798.4L1747.8,799.0L1746.2,799.6L1744.7,800.2L1743.1,800.8L1741.5,801.3L1739.9,801.9L1738.4,802.4L1736.8,802.9L1735.2,803.4L1733.6,803.9L1732.0,804.4L1730.5,804.8L1728.9,805.3L1727.3,805.7L1725.7,806.1L1724.1,806.5L1722.6,806.9L1721.0,807.2L1719.4,807.6L1717.8,807.9L1716.2,808.2L1714.7,808.5L1713.1,808.8L1711.5,809.1L1709.9,809.4L1708.4,809.6L1706.8,809.9L1705.2,810.1L1703.7,810.3L1702.1,810.5L1700.5,810.7L1698.9,810.8L1697.4,811.0L1695.8,811.1L1694.3,811.2L1692.8,811.3L1691.3,811.4L1689.9,811.5L1688.4,811.4L1687.0,811.3L1685.4,811.2L1683.7,811.1L1681.9,811.0L1680.0,810.9L1677.9,810.7L1675.7,810.5L1673.3,810.4L1670.9,810.2L1668.3,810.0L1665.8,809.8L1663.2,809.6L1660.6,809.3L1658.0,809.0L1655.5,808.7L1653.0,808.3L1650.5,808.0L1648.0,807.6L1645.5,807.1L1642.9,806.7L1640.4,806.2L1637.9,805.7L1635.4,805.1L1632.8,804.6L1630.3,804.0L1627.8,803.5L1625.3,802.9L1622.7,802.3L1620.2,801.7L1617.7,801.0L1615.2,800.3L1612.7,799.6L1610.1,798.9L1607.6,798.2L1605.1,797.5L1602.6,796.7L1600.0,796.0L1597.5,795.1L1595.0,794.3L1592.4,793.4L1589.9,792.6L1587.4,791.8L1584.9,790.9L1582.3,790.2L1579.8,789.4L1577.3,788.7L1574.7,787.9L1572.1,787.2L1569.6,786.5L1567.0,785.8L1564.5,785.1L1561.9,784.5L1559.4,783.9L1557.0,783.4L1554.6,782.9L1552.2,782.5L1549.9,782.2L1547.5,781.9L1545.2,781.6L1543.0,781.4L1540.7,781.2L1538.6,781.1L1536.5,780.9L1534.4,780.8L1532.5,780.7L1530.7,780.7L1529.0,780.6L1527.3,780.6L1525.8,780.6L1524.3,780.6L1522.8,780.7L1521.3,780.8L1519.8,780.9L1518.3,781.3L1516.8,781.6L1515.2,782.0L1513.6,782.4L1512.0,782.9L1510.4,783.4L1508.7,783.9L1507.1,784.7L1505.6,785.7L1504.0,786.7L1502.5,787.7L1501.0,788.7L1499.5,789.8L1498.0,790.9L1496.4,792.1L1494.9,793.7L1493.4,795.6L1492.0,797.3L1490.7,798.9L1489.6,800.3L1488.6,801.6L1487.8,802.5Z" fill="rgb(70,171,96)" fill-opacity="0.68"/>
<path d="M1487.8,776.5L1489.2,776.0L1491.1,775.2L1493.4,774.3L1495.9,773.4L1498.5,772.5L1501.0,771.8L1503.5,771.2L1506.1,770.5L1508.7,770.0L1511.4,769.5L1514.1,769.0L1516.8,768.7L1519.3,768.5L1521.8,768.3L1524.3,768.2L1526.8,768.2L1529.5,768.3L1532.5,768.4L1535.8,768.6L1539.3,768.9L1543.0,769.2L1546.8,769.7L1550.7,770.2L1554.6,770.9L1558.6,771.7L1562.8,772.7L1567.0,773.7L1571.3,774.8L1575.6,776.0L1579.8,777.2L1584.0,778.4L1588.2,779.8L1592.4,781.1L1596.7,782.5L1600.9,783.9L1605.1,785.1L1609.3,786.3L1613.5,787.4L1617.7,788.5L1621.9,789.5L1626.1,790.5L1630.3,791.4L1634.5,792.2L1638.7,792.9L1642.9,793.6L1647.2,794.2L1651.3,794.7L1655.5,795.2L1659.7,795.6L1664.0,795.9L1668.3,796.1L1672.5,796.2L1676.4,796.4L1680.0,796.5L1683.1,796.6L1685.9,796.7L1688.4,796.8L1690.9,796.8L1693.3,796.8L1695.8,796.7L1698.4,796.6L1701.0,796.5L1703.7,796.3L1706.3,796.1L1708.9,795.8L1711.5,795.5L1714.1,795.2L1716.8,794.8L1719.4,794.4L1722.0,793.9L1724.7,793.4L1727.3,792.9L1729.9,792.3L1732.6,791.7L1735.2,791.0L1737.8,790.3L1740.5,789.6L1743.1,788.8L1745.7,788.0L1748.3,787.2L1751.0,786.3L1753.6,785.5L1756.2,784.5L1758.8,783.5L1761.4,782.4L1764.1,781.3L1766.7,780.0L1769.3,778.8L1772.0,777.5L1774.6,776.2L1777.2,774.9L1779.9,773.5L1782.5,772.1L1785.1,770.6L1787.8,769.2L1790.4,767.7L1793.0,766.2L1795.6,764.7L1798.2,763.1L1800.9,761.5L1803.5,759.9L1806.1,758.3L1808.7,756.6L1811.4,755.0L1814.0,753.2L1816.6,751.5L1819.3,749.7L1821.9,747.9L1824.5,746.0L1827.2,744.1L1829.8,742.1L1832.4,740.1L1835.1,738.2L1837.7,736.2L1840.3,734.3L1842.9,732.3L1845.6,730.4L1848.2,728.4L1850.8,726.5L1853.4,724.5L1856.1,722.5L1858.8,720.4L1861.5,718.4L1864.2,716.3L1866.8,714.4L1869.2,712.5L1871.6,710.7L1874.1,708.8L1876.5,707.0L1878.7,705.4L1880.5,704.1L1881.8,703.1" fill="none" stroke="rgb(70,171,96)" stroke-opacity="0.92" stroke-width="4.0" stroke-linecap="butt" stroke-linejoin="round"/>
<rect x="1442.90" y="580.90" width="483.20" height="389.90" fill="none" stroke="#000" stroke-width="3.6"/>
<line x1="1486.83" y1="970.80" x2="1486.83" y2="963.70" stroke="#000" stroke-width="3.5"/>
<text x="1488.23" y="1001.80" font-size="25.2" text-anchor="middle">0</text>
<line x1="1574.68" y1="970.80" x2="1574.68" y2="963.70" stroke="#000" stroke-width="3.5"/>
<text x="1576.08" y="1001.80" font-size="25.2" text-anchor="middle">20</text>
<line x1="1662.54" y1="970.80" x2="1662.54" y2="963.70" stroke="#000" stroke-width="3.5"/>
<text x="1663.94" y="1001.80" font-size="25.2" text-anchor="middle">40</text>
<line x1="1750.39" y1="970.80" x2="1750.39" y2="963.70" stroke="#000" stroke-width="3.5"/>
<text x="1751.79" y="1001.80" font-size="25.2" text-anchor="middle">60</text>
<line x1="1838.25" y1="970.80" x2="1838.25" y2="963.70" stroke="#000" stroke-width="3.5"/>
<text x="1839.55" y="1001.80" font-size="25.2" text-anchor="middle">80</text>
<text x="1929.10" y="1001.80" font-size="25.2" text-anchor="middle">100</text>
<line x1="1442.90" y1="603.84" x2="1450.00" y2="603.84" stroke="#000" stroke-width="3.5"/>
<text x="1428.00" y="614.11" font-size="25.2" text-anchor="end">0.3</text>
<line x1="1442.90" y1="649.71" x2="1450.00" y2="649.71" stroke="#000" stroke-width="3.5"/>
<text x="1428.00" y="659.49" font-size="25.2" text-anchor="end">0.2</text>
<line x1="1442.90" y1="695.58" x2="1450.00" y2="695.58" stroke="#000" stroke-width="3.5"/>
<text x="1428.00" y="704.87" font-size="25.2" text-anchor="end">0.1</text>
<line x1="1442.90" y1="741.45" x2="1450.00" y2="741.45" stroke="#000" stroke-width="3.5"/>
<text x="1428.00" y="750.25" font-size="25.2" text-anchor="end">0.0</text>
<line x1="1442.90" y1="787.32" x2="1450.00" y2="787.32" stroke="#000" stroke-width="3.5"/>
<text x="1428.00" y="795.63" font-size="25.2" text-anchor="end"><tspan dy="-1.2">–</tspan><tspan dy="1.2">0.1</tspan></text>
<line x1="1442.90" y1="833.19" x2="1450.00" y2="833.19" stroke="#000" stroke-width="3.5"/>
<text x="1428.00" y="841.01" font-size="25.2" text-anchor="end"><tspan dy="-1.2">–</tspan><tspan dy="1.2">0.2</tspan></text>
<line x1="1442.90" y1="879.06" x2="1450.00" y2="879.06" stroke="#000" stroke-width="3.5"/>
<text x="1428.00" y="886.39" font-size="25.2" text-anchor="end"><tspan dy="-1.2">–</tspan><tspan dy="1.2">0.3</tspan></text>
<line x1="1442.90" y1="924.93" x2="1450.00" y2="924.93" stroke="#000" stroke-width="3.5"/>
<text x="1428.00" y="931.77" font-size="25.2" text-anchor="end"><tspan dy="-1.2">–</tspan><tspan dy="1.2">0.4</tspan></text>
<text x="1428.00" y="977.15" font-size="25.2" text-anchor="end"><tspan dy="-1.2">–</tspan><tspan dy="1.2">0.5</tspan></text>
<text x="1684.50" y="1040.30" font-size="24.8" text-anchor="middle" textLength="84.5" lengthAdjust="spacingAndGlyphs">Time (s)</text>
<text transform="translate(1352.90,774.85) rotate(-90)" font-size="24.8" text-anchor="middle"><tspan font-style="italic">I</tspan> (A)</text>
<text x="1333.8" y="572" font-size="41.5" font-weight="bold">f</text>
</svg>
</body></html>
